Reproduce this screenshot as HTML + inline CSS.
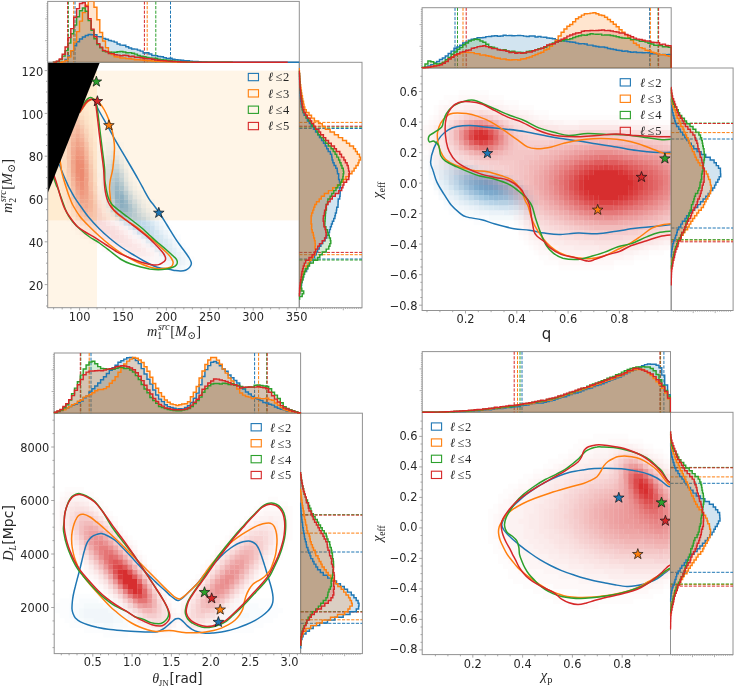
<!DOCTYPE html><html><head><meta charset="utf-8"><title>Posterior comparison</title><style>html,body{margin:0;padding:0;background:#fff}svg{display:block}</style></head><body><svg width="735" height="687" viewBox="0 0 735 687"><rect width="735" height="687" fill="#fff"/><clipPath id="c1m"><rect x="47.7" y="62.3" width="251.6" height="245.4"/></clipPath><clipPath id="c1t"><rect x="47.1" y="1.4" width="252.8" height="61.6"/></clipPath><clipPath id="c1r"><rect x="298.6" y="61.7" width="63.4" height="246.6"/></clipPath><g clip-path="url(#c1m)"><path fill="#fefcfc" d="M75.3 102.4h4.65v4.65h-4.65zM79.7 102.4h4.65v4.65h-4.65zM84.1 102.4h4.65v4.65h-4.65zM70.9 106.8h4.65v4.65h-4.65zM84.1 106.8h4.65v4.65h-4.65zM66.5 115.6h4.65v4.65h-4.65zM88.5 115.6h4.65v4.65h-4.65zM88.5 120h4.65v4.65h-4.65zM62.1 124.4h4.65v4.65h-4.65zM62.1 128.8h4.65v4.65h-4.65zM92.9 128.8h4.65v4.65h-4.65zM92.9 133.2h4.65v4.65h-4.65zM92.9 137.6h4.65v4.65h-4.65zM57.7 142h4.65v4.65h-4.65zM57.7 146.4h4.65v4.65h-4.65zM57.7 150.8h4.65v4.65h-4.65zM57.7 155.2h4.65v4.65h-4.65zM57.7 159.6h4.65v4.65h-4.65zM57.7 164h4.65v4.65h-4.65zM57.7 168.4h4.65v4.65h-4.65zM57.7 172.8h4.65v4.65h-4.65zM57.7 177.2h4.65v4.65h-4.65zM57.7 181.6h4.65v4.65h-4.65zM57.7 186h4.65v4.65h-4.65zM62.1 199.2h4.65v4.65h-4.65zM62.1 203.6h4.65v4.65h-4.65zM62.1 208h4.65v4.65h-4.65zM66.5 216.8h4.65v4.65h-4.65zM70.9 225.6h4.65v4.65h-4.65zM75.3 230h4.65v4.65h-4.65zM79.7 234.4h4.65v4.65h-4.65zM88.5 238.8h4.65v4.65h-4.65zM97.3 243.2h4.65v4.65h-4.65zM101.7 247.6h4.65v4.65h-4.65zM110.5 252h4.65v4.65h-4.65zM119.3 256.4h4.65v4.65h-4.65zM123.7 256.4h4.65v4.65h-4.65zM132.5 260.8h4.65v4.65h-4.65zM145.7 265.2h4.65v4.65h-4.65zM150.1 265.2h4.65v4.65h-4.65zM154.5 265.2h4.65v4.65h-4.65z"/><path fill="#fdf5f5" d="M75.3 106.8h4.65v4.65h-4.65zM79.7 106.8h4.65v4.65h-4.65zM70.9 111.2h4.65v4.65h-4.65zM84.1 115.6h4.65v4.65h-4.65zM66.5 120h4.65v4.65h-4.65zM88.5 128.8h4.65v4.65h-4.65zM62.1 137.6h4.65v4.65h-4.65zM92.9 150.8h4.65v4.65h-4.65zM92.9 155.2h4.65v4.65h-4.65zM62.1 177.2h4.65v4.65h-4.65zM62.1 181.6h4.65v4.65h-4.65zM97.3 186h4.65v4.65h-4.65zM66.5 203.6h4.65v4.65h-4.65zM70.9 216.8h4.65v4.65h-4.65zM75.3 225.6h4.65v4.65h-4.65zM79.7 230h4.65v4.65h-4.65zM101.7 243.2h4.65v4.65h-4.65zM110.5 247.6h4.65v4.65h-4.65zM119.3 252h4.65v4.65h-4.65zM132.5 256.4h4.65v4.65h-4.65zM150.1 256.4h4.65v4.65h-4.65z"/><path fill="#fbe7e7" d="M75.3 111.2h4.65v4.65h-4.65zM70.9 115.6h4.65v4.65h-4.65zM88.5 146.4h4.65v4.65h-4.65zM92.9 181.6h4.65v4.65h-4.65zM97.3 199.2h4.65v4.65h-4.65zM101.7 212.4h4.65v4.65h-4.65zM75.3 216.8h4.65v4.65h-4.65zM84.1 225.6h4.65v4.65h-4.65zM114.9 225.6h4.65v4.65h-4.65zM92.9 230h4.65v4.65h-4.65zM119.3 230h4.65v4.65h-4.65zM123.7 234.4h4.65v4.65h-4.65zM106.1 238.8h4.65v4.65h-4.65zM128.1 238.8h4.65v4.65h-4.65zM114.9 243.2h4.65v4.65h-4.65zM132.5 243.2h4.65v4.65h-4.65zM128.1 247.6h4.65v4.65h-4.65zM132.5 247.6h4.65v4.65h-4.65zM136.9 247.6h4.65v4.65h-4.65z"/><path fill="#fcf2f2" d="M79.7 111.2h4.65v4.65h-4.65zM84.1 120h4.65v4.65h-4.65zM88.5 133.2h4.65v4.65h-4.65zM92.9 159.6h4.65v4.65h-4.65zM92.9 164h4.65v4.65h-4.65zM62.1 168.4h4.65v4.65h-4.65zM62.1 172.8h4.65v4.65h-4.65zM97.3 190.4h4.65v4.65h-4.65zM66.5 199.2h4.65v4.65h-4.65zM88.5 234.4h4.65v4.65h-4.65zM97.3 238.8h4.65v4.65h-4.65zM136.9 238.8h4.65v4.65h-4.65zM106.1 243.2h4.65v4.65h-4.65zM141.3 243.2h4.65v4.65h-4.65zM114.9 247.6h4.65v4.65h-4.65zM145.7 247.6h4.65v4.65h-4.65zM123.7 252h4.65v4.65h-4.65zM150.1 252h4.65v4.65h-4.65zM136.9 256.4h4.65v4.65h-4.65zM141.3 256.4h4.65v4.65h-4.65zM145.7 256.4h4.65v4.65h-4.65z"/><path fill="#fef8f8" d="M84.1 111.2h4.65v4.65h-4.65zM88.5 124.4h4.65v4.65h-4.65zM62.1 133.2h4.65v4.65h-4.65zM92.9 142h4.65v4.65h-4.65zM92.9 146.4h4.65v4.65h-4.65zM97.3 177.2h4.65v4.65h-4.65zM97.3 181.6h4.65v4.65h-4.65zM62.1 186h4.65v4.65h-4.65zM62.1 190.4h4.65v4.65h-4.65zM62.1 194.8h4.65v4.65h-4.65zM66.5 208h4.65v4.65h-4.65zM66.5 212.4h4.65v4.65h-4.65zM70.9 221.2h4.65v4.65h-4.65zM84.1 234.4h4.65v4.65h-4.65zM92.9 238.8h4.65v4.65h-4.65zM106.1 247.6h4.65v4.65h-4.65zM114.9 252h4.65v4.65h-4.65zM128.1 256.4h4.65v4.65h-4.65zM136.9 260.8h4.65v4.65h-4.65zM141.3 260.8h4.65v4.65h-4.65zM145.7 260.8h4.65v4.65h-4.65zM150.1 260.8h4.65v4.65h-4.65z"/><path fill="#f9dddd" d="M75.3 115.6h4.65v4.65h-4.65zM84.1 133.2h4.65v4.65h-4.65zM88.5 155.2h4.65v4.65h-4.65zM66.5 177.2h4.65v4.65h-4.65zM70.9 199.2h4.65v4.65h-4.65zM97.3 208h4.65v4.65h-4.65zM75.3 212.4h4.65v4.65h-4.65zM84.1 221.2h4.65v4.65h-4.65zM101.7 221.2h4.65v4.65h-4.65zM97.3 225.6h4.65v4.65h-4.65zM101.7 225.6h4.65v4.65h-4.65zM106.1 225.6h4.65v4.65h-4.65zM101.7 230h4.65v4.65h-4.65zM106.1 230h4.65v4.65h-4.65zM110.5 230h4.65v4.65h-4.65zM110.5 234.4h4.65v4.65h-4.65zM114.9 234.4h4.65v4.65h-4.65z"/><path fill="#fbebeb" d="M79.7 115.6h4.65v4.65h-4.65zM84.1 124.4h4.65v4.65h-4.65zM88.5 142h4.65v4.65h-4.65zM92.9 172.8h4.65v4.65h-4.65zM92.9 177.2h4.65v4.65h-4.65zM66.5 190.4h4.65v4.65h-4.65zM70.9 208h4.65v4.65h-4.65zM101.7 208h4.65v4.65h-4.65zM106.1 216.8h4.65v4.65h-4.65zM110.5 221.2h4.65v4.65h-4.65zM88.5 230h4.65v4.65h-4.65zM97.3 234.4h4.65v4.65h-4.65zM110.5 243.2h4.65v4.65h-4.65zM136.9 243.2h4.65v4.65h-4.65zM123.7 247.6h4.65v4.65h-4.65zM141.3 247.6h4.65v4.65h-4.65zM132.5 252h4.65v4.65h-4.65zM136.9 252h4.65v4.65h-4.65zM141.3 252h4.65v4.65h-4.65z"/><path fill="#f7d6d7" d="M70.9 120h4.65v4.65h-4.65zM79.7 124.4h4.65v4.65h-4.65zM66.5 137.6h4.65v4.65h-4.65zM84.1 137.6h4.65v4.65h-4.65zM66.5 142h4.65v4.65h-4.65zM66.5 168.4h4.65v4.65h-4.65zM92.9 199.2h4.65v4.65h-4.65z"/><path fill="#f7d3d3" d="M75.3 120h4.65v4.65h-4.65zM66.5 146.4h4.65v4.65h-4.65zM66.5 150.8h4.65v4.65h-4.65zM66.5 159.6h4.65v4.65h-4.65zM66.5 164h4.65v4.65h-4.65zM88.5 164h4.65v4.65h-4.65zM70.9 194.8h4.65v4.65h-4.65zM75.3 208h4.65v4.65h-4.65zM92.9 216.8h4.65v4.65h-4.65z"/><path fill="#f9e1e1" d="M79.7 120h4.65v4.65h-4.65zM88.5 150.8h4.65v4.65h-4.65zM66.5 181.6h4.65v4.65h-4.65zM92.9 190.4h4.65v4.65h-4.65zM101.7 216.8h4.65v4.65h-4.65zM92.9 225.6h4.65v4.65h-4.65zM110.5 225.6h4.65v4.65h-4.65zM114.9 230h4.65v4.65h-4.65zM106.1 234.4h4.65v4.65h-4.65zM119.3 234.4h4.65v4.65h-4.65zM114.9 238.8h4.65v4.65h-4.65zM119.3 238.8h4.65v4.65h-4.65z"/><path fill="#fceeee" d="M66.5 124.4h4.65v4.65h-4.65zM88.5 137.6h4.65v4.65h-4.65zM62.1 142h4.65v4.65h-4.65zM62.1 146.4h4.65v4.65h-4.65zM62.1 150.8h4.65v4.65h-4.65zM62.1 155.2h4.65v4.65h-4.65zM62.1 159.6h4.65v4.65h-4.65zM62.1 164h4.65v4.65h-4.65zM92.9 168.4h4.65v4.65h-4.65zM66.5 194.8h4.65v4.65h-4.65zM97.3 194.8h4.65v4.65h-4.65zM70.9 212.4h4.65v4.65h-4.65zM75.3 221.2h4.65v4.65h-4.65zM79.7 225.6h4.65v4.65h-4.65zM119.3 225.6h4.65v4.65h-4.65zM84.1 230h4.65v4.65h-4.65zM123.7 230h4.65v4.65h-4.65zM92.9 234.4h4.65v4.65h-4.65zM128.1 234.4h4.65v4.65h-4.65zM101.7 238.8h4.65v4.65h-4.65zM132.5 238.8h4.65v4.65h-4.65zM119.3 247.6h4.65v4.65h-4.65zM128.1 252h4.65v4.65h-4.65zM145.7 252h4.65v4.65h-4.65z"/><path fill="#f5cccd" d="M70.9 124.4h4.65v4.65h-4.65zM79.7 128.8h4.65v4.65h-4.65zM84.1 142h4.65v4.65h-4.65zM88.5 172.8h4.65v4.65h-4.65zM88.5 177.2h4.65v4.65h-4.65zM70.9 190.4h4.65v4.65h-4.65zM79.7 212.4h4.65v4.65h-4.65z"/><path fill="#f4c6c6" d="M75.3 124.4h4.65v4.65h-4.65zM70.9 128.8h4.65v4.65h-4.65zM84.1 146.4h4.65v4.65h-4.65zM70.9 186h4.65v4.65h-4.65zM88.5 186h4.65v4.65h-4.65zM88.5 212.4h4.65v4.65h-4.65z"/><path fill="#fae4e4" d="M66.5 128.8h4.65v4.65h-4.65zM84.1 128.8h4.65v4.65h-4.65zM66.5 186h4.65v4.65h-4.65zM92.9 186h4.65v4.65h-4.65zM70.9 203.6h4.65v4.65h-4.65zM97.3 203.6h4.65v4.65h-4.65zM79.7 221.2h4.65v4.65h-4.65zM106.1 221.2h4.65v4.65h-4.65zM88.5 225.6h4.65v4.65h-4.65zM97.3 230h4.65v4.65h-4.65zM101.7 234.4h4.65v4.65h-4.65zM110.5 238.8h4.65v4.65h-4.65zM123.7 238.8h4.65v4.65h-4.65zM119.3 243.2h4.65v4.65h-4.65zM123.7 243.2h4.65v4.65h-4.65zM128.1 243.2h4.65v4.65h-4.65z"/><path fill="#f2bcbc" d="M75.3 128.8h4.65v4.65h-4.65zM70.9 137.6h4.65v4.65h-4.65zM88.5 199.2h4.65v4.65h-4.65zM88.5 203.6h4.65v4.65h-4.65z"/><path fill="#fcfdfe" d="M106.1 128.8h4.65v4.65h-4.65zM101.7 133.2h4.65v4.65h-4.65zM106.1 133.2h4.65v4.65h-4.65zM110.5 133.2h4.65v4.65h-4.65zM101.7 137.6h4.65v4.65h-4.65zM114.9 137.6h4.65v4.65h-4.65zM97.3 142h4.65v4.65h-4.65zM119.3 142h4.65v4.65h-4.65zM97.3 146.4h4.65v4.65h-4.65zM119.3 146.4h4.65v4.65h-4.65zM123.7 150.8h4.65v4.65h-4.65zM123.7 155.2h4.65v4.65h-4.65zM128.1 164h4.65v4.65h-4.65zM128.1 168.4h4.65v4.65h-4.65zM132.5 177.2h4.65v4.65h-4.65zM136.9 186h4.65v4.65h-4.65zM141.3 190.4h4.65v4.65h-4.65zM145.7 194.8h4.65v4.65h-4.65zM150.1 199.2h4.65v4.65h-4.65zM150.1 203.6h4.65v4.65h-4.65zM154.5 208h4.65v4.65h-4.65zM158.9 212.4h4.65v4.65h-4.65zM163.3 216.8h4.65v4.65h-4.65zM167.7 225.6h4.65v4.65h-4.65zM172.1 230h4.65v4.65h-4.65zM176.5 234.4h4.65v4.65h-4.65zM180.9 243.2h4.65v4.65h-4.65zM185.3 247.6h4.65v4.65h-4.65zM189.7 256.4h4.65v4.65h-4.65zM189.7 260.8h4.65v4.65h-4.65zM158.9 265.2h4.65v4.65h-4.65zM163.3 265.2h4.65v4.65h-4.65zM189.7 265.2h4.65v4.65h-4.65zM172.1 269.6h4.65v4.65h-4.65zM176.5 269.6h4.65v4.65h-4.65zM180.9 269.6h4.65v4.65h-4.65zM185.3 269.6h4.65v4.65h-4.65z"/><path fill="#f8dada" d="M66.5 133.2h4.65v4.65h-4.65zM88.5 159.6h4.65v4.65h-4.65zM66.5 172.8h4.65v4.65h-4.65zM92.9 194.8h4.65v4.65h-4.65zM97.3 212.4h4.65v4.65h-4.65zM79.7 216.8h4.65v4.65h-4.65zM97.3 216.8h4.65v4.65h-4.65zM88.5 221.2h4.65v4.65h-4.65zM92.9 221.2h4.65v4.65h-4.65zM97.3 221.2h4.65v4.65h-4.65z"/><path fill="#f3bfbf" d="M70.9 133.2h4.65v4.65h-4.65zM84.1 150.8h4.65v4.65h-4.65zM70.9 181.6h4.65v4.65h-4.65zM88.5 194.8h4.65v4.65h-4.65zM75.3 199.2h4.65v4.65h-4.65zM79.7 208h4.65v4.65h-4.65zM88.5 208h4.65v4.65h-4.65z"/><path fill="#f0b1b2" d="M75.3 133.2h4.65v4.65h-4.65zM70.9 146.4h4.65v4.65h-4.65zM84.1 159.6h4.65v4.65h-4.65zM70.9 172.8h4.65v4.65h-4.65z"/><path fill="#f3c2c3" d="M79.7 133.2h4.65v4.65h-4.65zM88.5 190.4h4.65v4.65h-4.65zM84.1 212.4h4.65v4.65h-4.65z"/><path fill="#efabab" d="M75.3 137.6h4.65v4.65h-4.65zM70.9 155.2h4.65v4.65h-4.65zM70.9 164h4.65v4.65h-4.65zM84.1 164h4.65v4.65h-4.65zM70.9 168.4h4.65v4.65h-4.65zM75.3 190.4h4.65v4.65h-4.65zM84.1 199.2h4.65v4.65h-4.65z"/><path fill="#f2b8b8" d="M79.7 137.6h4.65v4.65h-4.65zM84.1 155.2h4.65v4.65h-4.65zM70.9 177.2h4.65v4.65h-4.65zM84.1 208h4.65v4.65h-4.65z"/><path fill="#f8fbfd" d="M106.1 137.6h4.65v4.65h-4.65zM110.5 137.6h4.65v4.65h-4.65zM101.7 142h4.65v4.65h-4.65zM114.9 142h4.65v4.65h-4.65zM101.7 146.4h4.65v4.65h-4.65zM123.7 159.6h4.65v4.65h-4.65zM128.1 172.8h4.65v4.65h-4.65zM132.5 181.6h4.65v4.65h-4.65zM141.3 194.8h4.65v4.65h-4.65zM145.7 199.2h4.65v4.65h-4.65zM150.1 208h4.65v4.65h-4.65zM154.5 212.4h4.65v4.65h-4.65zM158.9 216.8h4.65v4.65h-4.65zM163.3 221.2h4.65v4.65h-4.65zM172.1 234.4h4.65v4.65h-4.65zM176.5 238.8h4.65v4.65h-4.65zM180.9 247.6h4.65v4.65h-4.65zM185.3 252h4.65v4.65h-4.65zM167.7 265.2h4.65v4.65h-4.65zM185.3 265.2h4.65v4.65h-4.65z"/><path fill="#f1b5b5" d="M70.9 142h4.65v4.65h-4.65zM75.3 194.8h4.65v4.65h-4.65zM79.7 203.6h4.65v4.65h-4.65z"/><path fill="#eea4a4" d="M75.3 142h4.65v4.65h-4.65zM79.7 146.4h4.65v4.65h-4.65zM84.1 172.8h4.65v4.65h-4.65zM84.1 186h4.65v4.65h-4.65zM84.1 190.4h4.65v4.65h-4.65z"/><path fill="#f0aeae" d="M79.7 142h4.65v4.65h-4.65zM70.9 150.8h4.65v4.65h-4.65zM84.1 203.6h4.65v4.65h-4.65z"/><path fill="#f4f9fb" d="M106.1 142h4.65v4.65h-4.65zM110.5 142h4.65v4.65h-4.65zM114.9 146.4h4.65v4.65h-4.65zM101.7 150.8h4.65v4.65h-4.65zM119.3 150.8h4.65v4.65h-4.65zM123.7 164h4.65v4.65h-4.65zM128.1 177.2h4.65v4.65h-4.65zM132.5 186h4.65v4.65h-4.65zM136.9 190.4h4.65v4.65h-4.65zM145.7 203.6h4.65v4.65h-4.65zM163.3 225.6h4.65v4.65h-4.65zM167.7 230h4.65v4.65h-4.65zM176.5 243.2h4.65v4.65h-4.65zM185.3 256.4h4.65v4.65h-4.65zM185.3 260.8h4.65v4.65h-4.65zM172.1 265.2h4.65v4.65h-4.65zM180.9 265.2h4.65v4.65h-4.65z"/><path fill="#ec9d9e" d="M75.3 146.4h4.65v4.65h-4.65zM79.7 150.8h4.65v4.65h-4.65z"/><path fill="#f1f6fa" d="M106.1 146.4h4.65v4.65h-4.65zM110.5 146.4h4.65v4.65h-4.65zM101.7 155.2h4.65v4.65h-4.65zM119.3 155.2h4.65v4.65h-4.65zM101.7 159.6h4.65v4.65h-4.65zM141.3 199.2h4.65v4.65h-4.65zM150.1 212.4h4.65v4.65h-4.65zM154.5 216.8h4.65v4.65h-4.65zM158.9 221.2h4.65v4.65h-4.65zM167.7 234.4h4.65v4.65h-4.65zM172.1 238.8h4.65v4.65h-4.65zM176.5 247.6h4.65v4.65h-4.65zM180.9 252h4.65v4.65h-4.65zM167.7 260.8h4.65v4.65h-4.65zM176.5 265.2h4.65v4.65h-4.65z"/><path fill="#eb9697" d="M75.3 150.8h4.65v4.65h-4.65zM79.7 190.4h4.65v4.65h-4.65z"/><path fill="#fbfafa" d="M97.3 150.8h4.65v4.65h-4.65zM97.3 155.2h4.65v4.65h-4.65zM97.3 159.6h4.65v4.65h-4.65zM97.3 164h4.65v4.65h-4.65zM97.3 168.4h4.65v4.65h-4.65z"/><path fill="#eef4f9" d="M106.1 150.8h4.65v4.65h-4.65zM114.9 150.8h4.65v4.65h-4.65zM101.7 164h4.65v4.65h-4.65zM101.7 168.4h4.65v4.65h-4.65zM123.7 168.4h4.65v4.65h-4.65zM101.7 172.8h4.65v4.65h-4.65zM101.7 177.2h4.65v4.65h-4.65zM128.1 181.6h4.65v4.65h-4.65zM136.9 194.8h4.65v4.65h-4.65zM145.7 208h4.65v4.65h-4.65zM163.3 230h4.65v4.65h-4.65zM172.1 243.2h4.65v4.65h-4.65zM180.9 256.4h4.65v4.65h-4.65zM180.9 260.8h4.65v4.65h-4.65z"/><path fill="#e6f0f7" d="M110.5 150.8h4.65v4.65h-4.65zM106.1 155.2h4.65v4.65h-4.65zM123.7 172.8h4.65v4.65h-4.65zM128.1 186h4.65v4.65h-4.65zM150.1 216.8h4.65v4.65h-4.65zM154.5 221.2h4.65v4.65h-4.65zM163.3 234.4h4.65v4.65h-4.65zM167.7 238.8h4.65v4.65h-4.65zM172.1 247.6h4.65v4.65h-4.65zM167.7 256.4h4.65v4.65h-4.65zM176.5 256.4h4.65v4.65h-4.65z"/><path fill="#f6d0d0" d="M66.5 155.2h4.65v4.65h-4.65zM88.5 168.4h4.65v4.65h-4.65zM92.9 203.6h4.65v4.65h-4.65zM92.9 208h4.65v4.65h-4.65zM92.9 212.4h4.65v4.65h-4.65zM84.1 216.8h4.65v4.65h-4.65zM88.5 216.8h4.65v4.65h-4.65z"/><path fill="#ea9090" d="M75.3 155.2h4.65v4.65h-4.65zM75.3 177.2h4.65v4.65h-4.65zM79.7 186h4.65v4.65h-4.65z"/><path fill="#ea9394" d="M79.7 155.2h4.65v4.65h-4.65z"/><path fill="#e0ecf4" d="M110.5 155.2h4.65v4.65h-4.65zM106.1 159.6h4.65v4.65h-4.65zM119.3 164h4.65v4.65h-4.65zM123.7 177.2h4.65v4.65h-4.65zM132.5 194.8h4.65v4.65h-4.65zM141.3 208h4.65v4.65h-4.65zM154.5 225.6h4.65v4.65h-4.65zM167.7 243.2h4.65v4.65h-4.65zM167.7 252h4.65v4.65h-4.65z"/><path fill="#e3eef6" d="M114.9 155.2h4.65v4.65h-4.65zM136.9 199.2h4.65v4.65h-4.65zM145.7 212.4h4.65v4.65h-4.65zM158.9 230h4.65v4.65h-4.65zM172.1 252h4.65v4.65h-4.65zM172.1 256.4h4.65v4.65h-4.65z"/><path fill="#eea7a8" d="M70.9 159.6h4.65v4.65h-4.65zM84.1 168.4h4.65v4.65h-4.65zM84.1 194.8h4.65v4.65h-4.65zM79.7 199.2h4.65v4.65h-4.65z"/><path fill="#e98989" d="M75.3 159.6h4.65v4.65h-4.65zM75.3 164h4.65v4.65h-4.65zM79.7 164h4.65v4.65h-4.65zM75.3 168.4h4.65v4.65h-4.65z"/><path fill="#e98c8d" d="M79.7 159.6h4.65v4.65h-4.65zM75.3 172.8h4.65v4.65h-4.65zM79.7 181.6h4.65v4.65h-4.65z"/><path fill="#d2e3f0" d="M110.5 159.6h4.65v4.65h-4.65zM106.1 172.8h4.65v4.65h-4.65zM106.1 177.2h4.65v4.65h-4.65zM106.1 181.6h4.65v4.65h-4.65zM106.1 186h4.65v4.65h-4.65zM154.5 234.4h4.65v4.65h-4.65zM154.5 238.8h4.65v4.65h-4.65z"/><path fill="#d8e8f2" d="M114.9 159.6h4.65v4.65h-4.65zM106.1 164h4.65v4.65h-4.65zM136.9 203.6h4.65v4.65h-4.65zM145.7 216.8h4.65v4.65h-4.65zM150.1 221.2h4.65v4.65h-4.65zM158.9 234.4h4.65v4.65h-4.65zM163.3 243.2h4.65v4.65h-4.65zM163.3 247.6h4.65v4.65h-4.65z"/><path fill="#eaf2f8" d="M119.3 159.6h4.65v4.65h-4.65zM132.5 190.4h4.65v4.65h-4.65zM141.3 203.6h4.65v4.65h-4.65zM158.9 225.6h4.65v4.65h-4.65zM176.5 252h4.65v4.65h-4.65zM172.1 260.8h4.65v4.65h-4.65zM176.5 260.8h4.65v4.65h-4.65z"/><path fill="#c7ddec" d="M110.5 164h4.65v4.65h-4.65zM119.3 172.8h4.65v4.65h-4.65zM123.7 186h4.65v4.65h-4.65zM141.3 216.8h4.65v4.65h-4.65z"/><path fill="#cadfed" d="M114.9 164h4.65v4.65h-4.65zM145.7 221.2h4.65v4.65h-4.65zM150.1 230h4.65v4.65h-4.65zM150.1 234.4h4.65v4.65h-4.65z"/><path fill="#e88686" d="M79.7 168.4h4.65v4.65h-4.65zM79.7 172.8h4.65v4.65h-4.65zM79.7 177.2h4.65v4.65h-4.65z"/><path fill="#d5e6f1" d="M106.1 168.4h4.65v4.65h-4.65zM119.3 168.4h4.65v4.65h-4.65zM123.7 181.6h4.65v4.65h-4.65zM106.1 190.4h4.65v4.65h-4.65zM128.1 190.4h4.65v4.65h-4.65zM141.3 212.4h4.65v4.65h-4.65zM154.5 230h4.65v4.65h-4.65zM158.9 238.8h4.65v4.65h-4.65zM158.9 243.2h4.65v4.65h-4.65z"/><path fill="#bcd7e9" d="M110.5 168.4h4.65v4.65h-4.65zM114.9 168.4h4.65v4.65h-4.65zM119.3 177.2h4.65v4.65h-4.65zM136.9 216.8h4.65v4.65h-4.65zM132.5 221.2h4.65v4.65h-4.65zM136.9 221.2h4.65v4.65h-4.65zM141.3 225.6h4.65v4.65h-4.65z"/><path fill="#faf6f7" d="M97.3 172.8h4.65v4.65h-4.65zM154.5 252h4.65v4.65h-4.65zM154.5 256.4h4.65v4.65h-4.65zM154.5 260.8h4.65v4.65h-4.65z"/><path fill="#b6d2e6" d="M110.5 172.8h4.65v4.65h-4.65zM132.5 208h4.65v4.65h-4.65zM132.5 216.8h4.65v4.65h-4.65z"/><path fill="#aecee4" d="M114.9 172.8h4.65v4.65h-4.65zM110.5 177.2h4.65v4.65h-4.65zM119.3 181.6h4.65v4.65h-4.65z"/><path fill="#eda0a1" d="M84.1 177.2h4.65v4.65h-4.65zM84.1 181.6h4.65v4.65h-4.65zM75.3 186h4.65v4.65h-4.65zM79.7 194.8h4.65v4.65h-4.65z"/><path fill="#a4c8e1" d="M114.9 177.2h4.65v4.65h-4.65zM128.1 203.6h4.65v4.65h-4.65zM128.1 212.4h4.65v4.65h-4.65z"/><path fill="#ec9a9a" d="M75.3 181.6h4.65v4.65h-4.65z"/><path fill="#f5c9c9" d="M88.5 181.6h4.65v4.65h-4.65zM75.3 203.6h4.65v4.65h-4.65z"/><path fill="#edf1f6" d="M101.7 181.6h4.65v4.65h-4.65z"/><path fill="#abcce3" d="M110.5 181.6h4.65v4.65h-4.65zM110.5 194.8h4.65v4.65h-4.65z"/><path fill="#9ac1dd" d="M114.9 181.6h4.65v4.65h-4.65z"/><path fill="#f1f3f7" d="M101.7 186h4.65v4.65h-4.65zM101.7 190.4h4.65v4.65h-4.65z"/><path fill="#a8cae2" d="M110.5 186h4.65v4.65h-4.65zM110.5 190.4h4.65v4.65h-4.65z"/><path fill="#8fbbda" d="M114.9 186h4.65v4.65h-4.65zM119.3 190.4h4.65v4.65h-4.65zM123.7 199.2h4.65v4.65h-4.65z"/><path fill="#a0c6df" d="M119.3 186h4.65v4.65h-4.65zM123.7 194.8h4.65v4.65h-4.65zM128.1 208h4.65v4.65h-4.65z"/><path fill="#88b7d7" d="M114.9 190.4h4.65v4.65h-4.65zM114.9 199.2h4.65v4.65h-4.65zM123.7 203.6h4.65v4.65h-4.65z"/><path fill="#b2d0e5" d="M123.7 190.4h4.65v4.65h-4.65zM110.5 199.2h4.65v4.65h-4.65zM128.1 199.2h4.65v4.65h-4.65zM132.5 212.4h4.65v4.65h-4.65zM128.1 216.8h4.65v4.65h-4.65z"/><path fill="#f4f2f5" d="M101.7 194.8h4.65v4.65h-4.65zM136.9 234.4h4.65v4.65h-4.65z"/><path fill="#d8e5ef" d="M106.1 194.8h4.65v4.65h-4.65zM154.5 243.2h4.65v4.65h-4.65z"/><path fill="#84b5d6" d="M114.9 194.8h4.65v4.65h-4.65z"/><path fill="#81b2d5" d="M119.3 194.8h4.65v4.65h-4.65z"/><path fill="#c4dbeb" d="M128.1 194.8h4.65v4.65h-4.65zM136.9 212.4h4.65v4.65h-4.65zM145.7 225.6h4.65v4.65h-4.65zM141.3 230h4.65v4.65h-4.65zM145.7 230h4.65v4.65h-4.65z"/><path fill="#f6f1f3" d="M101.7 199.2h4.65v4.65h-4.65zM123.7 225.6h4.65v4.65h-4.65zM145.7 243.2h4.65v4.65h-4.65z"/><path fill="#dce7f0" d="M106.1 199.2h4.65v4.65h-4.65zM141.3 234.4h4.65v4.65h-4.65zM158.9 247.6h4.65v4.65h-4.65z"/><path fill="#7aaed2" d="M119.3 199.2h4.65v4.65h-4.65z"/><path fill="#cee1ef" d="M132.5 199.2h4.65v4.65h-4.65zM136.9 208h4.65v4.65h-4.65zM150.1 225.6h4.65v4.65h-4.65z"/><path fill="#f9eced" d="M101.7 203.6h4.65v4.65h-4.65zM106.1 212.4h4.65v4.65h-4.65z"/><path fill="#e6eaf0" d="M106.1 203.6h4.65v4.65h-4.65zM128.1 225.6h4.65v4.65h-4.65zM150.1 243.2h4.65v4.65h-4.65z"/><path fill="#bdd4e6" d="M110.5 203.6h4.65v4.65h-4.65z"/><path fill="#92bddb" d="M114.9 203.6h4.65v4.65h-4.65z"/><path fill="#7eb0d4" d="M119.3 203.6h4.65v4.65h-4.65z"/><path fill="#c0d9ea" d="M132.5 203.6h4.65v4.65h-4.65zM141.3 221.2h4.65v4.65h-4.65zM136.9 225.6h4.65v4.65h-4.65z"/><path fill="#f3eff2" d="M106.1 208h4.65v4.65h-4.65z"/><path fill="#cedbe8" d="M110.5 208h4.65v4.65h-4.65z"/><path fill="#a8c7df" d="M114.9 208h4.65v4.65h-4.65z"/><path fill="#8cb9d8" d="M119.3 208h4.65v4.65h-4.65zM123.7 208h4.65v4.65h-4.65z"/><path fill="#ecebef" d="M110.5 212.4h4.65v4.65h-4.65zM114.9 216.8h4.65v4.65h-4.65z"/><path fill="#c4d8e8" d="M114.9 212.4h4.65v4.65h-4.65zM128.1 221.2h4.65v4.65h-4.65z"/><path fill="#a5c5de" d="M119.3 212.4h4.65v4.65h-4.65z"/><path fill="#9dc4de" d="M123.7 212.4h4.65v4.65h-4.65z"/><path fill="#f9f0f0" d="M110.5 216.8h4.65v4.65h-4.65zM114.9 221.2h4.65v4.65h-4.65z"/><path fill="#c7dae9" d="M119.3 216.8h4.65v4.65h-4.65z"/><path fill="#b6d0e3" d="M123.7 216.8h4.65v4.65h-4.65z"/><path fill="#f0edf0" d="M119.3 221.2h4.65v4.65h-4.65z"/><path fill="#d8e2ec" d="M123.7 221.2h4.65v4.65h-4.65z"/><path fill="#cbdcea" d="M132.5 225.6h4.65v4.65h-4.65zM145.7 234.4h4.65v4.65h-4.65z"/><path fill="#faf3f4" d="M128.1 230h4.65v4.65h-4.65zM132.5 234.4h4.65v4.65h-4.65zM150.1 247.6h4.65v4.65h-4.65z"/><path fill="#edeef3" d="M132.5 230h4.65v4.65h-4.65z"/><path fill="#d2e0ed" d="M136.9 230h4.65v4.65h-4.65zM150.1 238.8h4.65v4.65h-4.65z"/><path fill="#f7f4f6" d="M141.3 238.8h4.65v4.65h-4.65z"/><path fill="#e3ebf2" d="M145.7 238.8h4.65v4.65h-4.65z"/><path fill="#dceaf3" d="M163.3 238.8h4.65v4.65h-4.65zM167.7 247.6h4.65v4.65h-4.65z"/><path fill="#e9ecf1" d="M154.5 247.6h4.65v4.65h-4.65z"/><path fill="#eaeff5" d="M158.9 252h4.65v4.65h-4.65zM163.3 256.4h4.65v4.65h-4.65z"/><path fill="#dfe9f1" d="M163.3 252h4.65v4.65h-4.65z"/><path fill="#f7f7f9" d="M158.9 256.4h4.65v4.65h-4.65zM158.9 260.8h4.65v4.65h-4.65z"/><path fill="#f4f5f8" d="M163.3 260.8h4.65v4.65h-4.65z"/><rect x="47.7" y="70.6" width="251.6" height="149.8" fill="#ff9e1f" fill-opacity="0.105"/><rect x="47.7" y="70.6" width="49.3" height="237.1" fill="#ff9e1f" fill-opacity="0.105"/><path d="M59.5 165C60.1 166.5 61.8 171.2 63 174C64.2 176.8 65.5 179.8 66.5 182C67.5 184.2 67.5 184.7 69 187.5C70.5 190.3 73.2 195.4 75.3 198.7C77.4 202 79.3 204.4 81.5 207.5C83.7 210.6 85.6 213.5 88.5 217C91.4 220.5 95.4 224.9 99 228.5C102.6 232.1 106.6 235.7 110.3 238.8C114 241.9 117.4 244.5 121 247C124.6 249.5 128.3 251.8 132 254C135.7 256.2 139.4 258.5 143 260.5C146.6 262.5 150.7 264.7 153.8 266C156.9 267.3 159 267.7 161.5 268.2C164 268.7 166.7 268.8 169 269.2C171.3 269.6 173.5 270.3 175.5 270.6C177.5 270.9 179.3 271.1 181 271C182.7 270.9 184.2 270.7 185.5 270.2C186.8 269.7 187.8 269 188.7 268.2C189.6 267.4 190.4 266.4 190.8 265.5C191.2 264.6 191.5 263.9 191.3 262.7C191.1 261.5 190.3 259.9 189.5 258.5C188.7 257.1 187.9 256 186.5 254C185.1 252 182.8 249 181 246.5C179.2 244 177.9 242.4 175.6 238.8C173.3 235.2 169.8 229.5 167 225C164.2 220.5 161 215.2 158.8 212C156.6 208.8 155.6 207.6 154 205.5C152.4 203.4 151.2 202.2 149.5 199.6C147.8 197 145.8 193.3 144 190C142.2 186.7 141.4 185 138.6 180C135.8 175 130.9 166.6 127 160C123.1 153.4 118.6 146 115.3 140.2C112 134.4 109.8 130 107 125C104.2 120 100.4 113.5 98.6 110C96.8 106.5 96.7 105.6 96 104C95.3 102.4 95.1 101.3 94.5 100.5C93.9 99.7 93.3 99.1 92.5 99C91.7 98.9 90.6 99.3 89.5 100C88.4 100.7 87.6 101 86 103C84.4 105 81 110.5 80 112" fill="none" stroke="#1f77b4" stroke-width="1.5" stroke-linejoin="round" stroke-linecap="round"/><path d="M59.5 157C59.8 158.5 60.6 163.5 61 166C61.4 168.5 60.9 168.7 61.7 172C62.5 175.3 64.3 181.6 65.7 186C67.1 190.4 68.7 195.2 70 198.5C71.3 201.8 71.6 203 73.3 206C75 209 77.5 213.2 80 216.5C82.5 219.8 85.3 222.5 88.5 225.7C91.7 228.9 95.4 232.4 99 235.7C102.6 239 106.6 242.4 110.3 245.3C114 248.2 117.4 250.6 121 253C124.6 255.4 128.7 257.7 132 259.5C135.3 261.3 138.1 262.6 141 263.8C143.9 265.1 147 266.2 149.5 267C152 267.8 153.8 268.1 156 268.4C158.2 268.7 160.6 268.7 162.5 268.6C164.4 268.5 166 268.3 167.5 268C169 267.7 170.4 267.2 171.3 266.6C172.2 266 172.5 265.1 172.8 264.3C173.1 263.5 173.3 262.7 173 261.6C172.7 260.6 172 259.3 171.2 258C170.4 256.7 169.7 255.8 168 254C166.3 252.2 163.4 249.7 161 247.5C158.6 245.3 156.5 243.3 153.8 241C151.1 238.7 147.9 236.2 145 233.8C142.1 231.4 139.2 228.8 136.4 226.8C133.7 224.8 131 223.4 128.5 221.8C126 220.2 123.3 218.5 121.2 217C119.1 215.5 117.5 214.2 116 212.8C114.5 211.4 113.4 210.3 112.5 208.3C111.6 206.3 111 203.6 110.6 201C110.2 198.4 110.1 195.3 109.9 193C109.7 190.7 109.5 189.2 109.6 187C109.7 184.8 109.8 183.1 110.3 180C110.8 176.9 112.1 173.9 112.8 168.7C113.5 163.5 114.4 153.7 114.5 148.6C114.6 143.5 113.9 141.1 113.5 138C113.1 134.9 112.8 133.2 112 130C111.2 126.8 109.8 122.3 108.5 119C107.2 115.7 105.9 112.7 104.4 110C102.9 107.3 101 104.8 99.5 103C98 101.2 96.7 100.1 95.5 99.5C94.3 98.9 93.5 99 92.5 99.2C91.5 99.4 90.6 99.8 89.5 100.5C88.4 101.2 87.6 101.6 86 103.5C84.4 105.4 81 110.6 80 112" fill="none" stroke="#ff7f0e" stroke-width="1.5" stroke-linejoin="round" stroke-linecap="round"/><path d="M52.5 174.5C53.1 176.2 55.3 182.6 56.2 185C57.1 187.4 57 186.2 58 188.7C59 191.2 60.5 196 62 200C63.5 204 65 209.1 66.8 212.7C68.5 216.3 70.3 218.8 72.5 221.5C74.7 224.2 77 226.5 79.8 229C82.5 231.5 85.7 234.2 89 236.5C92.3 238.8 95.9 240.6 99.4 243C102.9 245.4 106.4 248.2 110 251C113.6 253.8 117.7 257.3 121.2 259.5C124.7 261.7 127.7 262.8 131 264C134.3 265.2 137.7 266.2 140.8 267C143.9 267.8 146.6 268.4 149.5 268.9C152.4 269.3 155.4 269.7 158.2 269.7C161 269.7 164 269.4 166.5 269C169 268.6 171.7 267.7 173.4 267C175.1 266.3 175.8 265.6 176.5 264.7C177.2 263.8 177.4 262.6 177.3 261.6C177.2 260.6 176.7 259.7 176 258.8C175.3 257.9 175.1 257.8 173.4 256.2C171.7 254.6 168.5 251.7 166 249.5C163.5 247.3 160.8 245.2 158.2 243C155.6 240.8 153 238.3 150.5 236C148 233.7 145.5 231.2 143 229C140.5 226.8 138.1 225 135.5 223C132.9 221 130.3 219 127.7 217C125.1 215 122.5 213.2 120 211.2C117.5 209.2 114.3 206.9 112.5 205C110.7 203.1 109.9 201.5 109 199.5C108.1 197.5 107.5 195.2 107 193C106.5 190.8 106 188.2 105.7 186C105.4 183.8 105.1 182.9 104.9 180C104.7 177.1 105 173.4 104.6 168.7C104.2 164 103.3 157.6 102.6 152C101.9 146.4 101.2 140.7 100.5 135C99.8 129.3 99.1 122.8 98.5 118C97.9 113.2 97.4 108.9 96.8 106C96.2 103.1 95.8 101.9 95 100.5C94.2 99.1 92.9 98.3 92 97.8C91.1 97.3 90.7 97.2 89.8 97.6C88.9 98 88.1 97.9 86.5 100C84.9 102.1 81.1 108.3 80 110" fill="none" stroke="#2ca02c" stroke-width="1.5" stroke-linejoin="round" stroke-linecap="round"/><path d="M53.5 174C54.1 175.7 55.8 180.3 57 184.4C58.2 188.5 59.7 194.5 61 198.5C62.3 202.5 63 205.1 64.6 208.3C66.2 211.6 68.3 214.9 70.5 218C72.7 221.1 75.1 224.4 77.7 226.8C80.3 229.2 83.1 230.7 86 232.5C88.9 234.3 91.8 235.7 95 237.7C98.2 239.7 101.9 242.2 105.5 244.5C109.1 246.8 113.3 249.8 116.8 251.8C120.3 253.8 123.2 255.1 126.5 256.5C129.8 257.9 133.3 259.4 136.4 260.5C139.5 261.6 142.1 262.5 145 263.2C147.9 263.9 151.5 264.7 153.8 264.9C156.1 265.1 157.4 265 158.8 264.6C160.2 264.2 161.4 263.4 162.5 262.7C163.6 262 164.7 261.2 165.2 260.3C165.7 259.4 165.7 258.4 165.4 257.3C165.1 256.2 164.3 254.8 163.5 253.5C162.7 252.2 162 251.4 160.4 249.7C158.8 247.9 156.2 245.2 154 243C151.8 240.8 149.7 238.7 147.3 236.6C144.9 234.5 142.1 232.3 139.5 230.3C136.9 228.3 134.6 226.6 132 224.6C129.4 222.6 126.5 220.5 124 218.5C121.5 216.5 118.9 214.5 116.8 212.7C114.7 210.9 113 209.3 111.5 207.5C110 205.7 109 203.9 108.1 201.8C107.2 199.7 106.5 197.2 106 195C105.5 192.8 105.2 191.2 104.9 188.7C104.6 186.2 104.4 183.3 104.2 180C104 176.7 104 173.4 103.6 168.7C103.1 164 102.2 157.6 101.5 152C100.8 146.4 100.1 140.7 99.4 135C98.7 129.3 98.1 122.8 97.5 118C96.9 113.2 96.5 108.8 96 106C95.5 103.2 95.1 102.1 94.5 101C93.9 99.9 93.3 99.5 92.5 99.3C91.7 99.1 90.6 99.3 89.5 99.8C88.4 100.3 87.6 100.5 86 102.5C84.4 104.5 81 110 80 111.5" fill="none" stroke="#d62728" stroke-width="1.5" stroke-linejoin="round" stroke-linecap="round"/><polygon points="47.7,62.3 99.9,62.3 47.7,193.2" fill="#000"/></g><polygon points="158.8,207.3 160.1,211.1 164.1,211.2 160.9,213.6 162.1,217.4 158.8,215.1 155.5,217.4 156.7,213.6 153.5,211.2 157.5,211.1" fill="#1f77b4" stroke="#111" stroke-width="0.7" stroke-linejoin="miter"/><polygon points="108.9,119.8 110.2,123.6 114.2,123.7 111,126.1 112.2,129.9 108.9,127.6 105.6,129.9 106.8,126.1 103.6,123.7 107.6,123.6" fill="#ff7f0e" stroke="#111" stroke-width="0.7" stroke-linejoin="miter"/><polygon points="96.4,76.1 97.7,79.9 101.7,80 98.5,82.4 99.7,86.2 96.4,83.9 93.1,86.2 94.3,82.4 91.1,80 95.1,79.9" fill="#2ca02c" stroke="#111" stroke-width="0.7" stroke-linejoin="miter"/><polygon points="97.4,95.7 98.7,99.5 102.7,99.6 99.5,102 100.7,105.8 97.4,103.5 94.1,105.8 95.3,102 92.1,99.6 96.1,99.5" fill="#d62728" stroke="#111" stroke-width="0.7" stroke-linejoin="miter"/><rect x="47.7" y="1.4" width="251.6" height="60.9" fill="none" stroke="#929292" stroke-width="1"/><rect x="299.3" y="62.3" width="62.7" height="245.4" fill="none" stroke="#929292" stroke-width="1"/><rect x="47.7" y="62.3" width="251.6" height="245.4" fill="none" stroke="#929292" stroke-width="1"/><g clip-path="url(#c1t)"><path d="M75 1.4V62.3" stroke="#1f77b4" stroke-width="1.0" stroke-dasharray="3.2 1.4" fill="none"/><path d="M73.7 1.4V62.3" stroke="#ff7f0e" stroke-width="1.0" stroke-dasharray="3.2 1.4" fill="none"/><path d="M68.4 1.4V62.3" stroke="#2ca02c" stroke-width="1.0" stroke-dasharray="3.2 1.4" fill="none"/><path d="M67.6 1.4V62.3" stroke="#d62728" stroke-width="1.0" stroke-dasharray="3.2 1.4" fill="none"/><path d="M170.5 1.4V62.3" stroke="#1f77b4" stroke-width="1.0" stroke-dasharray="3.2 1.4" fill="none"/><path d="M147.2 1.4V62.3" stroke="#ff7f0e" stroke-width="1.0" stroke-dasharray="3.2 1.4" fill="none"/><path d="M155.8 1.4V62.3" stroke="#2ca02c" stroke-width="1.0" stroke-dasharray="3.2 1.4" fill="none"/><path d="M144.4 1.4V62.3" stroke="#d62728" stroke-width="1.0" stroke-dasharray="3.2 1.4" fill="none"/><path d="M59.3 62.3V62.2H62.2V61.6H65.1V59.4H67.9V55.9H70.8V51.1H73.7V45.8H76.6V41.8H79.5V39H82.4V37H85.3V35.5H88.2V34.4H91.1V34.7H94V34.8H96.9V36.6H99.8V36.7H102.6V38.5H105.5V39.3H108.4V40.5H111.3V41.1H114.2V42.1H117.1V43.9H120V45.1H122.9V45.3H125.8V46.8H128.7V48H131.6V49H134.5V49.1H137.4V50.1H140.2V51.1H143.1V52.9H146V52.8H148.9V54H151.8V55.4H154.7V55.6H157.6V56.5H160.5V56.7H163.4V57.7H166.3V58.4H169.2V58.2H172.1V59.2H174.9V59.8H177.8V60H180.7V60.2H183.6V60.7H186.5V60.7H189.4V61.1H192.3V61.4H195.2V61.5H198.1V61.7H201V61.9H203.9V62H206.8V62.1H209.6V62.1H212.5V62.1H215.4V62.2H218.3V62.2H221.2V62.2H224.1V62.2H227V62.3H229.9V62.3H232.8V62.3H235.7V62.3H238.6V62.3H241.5V62.3H244.4V62.3H247.2V62.3H250.1V62.3H253V62.3H255.9V62.3H258.8V62.3H261.7V62.3H264.6V62.3H267.5V62.3H270.4V62.3H273.3V62.3H276.2V62.3H279.1V62.3H281.9V62.3H284.8V62.3H287.7V62.3H290.6V62.3H293.5V62.3H296.4V62.3H299.3V62.3" fill="#1f77b4" fill-opacity="0.2"/><path d="M59.3 62.3V62.3H62.2V61.8H65.1V60.5H67.9V57.1H70.8V50.8H73.7V42.1H76.6V31.6H79.5V21.1H82.4V12.6H85.3V5.3H88.2V1.2H91.1V1.2H94V7.2H96.9V19.7H99.8V32.5H102.6V40.9H105.5V47.7H108.4V52.1H111.3V54.6H114.2V56.8H117.1V56.9H120V57.9H122.9V58H125.8V58.6H128.7V58.7H131.6V59.1H134.5V59.7H137.4V59.8H140.2V60H143.1V60.3H146V60.6H148.9V60.8H151.8V60.9H154.7V61.2H157.6V61.3H160.5V61.5H163.4V61.6H166.3V61.7H169.2V61.8H172.1V61.8H174.9V62H177.8V62.1H180.7V62.1H183.6V62.2H186.5V62.2H189.4V62.3H192.3V62.3" fill="#ff7f0e" fill-opacity="0.2"/><path d="M53.5 62.3V62.1H56.4V61.5H59.3V59.6H62.2V56.1H65.1V50.6H67.9V43.1H70.8V33.7H73.7V25.1H76.6V16.7H79.5V10.8H82.4V8H85.3V11.3H88.2V20.6H91.1V30.3H94V38.8H96.9V44.4H99.8V47.7H102.6V51.1H105.5V51.8H108.4V52.4H111.3V52.1H114.2V52.3H117.1V51.8H120V51.4H122.9V52H125.8V52.7H128.7V52.6H131.6V53.2H134.5V54.1H137.4V55.5H140.2V56.3H143.1V56.6H146V57.5H148.9V58H151.8V58.1H154.7V58.4H157.6V59.3H160.5V59.6H163.4V59.9H166.3V60.2H169.2V60.6H172.1V61H174.9V61.2H177.8V61.4H180.7V61.6H183.6V61.8H186.5V61.9H189.4V62H192.3V62.1H195.2V62.2H198.1V62.3H201V62.3H203.9V62.3H206.8V62.3H209.6V62.3H212.5V62.3H215.4V62.3H218.3V62.3H221.2V62.3H224.1V62.3H227V62.3H229.9V62.3H232.8V62.3" fill="#2ca02c" fill-opacity="0.2"/><path d="M53.5 62.3V62.1H56.4V61.1H59.3V59H62.2V54.3H65.1V46.9H67.9V37.6H70.8V28.6H73.7V17.3H76.6V8.6H79.5V3.5H82.4V2.7H85.3V6.5H88.2V18.7H91.1V29.1H94V36.8H96.9V43.6H99.8V47.1H102.6V50.4H105.5V51.5H108.4V53.5H111.3V53.6H114.2V54.8H117.1V55.1H120V55.7H122.9V55.2H125.8V55.5H128.7V56.4H131.6V56.3H134.5V57.2H137.4V57.3H140.2V57.8H143.1V58.5H146V58.6H148.9V58.8H151.8V59.3H154.7V59.9H157.6V60.2H160.5V60.6H163.4V60.8H166.3V61.1H169.2V61.2H172.1V61.5H174.9V61.6H177.8V61.7H180.7V61.9H183.6V62H186.5V62.1H189.4V62.1H192.3V62.2H195.2V62.2H198.1V62.3H201V62.3H203.9V62.3H206.8V62.3H209.6V62.3H212.5V62.3H215.4V62.3H218.3V62.3H221.2V62.3H224.1V62.3H227V62.3H229.9V62.3H232.8V62.3H235.7V62.3H238.6V62.3H241.5V62.3H244.4V62.3H247.2V62.3H250.1V62.3H253V62.3H255.9V62.3H258.8V62.3H261.7V62.3H264.6V62.3H267.5V62.3H270.4V62.3H273.3V62.3H276.2V62.3H279.1V62.3H281.9V62.3H284.8V62.3H287.7V62.3" fill="#d62728" fill-opacity="0.2"/><path d="M59.3 62.3V62.2H62.2V61.6H65.1V59.4H67.9V55.9H70.8V51.1H73.7V45.8H76.6V41.8H79.5V39H82.4V37H85.3V35.5H88.2V34.4H91.1V34.7H94V34.8H96.9V36.6H99.8V36.7H102.6V38.5H105.5V39.3H108.4V40.5H111.3V41.1H114.2V42.1H117.1V43.9H120V45.1H122.9V45.3H125.8V46.8H128.7V48H131.6V49H134.5V49.1H137.4V50.1H140.2V51.1H143.1V52.9H146V52.8H148.9V54H151.8V55.4H154.7V55.6H157.6V56.5H160.5V56.7H163.4V57.7H166.3V58.4H169.2V58.2H172.1V59.2H174.9V59.8H177.8V60H180.7V60.2H183.6V60.7H186.5V60.7H189.4V61.1H192.3V61.4H195.2V61.5H198.1V61.7H201V61.9H203.9V62H206.8V62.1H209.6V62.1H212.5V62.1H215.4V62.2H218.3V62.2H221.2V62.2H224.1V62.2H227V62.3H229.9V62.3H232.8V62.3H235.7V62.3H238.6V62.3H241.5V62.3H244.4V62.3H247.2V62.3H250.1V62.3H253V62.3H255.9V62.3H258.8V62.3H261.7V62.3H264.6V62.3H267.5V62.3H270.4V62.3H273.3V62.3H276.2V62.3H279.1V62.3H281.9V62.3H284.8V62.3H287.7V62.3H290.6V62.3H293.5V62.3H296.4V62.3H299.3V62.3" fill="none" stroke="#1f77b4" stroke-width="1.45" stroke-linejoin="miter"/><path d="M59.3 62.3V62.3H62.2V61.8H65.1V60.5H67.9V57.1H70.8V50.8H73.7V42.1H76.6V31.6H79.5V21.1H82.4V12.6H85.3V5.3H88.2V1.2H91.1V1.2H94V7.2H96.9V19.7H99.8V32.5H102.6V40.9H105.5V47.7H108.4V52.1H111.3V54.6H114.2V56.8H117.1V56.9H120V57.9H122.9V58H125.8V58.6H128.7V58.7H131.6V59.1H134.5V59.7H137.4V59.8H140.2V60H143.1V60.3H146V60.6H148.9V60.8H151.8V60.9H154.7V61.2H157.6V61.3H160.5V61.5H163.4V61.6H166.3V61.7H169.2V61.8H172.1V61.8H174.9V62H177.8V62.1H180.7V62.1H183.6V62.2H186.5V62.2H189.4V62.3H192.3V62.3" fill="none" stroke="#ff7f0e" stroke-width="1.45" stroke-linejoin="miter"/><path d="M53.5 62.3V62.1H56.4V61.5H59.3V59.6H62.2V56.1H65.1V50.6H67.9V43.1H70.8V33.7H73.7V25.1H76.6V16.7H79.5V10.8H82.4V8H85.3V11.3H88.2V20.6H91.1V30.3H94V38.8H96.9V44.4H99.8V47.7H102.6V51.1H105.5V51.8H108.4V52.4H111.3V52.1H114.2V52.3H117.1V51.8H120V51.4H122.9V52H125.8V52.7H128.7V52.6H131.6V53.2H134.5V54.1H137.4V55.5H140.2V56.3H143.1V56.6H146V57.5H148.9V58H151.8V58.1H154.7V58.4H157.6V59.3H160.5V59.6H163.4V59.9H166.3V60.2H169.2V60.6H172.1V61H174.9V61.2H177.8V61.4H180.7V61.6H183.6V61.8H186.5V61.9H189.4V62H192.3V62.1H195.2V62.2H198.1V62.3H201V62.3H203.9V62.3H206.8V62.3H209.6V62.3H212.5V62.3H215.4V62.3H218.3V62.3H221.2V62.3H224.1V62.3H227V62.3H229.9V62.3H232.8V62.3" fill="none" stroke="#2ca02c" stroke-width="1.45" stroke-linejoin="miter"/><path d="M53.5 62.3V62.1H56.4V61.1H59.3V59H62.2V54.3H65.1V46.9H67.9V37.6H70.8V28.6H73.7V17.3H76.6V8.6H79.5V3.5H82.4V2.7H85.3V6.5H88.2V18.7H91.1V29.1H94V36.8H96.9V43.6H99.8V47.1H102.6V50.4H105.5V51.5H108.4V53.5H111.3V53.6H114.2V54.8H117.1V55.1H120V55.7H122.9V55.2H125.8V55.5H128.7V56.4H131.6V56.3H134.5V57.2H137.4V57.3H140.2V57.8H143.1V58.5H146V58.6H148.9V58.8H151.8V59.3H154.7V59.9H157.6V60.2H160.5V60.6H163.4V60.8H166.3V61.1H169.2V61.2H172.1V61.5H174.9V61.6H177.8V61.7H180.7V61.9H183.6V62H186.5V62.1H189.4V62.1H192.3V62.2H195.2V62.2H198.1V62.3H201V62.3H203.9V62.3H206.8V62.3H209.6V62.3H212.5V62.3H215.4V62.3H218.3V62.3H221.2V62.3H224.1V62.3H227V62.3H229.9V62.3H232.8V62.3H235.7V62.3H238.6V62.3H241.5V62.3H244.4V62.3H247.2V62.3H250.1V62.3H253V62.3H255.9V62.3H258.8V62.3H261.7V62.3H264.6V62.3H267.5V62.3H270.4V62.3H273.3V62.3H276.2V62.3H279.1V62.3H281.9V62.3H284.8V62.3H287.7V62.3" fill="none" stroke="#d62728" stroke-width="1.45" stroke-linejoin="miter"/></g><g clip-path="url(#c1r)"><path d="M299.3 128.5H362" stroke="#1f77b4" stroke-width="1.0" stroke-dasharray="3.2 1.4" fill="none"/><path d="M299.3 122.4H362" stroke="#ff7f0e" stroke-width="1.0" stroke-dasharray="3.2 1.4" fill="none"/><path d="M299.3 127.1H362" stroke="#2ca02c" stroke-width="1.0" stroke-dasharray="3.2 1.4" fill="none"/><path d="M299.3 126.2H362" stroke="#d62728" stroke-width="1.0" stroke-dasharray="3.2 1.4" fill="none"/><path d="M299.3 259H362" stroke="#1f77b4" stroke-width="1.0" stroke-dasharray="3.2 1.4" fill="none"/><path d="M299.3 254.7H362" stroke="#ff7f0e" stroke-width="1.0" stroke-dasharray="3.2 1.4" fill="none"/><path d="M299.3 260H362" stroke="#2ca02c" stroke-width="1.0" stroke-dasharray="3.2 1.4" fill="none"/><path d="M299.3 252.4H362" stroke="#d62728" stroke-width="1.0" stroke-dasharray="3.2 1.4" fill="none"/><path d="M299.3 73.5H299.3V76.2H299.4V79H299.5V81.8H299.6V84.6H299.8V87.4H299.9V90.2H300.1V93H300.3V95.8H300.5V98.6H300.8V101.3H301.1V104.1H301.4V106.9H302.4V109.7H303.1V112.5H304.1V115.3H306.3V118.1H307.4V120.9H309.4V123.6H311.2V126.4H313.5V129.2H315.6V132H317.7V134.8H319.5V137.6H321.6V140.4H323.5V143.2H325.3V146H326.7V148.7H328.2V151.5H330.4V154.3H331.7V157.1H332.1V159.9H332.9V162.7H334.1V165.5H335.8V168.3H337.2V171.1H337.5V173.8H338.7V176.6H338.6V179.4H339.5V182.2H339.9V185H340.4V187.8H339.8V190.6H340.2V193.4H340.1V196.2H339.7V198.9H338.2V201.7H338.1V204.5H338V207.3H336.7V210.1H336.4V212.9H335.4V215.7H334.9V218.5H333.7V221.3H332.4V224H331.4V226.8H330.4V229.6H329.5V232.4H328.8V235.2H326.8V238H325.1V240.8H322.8V243.6H320.9V246.3H319.2V249.1H317.6V251.9H316.2V254.7H314.6V257.5H312.1V260.3H310.7V263.1H308.8V265.9H307.8V268.7H306.6V271.4H304.5V274.2H303.6V277H302.9V279.8H302.1V282.6H301.6V285.4H300.9V288.2H300.4V291H299.9V293.8H299.4V296.5H299.3" fill="#1f77b4" fill-opacity="0.2"/><path d="M299.3 67.9H299.3V70.7H299.4V73.5H299.6V76.2H299.8V79H300V81.8H300.3V84.6H300.7V87.4H301V90.2H301.4V93H301.8V95.8H302.4V98.6H302.8V101.3H303.5V104.1H304V106.9H304.8V109.7H306.3V112.5H309V115.3H311.5V118.1H314.4V120.9H318.6V123.6H322.3V126.4H325.4V129.2H330.1V132H334.4V134.8H338.4V137.6H342.6V140.4H346.5V143.2H349.6V146H353.5V148.7H355.5V151.5H357.3V154.3H359.5V157.1H360.5V159.9H359V162.7H358.1V165.5H356V168.3H354.1V171.1H352V173.8H348.8V176.6H345.9V179.4H343.2V182.2H340.5V185H337.2V187.8H332.7V190.6H328.5V193.4H324.4V196.2H321.3V198.9H319.2V201.7H316.5V204.5H314.8V207.3H313.8V210.1H312.8V212.9H311.7V215.7H311.2V218.5H311.2V221.3H311.1V224H311.7V226.8H311.6V229.6H312.2V232.4H313.3V235.2H313.7V238H314.5V240.8H315.1V243.6H315.3V246.3H315V249.1H315.6V251.9H315.1V254.7H313.3V257.5H311.4V260.3H309.7V263.1H308V265.9H306.1V268.7H305.5V271.4H303.8V274.2H303V277H302.6V279.8H301.5V282.6H300.7V285.4H300.3V288.2H299.9V291H299.6V293.8H299.3V296.5H299.3" fill="#ff7f0e" fill-opacity="0.2"/><path d="M299.3 70.7H299.3V73.5H299.5V76.2H299.6V79H299.7V81.8H299.9V84.6H300.1V87.4H300.3V90.2H300.5V93H300.8V95.8H301.2V98.6H301.6V101.3H301.9V104.1H302.1V106.9H302.4V109.7H303.3V112.5H305.2V115.3H306.1V118.1H308.5V120.9H311.1V123.6H312.2V126.4H314.8V129.2H317V132H318.1V134.8H320.5V137.6H323.5V140.4H325.5V143.2H328.4V146H331.1V148.7H333.2V151.5H335.1V154.3H336.8V157.1H338.6V159.9H339.8V162.7H341V165.5H342V168.3H343.3V171.1H343.7V173.8H343.2V176.6H342.9V179.4H341.8V182.2H340.6V185H337.9V187.8H336V190.6H333.8V193.4H331.8V196.2H330.1V198.9H327.9V201.7H327.5V204.5H326.2V207.3H326.4V210.1H325.7V212.9H325.4V215.7H325.3V218.5H325.1V221.3H324.9V224H324.8V226.8H325.9V229.6H327.4V232.4H328.1V235.2H329.3V238H330.4V240.8H330.8V243.6H329.9V246.3H328.8V249.1H326.2V251.9H322.2V254.7H319.8V257.5H317.5V260.3H313.3V263.1H309.5V265.9H307.6V268.7H305.4V271.4H304.4V274.2H303.6V277H302.8V279.8H301.9V282.6H301.1V285.4H301V288.2H301.8V291H303.7V293.8H302.2V296.5H299.6V299.3H299.3" fill="#2ca02c" fill-opacity="0.2"/><path d="M299.3 70.7H299.3V73.5H299.5V76.2H299.6V79H299.7V81.8H299.9V84.6H300V87.4H300.3V90.2H300.5V93H300.8V95.8H301.1V98.6H301.5V101.3H301.9V104.1H302.4V106.9H303V109.7H303.9V112.5H305.5V115.3H307.3V118.1H310.1V120.9H311.7V123.6H313.7V126.4H315.6V129.2H318.9V132H320.6V134.8H323.4V137.6H325.7V140.4H328.5V143.2H331.3V146H334.4V148.7H336.4V151.5H339.8V154.3H341.5V157.1H343.9V159.9H345.4V162.7H347.1V165.5H348.2V168.3H348.6V171.1H349.4V173.8H349.1V176.6H348.8V179.4H346.6V182.2H343.9V185H342.9V187.8H341.7V190.6H338.8V193.4H335.3V196.2H332.3V198.9H330.1V201.7H328V204.5H326.3V207.3H325.8V210.1H324.6V212.9H324.3V215.7H323.4V218.5H323.2V221.3H323.8V224H323.9V226.8H325.1V229.6H325.8V232.4H326.2V235.2H325.9V238H324.6V240.8H322.2V243.6H319.5V246.3H317.7V249.1H315.7V251.9H314.4V254.7H312.1V257.5H309V260.3H305.7V263.1H304.3V265.9H303.3V268.7H302.6V271.4H301.9V274.2H301.5V277H301.1V279.8H300.6V282.6H300.2V285.4H299.8V288.2H299.5V291H299.4V293.8H299.3V296.5H299.3" fill="#d62728" fill-opacity="0.2"/><path d="M299.3 73.5H299.3V76.2H299.4V79H299.5V81.8H299.6V84.6H299.8V87.4H299.9V90.2H300.1V93H300.3V95.8H300.5V98.6H300.8V101.3H301.1V104.1H301.4V106.9H302.4V109.7H303.1V112.5H304.1V115.3H306.3V118.1H307.4V120.9H309.4V123.6H311.2V126.4H313.5V129.2H315.6V132H317.7V134.8H319.5V137.6H321.6V140.4H323.5V143.2H325.3V146H326.7V148.7H328.2V151.5H330.4V154.3H331.7V157.1H332.1V159.9H332.9V162.7H334.1V165.5H335.8V168.3H337.2V171.1H337.5V173.8H338.7V176.6H338.6V179.4H339.5V182.2H339.9V185H340.4V187.8H339.8V190.6H340.2V193.4H340.1V196.2H339.7V198.9H338.2V201.7H338.1V204.5H338V207.3H336.7V210.1H336.4V212.9H335.4V215.7H334.9V218.5H333.7V221.3H332.4V224H331.4V226.8H330.4V229.6H329.5V232.4H328.8V235.2H326.8V238H325.1V240.8H322.8V243.6H320.9V246.3H319.2V249.1H317.6V251.9H316.2V254.7H314.6V257.5H312.1V260.3H310.7V263.1H308.8V265.9H307.8V268.7H306.6V271.4H304.5V274.2H303.6V277H302.9V279.8H302.1V282.6H301.6V285.4H300.9V288.2H300.4V291H299.9V293.8H299.4V296.5H299.3" fill="none" stroke="#1f77b4" stroke-width="1.45" stroke-linejoin="miter"/><path d="M299.3 67.9H299.3V70.7H299.4V73.5H299.6V76.2H299.8V79H300V81.8H300.3V84.6H300.7V87.4H301V90.2H301.4V93H301.8V95.8H302.4V98.6H302.8V101.3H303.5V104.1H304V106.9H304.8V109.7H306.3V112.5H309V115.3H311.5V118.1H314.4V120.9H318.6V123.6H322.3V126.4H325.4V129.2H330.1V132H334.4V134.8H338.4V137.6H342.6V140.4H346.5V143.2H349.6V146H353.5V148.7H355.5V151.5H357.3V154.3H359.5V157.1H360.5V159.9H359V162.7H358.1V165.5H356V168.3H354.1V171.1H352V173.8H348.8V176.6H345.9V179.4H343.2V182.2H340.5V185H337.2V187.8H332.7V190.6H328.5V193.4H324.4V196.2H321.3V198.9H319.2V201.7H316.5V204.5H314.8V207.3H313.8V210.1H312.8V212.9H311.7V215.7H311.2V218.5H311.2V221.3H311.1V224H311.7V226.8H311.6V229.6H312.2V232.4H313.3V235.2H313.7V238H314.5V240.8H315.1V243.6H315.3V246.3H315V249.1H315.6V251.9H315.1V254.7H313.3V257.5H311.4V260.3H309.7V263.1H308V265.9H306.1V268.7H305.5V271.4H303.8V274.2H303V277H302.6V279.8H301.5V282.6H300.7V285.4H300.3V288.2H299.9V291H299.6V293.8H299.3V296.5H299.3" fill="none" stroke="#ff7f0e" stroke-width="1.45" stroke-linejoin="miter"/><path d="M299.3 70.7H299.3V73.5H299.5V76.2H299.6V79H299.7V81.8H299.9V84.6H300.1V87.4H300.3V90.2H300.5V93H300.8V95.8H301.2V98.6H301.6V101.3H301.9V104.1H302.1V106.9H302.4V109.7H303.3V112.5H305.2V115.3H306.1V118.1H308.5V120.9H311.1V123.6H312.2V126.4H314.8V129.2H317V132H318.1V134.8H320.5V137.6H323.5V140.4H325.5V143.2H328.4V146H331.1V148.7H333.2V151.5H335.1V154.3H336.8V157.1H338.6V159.9H339.8V162.7H341V165.5H342V168.3H343.3V171.1H343.7V173.8H343.2V176.6H342.9V179.4H341.8V182.2H340.6V185H337.9V187.8H336V190.6H333.8V193.4H331.8V196.2H330.1V198.9H327.9V201.7H327.5V204.5H326.2V207.3H326.4V210.1H325.7V212.9H325.4V215.7H325.3V218.5H325.1V221.3H324.9V224H324.8V226.8H325.9V229.6H327.4V232.4H328.1V235.2H329.3V238H330.4V240.8H330.8V243.6H329.9V246.3H328.8V249.1H326.2V251.9H322.2V254.7H319.8V257.5H317.5V260.3H313.3V263.1H309.5V265.9H307.6V268.7H305.4V271.4H304.4V274.2H303.6V277H302.8V279.8H301.9V282.6H301.1V285.4H301V288.2H301.8V291H303.7V293.8H302.2V296.5H299.6V299.3H299.3" fill="none" stroke="#2ca02c" stroke-width="1.45" stroke-linejoin="miter"/><path d="M299.3 70.7H299.3V73.5H299.5V76.2H299.6V79H299.7V81.8H299.9V84.6H300V87.4H300.3V90.2H300.5V93H300.8V95.8H301.1V98.6H301.5V101.3H301.9V104.1H302.4V106.9H303V109.7H303.9V112.5H305.5V115.3H307.3V118.1H310.1V120.9H311.7V123.6H313.7V126.4H315.6V129.2H318.9V132H320.6V134.8H323.4V137.6H325.7V140.4H328.5V143.2H331.3V146H334.4V148.7H336.4V151.5H339.8V154.3H341.5V157.1H343.9V159.9H345.4V162.7H347.1V165.5H348.2V168.3H348.6V171.1H349.4V173.8H349.1V176.6H348.8V179.4H346.6V182.2H343.9V185H342.9V187.8H341.7V190.6H338.8V193.4H335.3V196.2H332.3V198.9H330.1V201.7H328V204.5H326.3V207.3H325.8V210.1H324.6V212.9H324.3V215.7H323.4V218.5H323.2V221.3H323.8V224H323.9V226.8H325.1V229.6H325.8V232.4H326.2V235.2H325.9V238H324.6V240.8H322.2V243.6H319.5V246.3H317.7V249.1H315.7V251.9H314.4V254.7H312.1V257.5H309V260.3H305.7V263.1H304.3V265.9H303.3V268.7H302.6V271.4H301.9V274.2H301.5V277H301.1V279.8H300.6V282.6H300.2V285.4H299.8V288.2H299.5V291H299.4V293.8H299.3V296.5H299.3" fill="none" stroke="#d62728" stroke-width="1.45" stroke-linejoin="miter"/></g><path d="M79.6 307.7v3M123 307.7v3M166.4 307.7v3M209.8 307.7v3M253.2 307.7v3M296.6 307.7v3M53.6 307.7v1.7M62.2 307.7v1.7M70.9 307.7v1.7M88.3 307.7v1.7M97 307.7v1.7M105.6 307.7v1.7M114.3 307.7v1.7M131.7 307.7v1.7M140.4 307.7v1.7M149 307.7v1.7M157.7 307.7v1.7M175.1 307.7v1.7M183.8 307.7v1.7M192.4 307.7v1.7M201.1 307.7v1.7M218.5 307.7v1.7M227.2 307.7v1.7M235.8 307.7v1.7M244.5 307.7v1.7M261.9 307.7v1.7M270.6 307.7v1.7M279.2 307.7v1.7M287.9 307.7v1.7" stroke="#929292" stroke-width="0.8" fill="none"/><path d="M47.7 284.6h-3M47.7 241.8h-3M47.7 199h-3M47.7 156.2h-3M47.7 113.4h-3M47.7 70.6h-3M47.7 306h-1.7M47.7 295.3h-1.7M47.7 273.9h-1.7M47.7 263.2h-1.7M47.7 252.5h-1.7M47.7 231.1h-1.7M47.7 220.4h-1.7M47.7 209.7h-1.7M47.7 188.3h-1.7M47.7 177.6h-1.7M47.7 166.9h-1.7M47.7 145.5h-1.7M47.7 134.8h-1.7M47.7 124.1h-1.7M47.7 102.7h-1.7M47.7 92h-1.7M47.7 81.3h-1.7" stroke="#929292" stroke-width="0.8" fill="none"/><path d="M47.7 60.1h-1.3M47.7 58h-1.3M47.7 55.8h-1.3M47.7 53.6h-1.3M47.7 51.4h-1.3M47.7 49.3h-1.3M47.7 47.1h-1.3M47.7 44.9h-1.3M47.7 42.8h-1.3M47.7 40.6h-2.6M47.7 38.4h-1.3M47.7 36.3h-1.3M47.7 34.1h-1.3M47.7 31.9h-1.3M47.7 29.8h-1.3M47.7 27.6h-1.3M47.7 25.4h-1.3M47.7 23.2h-1.3M47.7 21.1h-1.3M47.7 18.9h-2.6M47.7 16.7h-1.3M47.7 14.6h-1.3M47.7 12.4h-1.3M47.7 10.2h-1.3M47.7 8h-1.3M47.7 5.9h-1.3M47.7 3.7h-1.3M301.5 307.7v1.3M303.7 307.7v1.3M305.9 307.7v1.3M308.1 307.7v1.3M310.3 307.7v1.3M312.5 307.7v1.3M314.7 307.7v1.3M316.9 307.7v1.3M319.1 307.7v1.3M321.3 307.7v2.6M323.5 307.7v1.3M325.7 307.7v1.3M327.9 307.7v1.3M330.1 307.7v1.3M332.3 307.7v1.3M334.5 307.7v1.3M336.7 307.7v1.3M338.9 307.7v1.3M341.1 307.7v1.3M343.3 307.7v2.6M345.5 307.7v1.3M347.7 307.7v1.3M349.9 307.7v1.3M352.1 307.7v1.3M354.3 307.7v1.3M356.5 307.7v1.3M358.7 307.7v1.3M360.9 307.7v1.3" stroke="#929292" stroke-width="0.7" fill="none"/><g font-family="'DejaVu Sans','Liberation Sans',sans-serif" font-size="11.4" fill="#262626" text-anchor="middle"><text x="79.6" y="320.5">100</text><text x="123" y="320.5">150</text><text x="166.4" y="320.5">200</text><text x="209.8" y="320.5">250</text><text x="253.2" y="320.5">300</text><text x="296.6" y="320.5">350</text></g><g font-family="'DejaVu Sans','Liberation Sans',sans-serif" font-size="11.4" fill="#262626" text-anchor="end"><text x="43.3" y="289.8">20</text><text x="43.3" y="247">40</text><text x="43.3" y="204.2">60</text><text x="43.3" y="161.4">80</text><text x="43.3" y="118.6">100</text><text x="43.3" y="75.8">120</text></g><rect x="248.3" y="73.4" width="10.2" height="7.3" fill="none" stroke="#1f77b4" stroke-width="1.1"/><text x="268" y="81.4" font-family="'Liberation Serif','DejaVu Serif',serif" font-size="12.5" fill="#262626"><tspan font-style="italic">ℓ</tspan><tspan dx="2.5">≤</tspan><tspan dx="0.5">2</tspan></text><rect x="248.3" y="89.7" width="10.2" height="7.3" fill="none" stroke="#ff7f0e" stroke-width="1.1"/><text x="268" y="97.7" font-family="'Liberation Serif','DejaVu Serif',serif" font-size="12.5" fill="#262626"><tspan font-style="italic">ℓ</tspan><tspan dx="2.5">≤</tspan><tspan dx="0.5">3</tspan></text><rect x="248.3" y="106.1" width="10.2" height="7.3" fill="none" stroke="#2ca02c" stroke-width="1.1"/><text x="268" y="114.1" font-family="'Liberation Serif','DejaVu Serif',serif" font-size="12.5" fill="#262626"><tspan font-style="italic">ℓ</tspan><tspan dx="2.5">≤</tspan><tspan dx="0.5">4</tspan></text><rect x="248.3" y="122.4" width="10.2" height="7.3" fill="none" stroke="#d62728" stroke-width="1.1"/><text x="268" y="130.4" font-family="'Liberation Serif','DejaVu Serif',serif" font-size="12.5" fill="#262626"><tspan font-style="italic">ℓ</tspan><tspan dx="2.5">≤</tspan><tspan dx="0.5">5</tspan></text><text x="147" y="336" font-family="'Liberation Serif','DejaVu Serif',serif" font-size="14.3" fill="#262626"><tspan font-style="italic">m</tspan><tspan font-size="9.8" dy="3.4">1</tspan><tspan font-size="9.8" dy="-9.6" dx="-4.2" font-style="italic">src</tspan><tspan dy="6.2" dx="0.6">[</tspan><tspan font-style="italic">M</tspan><tspan font-size="10.5" dy="2.8" dx="0.3">⊙</tspan><tspan dy="-2.8" dx="0.3">]</tspan></text><text transform="translate(12.2,213) rotate(-90)" font-family="'Liberation Serif','DejaVu Serif',serif" font-size="14.3" fill="#262626"><tspan font-style="italic">m</tspan><tspan font-size="9.8" dy="3.4">2</tspan><tspan font-size="9.8" dy="-9.6" dx="-4.2" font-style="italic">src</tspan><tspan dy="6.2" dx="0.6">[</tspan><tspan font-style="italic">M</tspan><tspan font-size="10.5" dy="2.8" dx="0.3">⊙</tspan><tspan dy="-2.8" dx="0.3">]</tspan></text><clipPath id="c2m"><rect x="422.1" y="68" width="249.1" height="242.5"/></clipPath><clipPath id="c2t"><rect x="421.5" y="7.7" width="250.3" height="61"/></clipPath><clipPath id="c2r"><rect x="670.5" y="67.4" width="62.6" height="243.7"/></clipPath><g clip-path="url(#c2m)"><path fill="#fefcfc" d="M458.6 90h5.25v5.25h-5.25zM463.6 90h5.25v5.25h-5.25zM468.6 90h5.25v5.25h-5.25zM473.6 90h5.25v5.25h-5.25zM478.6 90h5.25v5.25h-5.25zM483.6 90h5.25v5.25h-5.25zM443.6 95h5.25v5.25h-5.25zM448.6 95h5.25v5.25h-5.25zM453.6 95h5.25v5.25h-5.25zM488.6 95h5.25v5.25h-5.25zM493.6 95h5.25v5.25h-5.25zM498.6 95h5.25v5.25h-5.25zM438.6 100h5.25v5.25h-5.25zM443.6 100h5.25v5.25h-5.25zM503.6 100h5.25v5.25h-5.25zM508.6 100h5.25v5.25h-5.25zM513.6 100h5.25v5.25h-5.25zM433.6 105h5.25v5.25h-5.25zM518.6 105h5.25v5.25h-5.25zM523.6 105h5.25v5.25h-5.25zM528.6 105h5.25v5.25h-5.25zM433.6 110h5.25v5.25h-5.25zM533.6 110h5.25v5.25h-5.25zM538.6 110h5.25v5.25h-5.25zM543.6 110h5.25v5.25h-5.25zM428.6 115h5.25v5.25h-5.25zM548.6 115h5.25v5.25h-5.25zM553.6 115h5.25v5.25h-5.25zM558.6 115h5.25v5.25h-5.25zM563.6 115h5.25v5.25h-5.25zM568.6 115h5.25v5.25h-5.25zM573.6 115h5.25v5.25h-5.25zM578.6 115h5.25v5.25h-5.25zM583.6 115h5.25v5.25h-5.25zM588.6 115h5.25v5.25h-5.25zM593.6 115h5.25v5.25h-5.25zM598.6 115h5.25v5.25h-5.25zM603.6 115h5.25v5.25h-5.25zM608.6 115h5.25v5.25h-5.25zM613.6 115h5.25v5.25h-5.25zM618.6 115h5.25v5.25h-5.25zM623.6 115h5.25v5.25h-5.25zM628.6 115h5.25v5.25h-5.25zM423.6 120h5.25v5.25h-5.25zM648.6 120h5.25v5.25h-5.25zM653.6 120h5.25v5.25h-5.25zM658.6 120h5.25v5.25h-5.25zM663.6 120h5.25v5.25h-5.25zM668.6 120h2.85v5.25h-2.85zM422.1 125h1.75v5.25h-1.75zM422.1 130h1.75v5.25h-1.75zM422.1 145h1.75v5.25h-1.75zM422.1 150h1.75v5.25h-1.75zM423.6 150h5.25v5.25h-5.25zM513.6 225h5.25v5.25h-5.25zM518.6 235h5.25v5.25h-5.25zM523.6 240h5.25v5.25h-5.25zM528.6 245h5.25v5.25h-5.25zM668.6 245h2.85v5.25h-2.85zM533.6 250h5.25v5.25h-5.25zM648.6 250h5.25v5.25h-5.25zM653.6 250h5.25v5.25h-5.25zM658.6 250h5.25v5.25h-5.25zM538.6 255h5.25v5.25h-5.25zM543.6 255h5.25v5.25h-5.25zM633.6 255h5.25v5.25h-5.25zM638.6 255h5.25v5.25h-5.25zM643.6 255h5.25v5.25h-5.25zM543.6 260h5.25v5.25h-5.25zM548.6 260h5.25v5.25h-5.25zM553.6 260h5.25v5.25h-5.25zM613.6 260h5.25v5.25h-5.25zM618.6 260h5.25v5.25h-5.25zM623.6 260h5.25v5.25h-5.25zM628.6 260h5.25v5.25h-5.25zM558.6 265h5.25v5.25h-5.25zM563.6 265h5.25v5.25h-5.25zM568.6 265h5.25v5.25h-5.25zM573.6 265h5.25v5.25h-5.25zM578.6 265h5.25v5.25h-5.25zM583.6 265h5.25v5.25h-5.25zM588.6 265h5.25v5.25h-5.25zM593.6 265h5.25v5.25h-5.25zM598.6 265h5.25v5.25h-5.25zM603.6 265h5.25v5.25h-5.25zM608.6 265h5.25v5.25h-5.25z"/><path fill="#fef8f8" d="M458.6 95h5.25v5.25h-5.25zM463.6 95h5.25v5.25h-5.25zM468.6 95h5.25v5.25h-5.25zM473.6 95h5.25v5.25h-5.25zM478.6 95h5.25v5.25h-5.25zM483.6 95h5.25v5.25h-5.25zM448.6 100h5.25v5.25h-5.25zM453.6 100h5.25v5.25h-5.25zM493.6 100h5.25v5.25h-5.25zM498.6 100h5.25v5.25h-5.25zM438.6 105h5.25v5.25h-5.25zM508.6 105h5.25v5.25h-5.25zM513.6 105h5.25v5.25h-5.25zM528.6 110h5.25v5.25h-5.25zM433.6 115h5.25v5.25h-5.25zM538.6 115h5.25v5.25h-5.25zM543.6 115h5.25v5.25h-5.25zM428.6 120h5.25v5.25h-5.25zM563.6 120h5.25v5.25h-5.25zM568.6 120h5.25v5.25h-5.25zM573.6 120h5.25v5.25h-5.25zM618.6 120h5.25v5.25h-5.25zM623.6 120h5.25v5.25h-5.25zM628.6 120h5.25v5.25h-5.25zM633.6 120h5.25v5.25h-5.25zM638.6 120h5.25v5.25h-5.25zM643.6 120h5.25v5.25h-5.25zM423.6 125h5.25v5.25h-5.25zM422.1 135h1.75v5.25h-1.75zM422.1 140h1.75v5.25h-1.75zM423.6 145h5.25v5.25h-5.25zM518.6 225h5.25v5.25h-5.25zM518.6 230h5.25v5.25h-5.25zM523.6 235h5.25v5.25h-5.25zM528.6 240h5.25v5.25h-5.25zM533.6 245h5.25v5.25h-5.25zM658.6 245h5.25v5.25h-5.25zM663.6 245h5.25v5.25h-5.25zM538.6 250h5.25v5.25h-5.25zM543.6 250h5.25v5.25h-5.25zM638.6 250h5.25v5.25h-5.25zM643.6 250h5.25v5.25h-5.25zM548.6 255h5.25v5.25h-5.25zM553.6 255h5.25v5.25h-5.25zM558.6 255h5.25v5.25h-5.25zM623.6 255h5.25v5.25h-5.25zM628.6 255h5.25v5.25h-5.25zM558.6 260h5.25v5.25h-5.25zM563.6 260h5.25v5.25h-5.25zM568.6 260h5.25v5.25h-5.25zM573.6 260h5.25v5.25h-5.25zM578.6 260h5.25v5.25h-5.25zM583.6 260h5.25v5.25h-5.25zM588.6 260h5.25v5.25h-5.25zM593.6 260h5.25v5.25h-5.25zM598.6 260h5.25v5.25h-5.25zM603.6 260h5.25v5.25h-5.25zM608.6 260h5.25v5.25h-5.25z"/><path fill="#fdf5f5" d="M458.6 100h5.25v5.25h-5.25zM463.6 100h5.25v5.25h-5.25zM468.6 100h5.25v5.25h-5.25zM473.6 100h5.25v5.25h-5.25zM478.6 100h5.25v5.25h-5.25zM483.6 100h5.25v5.25h-5.25zM488.6 100h5.25v5.25h-5.25zM443.6 105h5.25v5.25h-5.25zM448.6 105h5.25v5.25h-5.25zM503.6 105h5.25v5.25h-5.25zM438.6 110h5.25v5.25h-5.25zM518.6 110h5.25v5.25h-5.25zM523.6 110h5.25v5.25h-5.25zM533.6 115h5.25v5.25h-5.25zM433.6 120h5.25v5.25h-5.25zM553.6 120h5.25v5.25h-5.25zM558.6 120h5.25v5.25h-5.25zM578.6 120h5.25v5.25h-5.25zM583.6 120h5.25v5.25h-5.25zM588.6 120h5.25v5.25h-5.25zM593.6 120h5.25v5.25h-5.25zM598.6 120h5.25v5.25h-5.25zM603.6 120h5.25v5.25h-5.25zM608.6 120h5.25v5.25h-5.25zM613.6 120h5.25v5.25h-5.25zM428.6 125h5.25v5.25h-5.25zM668.6 125h2.85v5.25h-2.85zM423.6 130h5.25v5.25h-5.25zM423.6 135h5.25v5.25h-5.25zM423.6 140h5.25v5.25h-5.25zM428.6 145h5.25v5.25h-5.25zM523.6 230h5.25v5.25h-5.25zM533.6 240h5.25v5.25h-5.25zM538.6 245h5.25v5.25h-5.25zM648.6 245h5.25v5.25h-5.25zM653.6 245h5.25v5.25h-5.25zM548.6 250h5.25v5.25h-5.25zM553.6 250h5.25v5.25h-5.25zM558.6 250h5.25v5.25h-5.25zM633.6 250h5.25v5.25h-5.25zM563.6 255h5.25v5.25h-5.25zM568.6 255h5.25v5.25h-5.25zM573.6 255h5.25v5.25h-5.25zM578.6 255h5.25v5.25h-5.25zM583.6 255h5.25v5.25h-5.25zM588.6 255h5.25v5.25h-5.25zM593.6 255h5.25v5.25h-5.25zM603.6 255h5.25v5.25h-5.25zM608.6 255h5.25v5.25h-5.25zM613.6 255h5.25v5.25h-5.25zM618.6 255h5.25v5.25h-5.25z"/><path fill="#fcf2f2" d="M453.6 105h5.25v5.25h-5.25zM458.6 105h5.25v5.25h-5.25zM498.6 105h5.25v5.25h-5.25zM443.6 110h5.25v5.25h-5.25zM513.6 110h5.25v5.25h-5.25zM438.6 115h5.25v5.25h-5.25zM528.6 115h5.25v5.25h-5.25zM543.6 120h5.25v5.25h-5.25zM548.6 120h5.25v5.25h-5.25zM648.6 125h5.25v5.25h-5.25zM653.6 125h5.25v5.25h-5.25zM658.6 125h5.25v5.25h-5.25zM663.6 125h5.25v5.25h-5.25zM428.6 130h5.25v5.25h-5.25zM428.6 135h5.25v5.25h-5.25zM428.6 140h5.25v5.25h-5.25zM528.6 235h5.25v5.25h-5.25zM538.6 240h5.25v5.25h-5.25zM663.6 240h5.25v5.25h-5.25zM668.6 240h2.85v5.25h-2.85zM543.6 245h5.25v5.25h-5.25zM548.6 245h5.25v5.25h-5.25zM553.6 245h5.25v5.25h-5.25zM643.6 245h5.25v5.25h-5.25zM563.6 250h5.25v5.25h-5.25zM568.6 250h5.25v5.25h-5.25zM573.6 250h5.25v5.25h-5.25zM578.6 250h5.25v5.25h-5.25zM583.6 250h5.25v5.25h-5.25zM623.6 250h5.25v5.25h-5.25zM628.6 250h5.25v5.25h-5.25zM598.6 255h5.25v5.25h-5.25z"/><path fill="#fceeee" d="M463.6 105h5.25v5.25h-5.25zM468.6 105h5.25v5.25h-5.25zM473.6 105h5.25v5.25h-5.25zM478.6 105h5.25v5.25h-5.25zM483.6 105h5.25v5.25h-5.25zM488.6 105h5.25v5.25h-5.25zM493.6 105h5.25v5.25h-5.25zM448.6 110h5.25v5.25h-5.25zM508.6 110h5.25v5.25h-5.25zM523.6 115h5.25v5.25h-5.25zM438.6 120h5.25v5.25h-5.25zM538.6 120h5.25v5.25h-5.25zM433.6 125h5.25v5.25h-5.25zM628.6 125h5.25v5.25h-5.25zM633.6 125h5.25v5.25h-5.25zM638.6 125h5.25v5.25h-5.25zM643.6 125h5.25v5.25h-5.25zM523.6 225h5.25v5.25h-5.25zM528.6 230h5.25v5.25h-5.25zM533.6 235h5.25v5.25h-5.25zM543.6 240h5.25v5.25h-5.25zM548.6 240h5.25v5.25h-5.25zM658.6 240h5.25v5.25h-5.25zM558.6 245h5.25v5.25h-5.25zM563.6 245h5.25v5.25h-5.25zM568.6 245h5.25v5.25h-5.25zM638.6 245h5.25v5.25h-5.25zM588.6 250h5.25v5.25h-5.25zM593.6 250h5.25v5.25h-5.25zM598.6 250h5.25v5.25h-5.25zM603.6 250h5.25v5.25h-5.25zM608.6 250h5.25v5.25h-5.25zM613.6 250h5.25v5.25h-5.25zM618.6 250h5.25v5.25h-5.25z"/><path fill="#fbebeb" d="M453.6 110h5.25v5.25h-5.25zM503.6 110h5.25v5.25h-5.25zM443.6 115h5.25v5.25h-5.25zM518.6 115h5.25v5.25h-5.25zM533.6 120h5.25v5.25h-5.25zM558.6 125h5.25v5.25h-5.25zM563.6 125h5.25v5.25h-5.25zM568.6 125h5.25v5.25h-5.25zM573.6 125h5.25v5.25h-5.25zM618.6 125h5.25v5.25h-5.25zM623.6 125h5.25v5.25h-5.25zM433.6 130h5.25v5.25h-5.25zM433.6 135h5.25v5.25h-5.25zM433.6 140h5.25v5.25h-5.25zM538.6 235h5.25v5.25h-5.25zM543.6 235h5.25v5.25h-5.25zM553.6 240h5.25v5.25h-5.25zM558.6 240h5.25v5.25h-5.25zM653.6 240h5.25v5.25h-5.25zM573.6 245h5.25v5.25h-5.25zM578.6 245h5.25v5.25h-5.25zM583.6 245h5.25v5.25h-5.25zM588.6 245h5.25v5.25h-5.25zM593.6 245h5.25v5.25h-5.25zM623.6 245h5.25v5.25h-5.25zM628.6 245h5.25v5.25h-5.25zM633.6 245h5.25v5.25h-5.25z"/><path fill="#fbe7e7" d="M458.6 110h5.25v5.25h-5.25zM493.6 110h5.25v5.25h-5.25zM498.6 110h5.25v5.25h-5.25zM448.6 115h5.25v5.25h-5.25zM508.6 115h5.25v5.25h-5.25zM513.6 115h5.25v5.25h-5.25zM443.6 120h5.25v5.25h-5.25zM523.6 120h5.25v5.25h-5.25zM528.6 120h5.25v5.25h-5.25zM438.6 125h5.25v5.25h-5.25zM548.6 125h5.25v5.25h-5.25zM553.6 125h5.25v5.25h-5.25zM578.6 125h5.25v5.25h-5.25zM583.6 125h5.25v5.25h-5.25zM588.6 125h5.25v5.25h-5.25zM593.6 125h5.25v5.25h-5.25zM598.6 125h5.25v5.25h-5.25zM603.6 125h5.25v5.25h-5.25zM608.6 125h5.25v5.25h-5.25zM613.6 125h5.25v5.25h-5.25zM668.6 130h2.85v5.25h-2.85zM438.6 140h5.25v5.25h-5.25zM528.6 225h5.25v5.25h-5.25zM533.6 230h5.25v5.25h-5.25zM538.6 230h5.25v5.25h-5.25zM548.6 235h5.25v5.25h-5.25zM553.6 235h5.25v5.25h-5.25zM663.6 235h5.25v5.25h-5.25zM668.6 235h2.85v5.25h-2.85zM563.6 240h5.25v5.25h-5.25zM568.6 240h5.25v5.25h-5.25zM573.6 240h5.25v5.25h-5.25zM643.6 240h5.25v5.25h-5.25zM648.6 240h5.25v5.25h-5.25zM598.6 245h5.25v5.25h-5.25zM603.6 245h5.25v5.25h-5.25zM608.6 245h5.25v5.25h-5.25zM613.6 245h5.25v5.25h-5.25zM618.6 245h5.25v5.25h-5.25z"/><path fill="#fae4e4" d="M463.6 110h5.25v5.25h-5.25zM488.6 110h5.25v5.25h-5.25zM518.6 120h5.25v5.25h-5.25zM528.6 125h5.25v5.25h-5.25zM533.6 125h5.25v5.25h-5.25zM538.6 125h5.25v5.25h-5.25zM543.6 125h5.25v5.25h-5.25zM438.6 130h5.25v5.25h-5.25zM658.6 130h5.25v5.25h-5.25zM663.6 130h5.25v5.25h-5.25zM438.6 135h5.25v5.25h-5.25zM533.6 225h5.25v5.25h-5.25zM543.6 230h5.25v5.25h-5.25zM558.6 235h5.25v5.25h-5.25zM658.6 235h5.25v5.25h-5.25zM578.6 240h5.25v5.25h-5.25zM583.6 240h5.25v5.25h-5.25zM588.6 240h5.25v5.25h-5.25zM628.6 240h5.25v5.25h-5.25zM633.6 240h5.25v5.25h-5.25zM638.6 240h5.25v5.25h-5.25z"/><path fill="#f9e1e1" d="M468.6 110h5.25v5.25h-5.25zM473.6 110h5.25v5.25h-5.25zM483.6 110h5.25v5.25h-5.25zM453.6 115h5.25v5.25h-5.25zM503.6 115h5.25v5.25h-5.25zM513.6 120h5.25v5.25h-5.25zM443.6 125h5.25v5.25h-5.25zM523.6 125h5.25v5.25h-5.25zM643.6 130h5.25v5.25h-5.25zM648.6 130h5.25v5.25h-5.25zM653.6 130h5.25v5.25h-5.25zM443.6 145h5.25v5.25h-5.25zM448.6 150h5.25v5.25h-5.25zM538.6 225h5.25v5.25h-5.25zM548.6 230h5.25v5.25h-5.25zM553.6 230h5.25v5.25h-5.25zM668.6 230h2.85v5.25h-2.85zM563.6 235h5.25v5.25h-5.25zM568.6 235h5.25v5.25h-5.25zM648.6 235h5.25v5.25h-5.25zM653.6 235h5.25v5.25h-5.25zM593.6 240h5.25v5.25h-5.25zM598.6 240h5.25v5.25h-5.25zM603.6 240h5.25v5.25h-5.25zM608.6 240h5.25v5.25h-5.25zM613.6 240h5.25v5.25h-5.25zM618.6 240h5.25v5.25h-5.25zM623.6 240h5.25v5.25h-5.25z"/><path fill="#f9dddd" d="M478.6 110h5.25v5.25h-5.25zM498.6 115h5.25v5.25h-5.25zM448.6 120h5.25v5.25h-5.25zM508.6 120h5.25v5.25h-5.25zM518.6 125h5.25v5.25h-5.25zM528.6 130h5.25v5.25h-5.25zM533.6 130h5.25v5.25h-5.25zM538.6 130h5.25v5.25h-5.25zM543.6 130h5.25v5.25h-5.25zM548.6 130h5.25v5.25h-5.25zM553.6 130h5.25v5.25h-5.25zM558.6 130h5.25v5.25h-5.25zM563.6 130h5.25v5.25h-5.25zM628.6 130h5.25v5.25h-5.25zM633.6 130h5.25v5.25h-5.25zM638.6 130h5.25v5.25h-5.25zM443.6 140h5.25v5.25h-5.25zM543.6 225h5.25v5.25h-5.25zM558.6 230h5.25v5.25h-5.25zM658.6 230h5.25v5.25h-5.25zM663.6 230h5.25v5.25h-5.25zM573.6 235h5.25v5.25h-5.25zM578.6 235h5.25v5.25h-5.25zM638.6 235h5.25v5.25h-5.25zM643.6 235h5.25v5.25h-5.25z"/><path fill="#f8dada" d="M458.6 115h5.25v5.25h-5.25zM513.6 125h5.25v5.25h-5.25zM443.6 130h5.25v5.25h-5.25zM523.6 130h5.25v5.25h-5.25zM568.6 130h5.25v5.25h-5.25zM573.6 130h5.25v5.25h-5.25zM618.6 130h5.25v5.25h-5.25zM623.6 130h5.25v5.25h-5.25zM443.6 135h5.25v5.25h-5.25zM663.6 135h5.25v5.25h-5.25zM668.6 135h2.85v5.25h-2.85zM448.6 145h5.25v5.25h-5.25zM538.6 220h5.25v5.25h-5.25zM548.6 225h5.25v5.25h-5.25zM668.6 225h2.85v5.25h-2.85zM563.6 230h5.25v5.25h-5.25zM653.6 230h5.25v5.25h-5.25zM583.6 235h5.25v5.25h-5.25zM588.6 235h5.25v5.25h-5.25zM593.6 235h5.25v5.25h-5.25zM623.6 235h5.25v5.25h-5.25zM628.6 235h5.25v5.25h-5.25zM633.6 235h5.25v5.25h-5.25z"/><path fill="#f6d0d0" d="M463.6 115h5.25v5.25h-5.25zM453.6 120h5.25v5.25h-5.25zM508.6 125h5.25v5.25h-5.25zM513.6 130h5.25v5.25h-5.25zM518.6 135h5.25v5.25h-5.25zM563.6 135h5.25v5.25h-5.25zM568.6 135h5.25v5.25h-5.25zM628.6 135h5.25v5.25h-5.25zM633.6 135h5.25v5.25h-5.25zM638.6 135h5.25v5.25h-5.25zM448.6 140h5.25v5.25h-5.25zM523.6 140h5.25v5.25h-5.25zM528.6 140h5.25v5.25h-5.25zM533.6 140h5.25v5.25h-5.25zM538.6 140h5.25v5.25h-5.25zM543.6 140h5.25v5.25h-5.25zM478.6 160h5.25v5.25h-5.25zM483.6 160h5.25v5.25h-5.25zM493.6 165h5.25v5.25h-5.25zM498.6 165h5.25v5.25h-5.25zM548.6 220h5.25v5.25h-5.25zM668.6 220h2.85v5.25h-2.85zM563.6 225h5.25v5.25h-5.25zM653.6 225h5.25v5.25h-5.25zM583.6 230h5.25v5.25h-5.25zM628.6 230h5.25v5.25h-5.25zM633.6 230h5.25v5.25h-5.25z"/><path fill="#f5c9c9" d="M468.6 115h5.25v5.25h-5.25zM483.6 115h5.25v5.25h-5.25zM498.6 120h5.25v5.25h-5.25zM513.6 135h5.25v5.25h-5.25zM588.6 135h5.25v5.25h-5.25zM593.6 135h5.25v5.25h-5.25zM598.6 135h5.25v5.25h-5.25zM603.6 135h5.25v5.25h-5.25zM608.6 135h5.25v5.25h-5.25zM553.6 140h5.25v5.25h-5.25zM558.6 140h5.25v5.25h-5.25zM653.6 140h5.25v5.25h-5.25zM658.6 140h5.25v5.25h-5.25zM518.6 145h5.25v5.25h-5.25zM523.6 145h5.25v5.25h-5.25zM533.6 145h5.25v5.25h-5.25zM538.6 145h5.25v5.25h-5.25zM498.6 160h5.25v5.25h-5.25zM503.6 160h5.25v5.25h-5.25zM508.6 160h5.25v5.25h-5.25zM508.6 165h5.25v5.25h-5.25zM508.6 170h5.25v5.25h-5.25zM538.6 210h5.25v5.25h-5.25zM548.6 215h5.25v5.25h-5.25zM558.6 220h5.25v5.25h-5.25zM658.6 220h5.25v5.25h-5.25zM573.6 225h5.25v5.25h-5.25zM643.6 225h5.25v5.25h-5.25zM603.6 230h5.25v5.25h-5.25zM608.6 230h5.25v5.25h-5.25z"/><path fill="#f4c6c6" d="M473.6 115h5.25v5.25h-5.25zM478.6 115h5.25v5.25h-5.25zM513.6 140h5.25v5.25h-5.25zM563.6 140h5.25v5.25h-5.25zM643.6 140h5.25v5.25h-5.25zM648.6 140h5.25v5.25h-5.25zM513.6 145h5.25v5.25h-5.25zM543.6 145h5.25v5.25h-5.25zM668.6 145h2.85v5.25h-2.85zM513.6 150h5.25v5.25h-5.25zM518.6 150h5.25v5.25h-5.25zM523.6 150h5.25v5.25h-5.25zM528.6 150h5.25v5.25h-5.25zM473.6 155h5.25v5.25h-5.25zM503.6 155h5.25v5.25h-5.25zM508.6 155h5.25v5.25h-5.25zM513.6 155h5.25v5.25h-5.25zM518.6 155h5.25v5.25h-5.25zM513.6 160h5.25v5.25h-5.25zM513.6 165h5.25v5.25h-5.25zM513.6 170h5.25v5.25h-5.25zM668.6 215h2.85v5.25h-2.85zM578.6 225h5.25v5.25h-5.25zM638.6 225h5.25v5.25h-5.25z"/><path fill="#f5cccd" d="M488.6 115h5.25v5.25h-5.25zM448.6 130h5.25v5.25h-5.25zM448.6 135h5.25v5.25h-5.25zM573.6 135h5.25v5.25h-5.25zM578.6 135h5.25v5.25h-5.25zM583.6 135h5.25v5.25h-5.25zM613.6 135h5.25v5.25h-5.25zM618.6 135h5.25v5.25h-5.25zM623.6 135h5.25v5.25h-5.25zM518.6 140h5.25v5.25h-5.25zM548.6 140h5.25v5.25h-5.25zM663.6 140h5.25v5.25h-5.25zM453.6 145h5.25v5.25h-5.25zM528.6 145h5.25v5.25h-5.25zM458.6 150h5.25v5.25h-5.25zM468.6 155h5.25v5.25h-5.25zM488.6 160h5.25v5.25h-5.25zM493.6 160h5.25v5.25h-5.25zM503.6 165h5.25v5.25h-5.25zM543.6 215h5.25v5.25h-5.25zM553.6 220h5.25v5.25h-5.25zM663.6 220h5.25v5.25h-5.25zM568.6 225h5.25v5.25h-5.25zM648.6 225h5.25v5.25h-5.25zM588.6 230h5.25v5.25h-5.25zM593.6 230h5.25v5.25h-5.25zM598.6 230h5.25v5.25h-5.25zM613.6 230h5.25v5.25h-5.25zM618.6 230h5.25v5.25h-5.25zM623.6 230h5.25v5.25h-5.25z"/><path fill="#f7d6d7" d="M493.6 115h5.25v5.25h-5.25zM518.6 130h5.25v5.25h-5.25zM578.6 130h5.25v5.25h-5.25zM583.6 130h5.25v5.25h-5.25zM588.6 130h5.25v5.25h-5.25zM593.6 130h5.25v5.25h-5.25zM598.6 130h5.25v5.25h-5.25zM603.6 130h5.25v5.25h-5.25zM608.6 130h5.25v5.25h-5.25zM613.6 130h5.25v5.25h-5.25zM528.6 135h5.25v5.25h-5.25zM533.6 135h5.25v5.25h-5.25zM538.6 135h5.25v5.25h-5.25zM543.6 135h5.25v5.25h-5.25zM548.6 135h5.25v5.25h-5.25zM658.6 135h5.25v5.25h-5.25zM453.6 150h5.25v5.25h-5.25zM543.6 220h5.25v5.25h-5.25zM553.6 225h5.25v5.25h-5.25zM663.6 225h5.25v5.25h-5.25zM568.6 230h5.25v5.25h-5.25zM643.6 230h5.25v5.25h-5.25zM648.6 230h5.25v5.25h-5.25zM598.6 235h5.25v5.25h-5.25zM603.6 235h5.25v5.25h-5.25zM608.6 235h5.25v5.25h-5.25zM613.6 235h5.25v5.25h-5.25zM618.6 235h5.25v5.25h-5.25z"/><path fill="#f3c2c3" d="M458.6 120h5.25v5.25h-5.25zM503.6 125h5.25v5.25h-5.25zM508.6 130h5.25v5.25h-5.25zM568.6 140h5.25v5.25h-5.25zM573.6 140h5.25v5.25h-5.25zM633.6 140h5.25v5.25h-5.25zM638.6 140h5.25v5.25h-5.25zM548.6 145h5.25v5.25h-5.25zM663.6 145h5.25v5.25h-5.25zM463.6 150h5.25v5.25h-5.25zM508.6 150h5.25v5.25h-5.25zM533.6 150h5.25v5.25h-5.25zM538.6 150h5.25v5.25h-5.25zM478.6 155h5.25v5.25h-5.25zM498.6 155h5.25v5.25h-5.25zM523.6 155h5.25v5.25h-5.25zM528.6 155h5.25v5.25h-5.25zM518.6 160h5.25v5.25h-5.25zM523.6 160h5.25v5.25h-5.25zM518.6 165h5.25v5.25h-5.25zM518.6 170h5.25v5.25h-5.25zM518.6 175h5.25v5.25h-5.25zM538.6 205h5.25v5.25h-5.25zM543.6 210h5.25v5.25h-5.25zM553.6 215h5.25v5.25h-5.25zM663.6 215h5.25v5.25h-5.25zM563.6 220h5.25v5.25h-5.25zM653.6 220h5.25v5.25h-5.25zM583.6 225h5.25v5.25h-5.25zM628.6 225h5.25v5.25h-5.25zM633.6 225h5.25v5.25h-5.25z"/><path fill="#f0b1b2" d="M463.6 120h5.25v5.25h-5.25zM503.6 130h5.25v5.25h-5.25zM503.6 145h5.25v5.25h-5.25zM573.6 145h5.25v5.25h-5.25zM633.6 145h5.25v5.25h-5.25zM558.6 150h5.25v5.25h-5.25zM548.6 155h5.25v5.25h-5.25zM533.6 170h5.25v5.25h-5.25zM533.6 185h5.25v5.25h-5.25zM538.6 195h5.25v5.25h-5.25zM543.6 200h5.25v5.25h-5.25zM548.6 205h5.25v5.25h-5.25zM668.6 205h2.85v5.25h-2.85zM648.6 215h5.25v5.25h-5.25zM583.6 220h5.25v5.25h-5.25zM628.6 220h5.25v5.25h-5.25z"/><path fill="#eea4a4" d="M468.6 120h5.25v5.25h-5.25zM458.6 140h5.25v5.25h-5.25zM463.6 145h5.25v5.25h-5.25zM478.6 150h5.25v5.25h-5.25zM488.6 150h5.25v5.25h-5.25zM643.6 150h5.25v5.25h-5.25zM558.6 155h5.25v5.25h-5.25zM668.6 160h2.85v5.25h-2.85zM578.6 215h5.25v5.25h-5.25z"/><path fill="#ec9a9a" d="M473.6 120h5.25v5.25h-5.25zM623.6 150h5.25v5.25h-5.25zM653.6 155h5.25v5.25h-5.25zM663.6 160h5.25v5.25h-5.25zM668.6 165h2.85v5.25h-2.85zM643.6 210h5.25v5.25h-5.25zM623.6 215h5.25v5.25h-5.25z"/><path fill="#eb9697" d="M478.6 120h5.25v5.25h-5.25zM493.6 125h5.25v5.25h-5.25zM458.6 130h5.25v5.25h-5.25zM498.6 130h5.25v5.25h-5.25zM458.6 135h5.25v5.25h-5.25zM583.6 150h5.25v5.25h-5.25zM618.6 150h5.25v5.25h-5.25zM568.6 155h5.25v5.25h-5.25zM648.6 155h5.25v5.25h-5.25zM558.6 160h5.25v5.25h-5.25zM548.6 170h5.25v5.25h-5.25zM548.6 190h5.25v5.25h-5.25zM563.6 205h5.25v5.25h-5.25zM653.6 205h5.25v5.25h-5.25zM573.6 210h5.25v5.25h-5.25zM588.6 215h5.25v5.25h-5.25zM618.6 215h5.25v5.25h-5.25z"/><path fill="#ec9d9e" d="M483.6 120h5.25v5.25h-5.25zM578.6 150h5.25v5.25h-5.25zM628.6 150h5.25v5.25h-5.25zM633.6 150h5.25v5.25h-5.25zM563.6 155h5.25v5.25h-5.25zM553.6 160h5.25v5.25h-5.25zM548.6 165h5.25v5.25h-5.25zM543.6 175h5.25v5.25h-5.25zM543.6 180h5.25v5.25h-5.25zM543.6 185h5.25v5.25h-5.25zM548.6 195h5.25v5.25h-5.25zM668.6 195h2.85v5.25h-2.85zM553.6 200h5.25v5.25h-5.25zM663.6 200h5.25v5.25h-5.25zM568.6 210h5.25v5.25h-5.25zM583.6 215h5.25v5.25h-5.25zM628.6 215h5.25v5.25h-5.25z"/><path fill="#efabab" d="M488.6 120h5.25v5.25h-5.25zM583.6 145h5.25v5.25h-5.25zM618.6 145h5.25v5.25h-5.25zM473.6 150h5.25v5.25h-5.25zM563.6 150h5.25v5.25h-5.25zM653.6 150h5.25v5.25h-5.25zM553.6 155h5.25v5.25h-5.25zM538.6 170h5.25v5.25h-5.25zM538.6 190h5.25v5.25h-5.25zM553.6 205h5.25v5.25h-5.25zM643.6 215h5.25v5.25h-5.25zM593.6 220h5.25v5.25h-5.25zM618.6 220h5.25v5.25h-5.25z"/><path fill="#f2b8b8" d="M493.6 120h5.25v5.25h-5.25zM598.6 140h5.25v5.25h-5.25zM603.6 140h5.25v5.25h-5.25zM458.6 145h5.25v5.25h-5.25zM563.6 145h5.25v5.25h-5.25zM648.6 145h5.25v5.25h-5.25zM548.6 150h5.25v5.25h-5.25zM538.6 155h5.25v5.25h-5.25zM533.6 160h5.25v5.25h-5.25zM528.6 165h5.25v5.25h-5.25zM528.6 170h5.25v5.25h-5.25zM528.6 175h5.25v5.25h-5.25zM528.6 180h5.25v5.25h-5.25zM538.6 200h5.25v5.25h-5.25zM543.6 205h5.25v5.25h-5.25zM573.6 220h5.25v5.25h-5.25zM638.6 220h5.25v5.25h-5.25z"/><path fill="#f7d3d3" d="M503.6 120h5.25v5.25h-5.25zM448.6 125h5.25v5.25h-5.25zM523.6 135h5.25v5.25h-5.25zM553.6 135h5.25v5.25h-5.25zM558.6 135h5.25v5.25h-5.25zM643.6 135h5.25v5.25h-5.25zM648.6 135h5.25v5.25h-5.25zM653.6 135h5.25v5.25h-5.25zM668.6 140h2.85v5.25h-2.85zM463.6 155h5.25v5.25h-5.25zM538.6 215h5.25v5.25h-5.25zM558.6 225h5.25v5.25h-5.25zM658.6 225h5.25v5.25h-5.25zM573.6 230h5.25v5.25h-5.25zM578.6 230h5.25v5.25h-5.25zM638.6 230h5.25v5.25h-5.25z"/><path fill="#f3bfbf" d="M453.6 125h5.25v5.25h-5.25zM453.6 140h5.25v5.25h-5.25zM578.6 140h5.25v5.25h-5.25zM623.6 140h5.25v5.25h-5.25zM628.6 140h5.25v5.25h-5.25zM508.6 145h5.25v5.25h-5.25zM553.6 145h5.25v5.25h-5.25zM658.6 145h5.25v5.25h-5.25zM543.6 150h5.25v5.25h-5.25zM483.6 155h5.25v5.25h-5.25zM488.6 155h5.25v5.25h-5.25zM493.6 155h5.25v5.25h-5.25zM533.6 155h5.25v5.25h-5.25zM523.6 165h5.25v5.25h-5.25zM523.6 170h5.25v5.25h-5.25zM523.6 180h5.25v5.25h-5.25zM568.6 220h5.25v5.25h-5.25zM648.6 220h5.25v5.25h-5.25zM588.6 225h5.25v5.25h-5.25zM623.6 225h5.25v5.25h-5.25z"/><path fill="#eea7a8" d="M458.6 125h5.25v5.25h-5.25zM503.6 135h5.25v5.25h-5.25zM503.6 140h5.25v5.25h-5.25zM588.6 145h5.25v5.25h-5.25zM593.6 145h5.25v5.25h-5.25zM598.6 145h5.25v5.25h-5.25zM603.6 145h5.25v5.25h-5.25zM608.6 145h5.25v5.25h-5.25zM613.6 145h5.25v5.25h-5.25zM568.6 150h5.25v5.25h-5.25zM648.6 150h5.25v5.25h-5.25zM663.6 155h5.25v5.25h-5.25zM548.6 160h5.25v5.25h-5.25zM543.6 165h5.25v5.25h-5.25zM538.6 175h5.25v5.25h-5.25zM538.6 180h5.25v5.25h-5.25zM538.6 185h5.25v5.25h-5.25zM543.6 195h5.25v5.25h-5.25zM548.6 200h5.25v5.25h-5.25zM668.6 200h2.85v5.25h-2.85zM663.6 205h5.25v5.25h-5.25zM563.6 210h5.25v5.25h-5.25zM653.6 210h5.25v5.25h-5.25zM573.6 215h5.25v5.25h-5.25zM638.6 215h5.25v5.25h-5.25zM598.6 220h5.25v5.25h-5.25zM603.6 220h5.25v5.25h-5.25zM608.6 220h5.25v5.25h-5.25zM613.6 220h5.25v5.25h-5.25z"/><path fill="#ea9090" d="M463.6 125h5.25v5.25h-5.25zM498.6 140h5.25v5.25h-5.25zM468.6 145h5.25v5.25h-5.25zM493.6 145h5.25v5.25h-5.25zM593.6 150h5.25v5.25h-5.25zM598.6 150h5.25v5.25h-5.25zM603.6 150h5.25v5.25h-5.25zM608.6 150h5.25v5.25h-5.25zM573.6 155h5.25v5.25h-5.25zM638.6 155h5.25v5.25h-5.25zM663.6 165h5.25v5.25h-5.25zM548.6 180h5.25v5.25h-5.25zM663.6 195h5.25v5.25h-5.25zM648.6 205h5.25v5.25h-5.25zM603.6 215h5.25v5.25h-5.25zM608.6 215h5.25v5.25h-5.25z"/><path fill="#e57575" d="M468.6 125h5.25v5.25h-5.25zM463.6 130h5.25v5.25h-5.25zM493.6 130h5.25v5.25h-5.25zM493.6 140h5.25v5.25h-5.25zM478.6 145h5.25v5.25h-5.25zM483.6 145h5.25v5.25h-5.25zM598.6 155h5.25v5.25h-5.25zM603.6 155h5.25v5.25h-5.25zM633.6 160h5.25v5.25h-5.25zM568.6 165h5.25v5.25h-5.25zM648.6 165h5.25v5.25h-5.25zM658.6 175h5.25v5.25h-5.25zM558.6 180h5.25v5.25h-5.25zM658.6 185h5.25v5.25h-5.25zM643.6 200h5.25v5.25h-5.25z"/><path fill="#e26464" d="M473.6 125h5.25v5.25h-5.25zM588.6 160h5.25v5.25h-5.25zM618.6 160h5.25v5.25h-5.25zM648.6 190h5.25v5.25h-5.25zM578.6 200h5.25v5.25h-5.25zM633.6 200h5.25v5.25h-5.25zM618.6 205h5.25v5.25h-5.25z"/><path fill="#e16061" d="M478.6 125h5.25v5.25h-5.25zM633.6 165h5.25v5.25h-5.25zM643.6 170h5.25v5.25h-5.25zM648.6 175h5.25v5.25h-5.25zM568.6 190h5.25v5.25h-5.25zM593.6 205h5.25v5.25h-5.25zM613.6 205h5.25v5.25h-5.25z"/><path fill="#e36a6b" d="M483.6 125h5.25v5.25h-5.25zM583.6 160h5.25v5.25h-5.25zM563.6 175h5.25v5.25h-5.25zM653.6 175h5.25v5.25h-5.25zM568.6 195h5.25v5.25h-5.25zM623.6 205h5.25v5.25h-5.25z"/><path fill="#e67b7c" d="M488.6 125h5.25v5.25h-5.25zM588.6 155h5.25v5.25h-5.25zM618.6 155h5.25v5.25h-5.25zM573.6 160h5.25v5.25h-5.25zM638.6 160h5.25v5.25h-5.25zM653.6 165h5.25v5.25h-5.25zM658.6 170h5.25v5.25h-5.25zM558.6 190h5.25v5.25h-5.25zM658.6 190h5.25v5.25h-5.25zM653.6 195h5.25v5.25h-5.25zM568.6 200h5.25v5.25h-5.25zM593.6 210h5.25v5.25h-5.25zM618.6 210h5.25v5.25h-5.25z"/><path fill="#f0aeae" d="M498.6 125h5.25v5.25h-5.25zM578.6 145h5.25v5.25h-5.25zM623.6 145h5.25v5.25h-5.25zM628.6 145h5.25v5.25h-5.25zM493.6 150h5.25v5.25h-5.25zM658.6 150h5.25v5.25h-5.25zM668.6 155h2.85v5.25h-2.85zM543.6 160h5.25v5.25h-5.25zM538.6 165h5.25v5.25h-5.25zM533.6 175h5.25v5.25h-5.25zM533.6 180h5.25v5.25h-5.25zM558.6 210h5.25v5.25h-5.25zM658.6 210h5.25v5.25h-5.25zM568.6 215h5.25v5.25h-5.25zM588.6 220h5.25v5.25h-5.25zM623.6 220h5.25v5.25h-5.25z"/><path fill="#f1b5b5" d="M453.6 130h5.25v5.25h-5.25zM453.6 135h5.25v5.25h-5.25zM568.6 145h5.25v5.25h-5.25zM638.6 145h5.25v5.25h-5.25zM643.6 145h5.25v5.25h-5.25zM468.6 150h5.25v5.25h-5.25zM498.6 150h5.25v5.25h-5.25zM553.6 150h5.25v5.25h-5.25zM663.6 150h5.25v5.25h-5.25zM543.6 155h5.25v5.25h-5.25zM538.6 160h5.25v5.25h-5.25zM533.6 165h5.25v5.25h-5.25zM533.6 190h5.25v5.25h-5.25zM553.6 210h5.25v5.25h-5.25zM663.6 210h5.25v5.25h-5.25zM563.6 215h5.25v5.25h-5.25zM653.6 215h5.25v5.25h-5.25zM578.6 220h5.25v5.25h-5.25zM633.6 220h5.25v5.25h-5.25z"/><path fill="#de5354" d="M468.6 130h5.25v5.25h-5.25zM583.6 165h5.25v5.25h-5.25zM643.6 185h5.25v5.25h-5.25zM623.6 200h5.25v5.25h-5.25z"/><path fill="#da3b3c" d="M473.6 130h5.25v5.25h-5.25zM483.6 130h5.25v5.25h-5.25zM623.6 170h5.25v5.25h-5.25zM633.6 180h5.25v5.25h-5.25zM633.6 185h5.25v5.25h-5.25zM623.6 195h5.25v5.25h-5.25z"/><path fill="#d83132" d="M478.6 130h5.25v5.25h-5.25zM473.6 135h5.25v5.25h-5.25zM583.6 175h5.25v5.25h-5.25zM628.6 185h5.25v5.25h-5.25zM593.6 195h5.25v5.25h-5.25z"/><path fill="#df5657" d="M488.6 130h5.25v5.25h-5.25zM638.6 170h5.25v5.25h-5.25zM643.6 175h5.25v5.25h-5.25zM568.6 180h5.25v5.25h-5.25zM568.6 185h5.25v5.25h-5.25zM583.6 200h5.25v5.25h-5.25z"/><path fill="#e47172" d="M463.6 135h5.25v5.25h-5.25zM578.6 160h5.25v5.25h-5.25zM563.6 170h5.25v5.25h-5.25zM653.6 170h5.25v5.25h-5.25zM658.6 180h5.25v5.25h-5.25zM653.6 190h5.25v5.25h-5.25zM648.6 195h5.25v5.25h-5.25zM628.6 205h5.25v5.25h-5.25z"/><path fill="#dd4c4d" d="M468.6 135h5.25v5.25h-5.25zM588.6 165h5.25v5.25h-5.25zM578.6 170h5.25v5.25h-5.25zM573.6 175h5.25v5.25h-5.25zM638.6 175h5.25v5.25h-5.25zM618.6 200h5.25v5.25h-5.25z"/><path fill="#d72e2f" d="M478.6 135h5.25v5.25h-5.25zM483.6 135h5.25v5.25h-5.25zM593.6 170h5.25v5.25h-5.25zM598.6 170h5.25v5.25h-5.25zM603.6 170h5.25v5.25h-5.25zM608.6 170h5.25v5.25h-5.25zM613.6 170h5.25v5.25h-5.25zM588.6 175h5.25v5.25h-5.25zM593.6 175h5.25v5.25h-5.25zM598.6 175h5.25v5.25h-5.25zM603.6 175h5.25v5.25h-5.25zM608.6 175h5.25v5.25h-5.25zM613.6 175h5.25v5.25h-5.25zM618.6 175h5.25v5.25h-5.25zM623.6 175h5.25v5.25h-5.25zM583.6 180h5.25v5.25h-5.25zM588.6 180h5.25v5.25h-5.25zM593.6 180h5.25v5.25h-5.25zM598.6 180h5.25v5.25h-5.25zM603.6 180h5.25v5.25h-5.25zM608.6 180h5.25v5.25h-5.25zM613.6 180h5.25v5.25h-5.25zM618.6 180h5.25v5.25h-5.25zM623.6 180h5.25v5.25h-5.25zM628.6 180h5.25v5.25h-5.25zM583.6 185h5.25v5.25h-5.25zM588.6 185h5.25v5.25h-5.25zM593.6 185h5.25v5.25h-5.25zM598.6 185h5.25v5.25h-5.25zM603.6 185h5.25v5.25h-5.25zM608.6 185h5.25v5.25h-5.25zM613.6 185h5.25v5.25h-5.25zM618.6 185h5.25v5.25h-5.25zM623.6 185h5.25v5.25h-5.25zM588.6 190h5.25v5.25h-5.25zM593.6 190h5.25v5.25h-5.25zM598.6 190h5.25v5.25h-5.25zM603.6 190h5.25v5.25h-5.25zM608.6 190h5.25v5.25h-5.25zM613.6 190h5.25v5.25h-5.25zM618.6 190h5.25v5.25h-5.25zM623.6 190h5.25v5.25h-5.25zM598.6 195h5.25v5.25h-5.25zM603.6 195h5.25v5.25h-5.25zM608.6 195h5.25v5.25h-5.25zM613.6 195h5.25v5.25h-5.25z"/><path fill="#dc4546" d="M488.6 135h5.25v5.25h-5.25zM593.6 165h5.25v5.25h-5.25zM613.6 165h5.25v5.25h-5.25zM628.6 170h5.25v5.25h-5.25zM638.6 180h5.25v5.25h-5.25zM638.6 185h5.25v5.25h-5.25zM628.6 195h5.25v5.25h-5.25zM613.6 200h5.25v5.25h-5.25z"/><path fill="#e26768" d="M493.6 135h5.25v5.25h-5.25zM468.6 140h5.25v5.25h-5.25zM623.6 160h5.25v5.25h-5.25zM573.6 165h5.25v5.25h-5.25zM638.6 165h5.25v5.25h-5.25zM568.6 170h5.25v5.25h-5.25zM648.6 170h5.25v5.25h-5.25zM563.6 180h5.25v5.25h-5.25zM653.6 180h5.25v5.25h-5.25zM563.6 185h5.25v5.25h-5.25zM653.6 185h5.25v5.25h-5.25zM643.6 195h5.25v5.25h-5.25zM588.6 205h5.25v5.25h-5.25z"/><path fill="#e98989" d="M498.6 135h5.25v5.25h-5.25zM578.6 155h5.25v5.25h-5.25zM633.6 155h5.25v5.25h-5.25zM558.6 165h5.25v5.25h-5.25zM553.6 190h5.25v5.25h-5.25zM653.6 200h5.25v5.25h-5.25zM643.6 205h5.25v5.25h-5.25zM628.6 210h5.25v5.25h-5.25z"/><path fill="#f2bcbc" d="M508.6 135h5.25v5.25h-5.25zM508.6 140h5.25v5.25h-5.25zM583.6 140h5.25v5.25h-5.25zM588.6 140h5.25v5.25h-5.25zM593.6 140h5.25v5.25h-5.25zM608.6 140h5.25v5.25h-5.25zM613.6 140h5.25v5.25h-5.25zM618.6 140h5.25v5.25h-5.25zM558.6 145h5.25v5.25h-5.25zM653.6 145h5.25v5.25h-5.25zM503.6 150h5.25v5.25h-5.25zM668.6 150h2.85v5.25h-2.85zM528.6 160h5.25v5.25h-5.25zM523.6 175h5.25v5.25h-5.25zM548.6 210h5.25v5.25h-5.25zM668.6 210h2.85v5.25h-2.85zM558.6 215h5.25v5.25h-5.25zM658.6 215h5.25v5.25h-5.25zM643.6 220h5.25v5.25h-5.25zM593.6 225h5.25v5.25h-5.25zM598.6 225h5.25v5.25h-5.25zM603.6 225h5.25v5.25h-5.25zM608.6 225h5.25v5.25h-5.25zM613.6 225h5.25v5.25h-5.25zM618.6 225h5.25v5.25h-5.25z"/><path fill="#e88686" d="M463.6 140h5.25v5.25h-5.25zM628.6 155h5.25v5.25h-5.25zM568.6 160h5.25v5.25h-5.25zM648.6 160h5.25v5.25h-5.25zM658.6 165h5.25v5.25h-5.25zM663.6 170h5.25v5.25h-5.25zM553.6 175h5.25v5.25h-5.25zM553.6 185h5.25v5.25h-5.25zM663.6 190h5.25v5.25h-5.25zM558.6 195h5.25v5.25h-5.25zM658.6 195h5.25v5.25h-5.25zM563.6 200h5.25v5.25h-5.25zM583.6 210h5.25v5.25h-5.25z"/><path fill="#de5050" d="M473.6 140h5.25v5.25h-5.25zM623.6 165h5.25v5.25h-5.25zM633.6 170h5.25v5.25h-5.25zM643.6 180h5.25v5.25h-5.25zM573.6 190h5.25v5.25h-5.25zM638.6 190h5.25v5.25h-5.25zM578.6 195h5.25v5.25h-5.25zM633.6 195h5.25v5.25h-5.25zM588.6 200h5.25v5.25h-5.25z"/><path fill="#db4243" d="M478.6 140h5.25v5.25h-5.25zM598.6 165h5.25v5.25h-5.25zM608.6 165h5.25v5.25h-5.25zM583.6 170h5.25v5.25h-5.25zM633.6 175h5.25v5.25h-5.25zM578.6 190h5.25v5.25h-5.25zM633.6 190h5.25v5.25h-5.25zM583.6 195h5.25v5.25h-5.25zM598.6 200h5.25v5.25h-5.25zM603.6 200h5.25v5.25h-5.25zM608.6 200h5.25v5.25h-5.25z"/><path fill="#dc494a" d="M483.6 140h5.25v5.25h-5.25zM618.6 165h5.25v5.25h-5.25zM573.6 180h5.25v5.25h-5.25zM573.6 185h5.25v5.25h-5.25zM593.6 200h5.25v5.25h-5.25z"/><path fill="#e05a5a" d="M488.6 140h5.25v5.25h-5.25zM603.6 160h5.25v5.25h-5.25zM628.6 165h5.25v5.25h-5.25zM573.6 170h5.25v5.25h-5.25zM643.6 190h5.25v5.25h-5.25zM628.6 200h5.25v5.25h-5.25z"/><path fill="#f9eced" d="M433.6 145h5.25v5.25h-5.25z"/><path fill="#f7e5e6" d="M438.6 145h5.25v5.25h-5.25zM443.6 150h5.25v5.25h-5.25z"/><path fill="#e77f7f" d="M473.6 145h5.25v5.25h-5.25zM488.6 145h5.25v5.25h-5.25zM643.6 160h5.25v5.25h-5.25zM563.6 165h5.25v5.25h-5.25zM558.6 170h5.25v5.25h-5.25zM663.6 175h5.25v5.25h-5.25zM663.6 180h5.25v5.25h-5.25zM648.6 200h5.25v5.25h-5.25zM638.6 205h5.25v5.25h-5.25zM588.6 210h5.25v5.25h-5.25z"/><path fill="#eda0a1" d="M498.6 145h5.25v5.25h-5.25zM483.6 150h5.25v5.25h-5.25zM573.6 150h5.25v5.25h-5.25zM638.6 150h5.25v5.25h-5.25zM658.6 155h5.25v5.25h-5.25zM543.6 170h5.25v5.25h-5.25zM543.6 190h5.25v5.25h-5.25zM558.6 205h5.25v5.25h-5.25zM658.6 205h5.25v5.25h-5.25zM648.6 210h5.25v5.25h-5.25zM633.6 215h5.25v5.25h-5.25z"/><path fill="#faf6f7" d="M428.6 150h5.25v5.25h-5.25z"/><path fill="#f9f0f0" d="M433.6 150h5.25v5.25h-5.25z"/><path fill="#f5e7e9" d="M438.6 150h5.25v5.25h-5.25z"/><path fill="#ea9394" d="M588.6 150h5.25v5.25h-5.25zM613.6 150h5.25v5.25h-5.25zM643.6 155h5.25v5.25h-5.25zM658.6 160h5.25v5.25h-5.25zM553.6 165h5.25v5.25h-5.25zM668.6 170h2.85v5.25h-2.85zM548.6 175h5.25v5.25h-5.25zM548.6 185h5.25v5.25h-5.25zM668.6 190h2.85v5.25h-2.85zM553.6 195h5.25v5.25h-5.25zM558.6 200h5.25v5.25h-5.25zM658.6 200h5.25v5.25h-5.25zM638.6 210h5.25v5.25h-5.25zM593.6 215h5.25v5.25h-5.25zM598.6 215h5.25v5.25h-5.25zM613.6 215h5.25v5.25h-5.25z"/><path fill="#fbfafa" d="M423.6 155h5.25v5.25h-5.25zM513.6 220h5.25v5.25h-5.25z"/><path fill="#f7f4f6" d="M428.6 155h5.25v5.25h-5.25z"/><path fill="#f6eeef" d="M433.6 155h5.25v5.25h-5.25z"/><path fill="#f2e8eb" d="M438.6 155h5.25v5.25h-5.25z"/><path fill="#f2e5e8" d="M443.6 155h5.25v5.25h-5.25z"/><path fill="#f4e0e2" d="M448.6 155h5.25v5.25h-5.25z"/><path fill="#f6dfe0" d="M453.6 155h5.25v5.25h-5.25zM528.6 220h5.25v5.25h-5.25z"/><path fill="#f5d8d9" d="M458.6 155h5.25v5.25h-5.25zM468.6 160h5.25v5.25h-5.25z"/><path fill="#e78283" d="M583.6 155h5.25v5.25h-5.25zM623.6 155h5.25v5.25h-5.25zM553.6 180h5.25v5.25h-5.25zM663.6 185h5.25v5.25h-5.25zM573.6 205h5.25v5.25h-5.25zM623.6 210h5.25v5.25h-5.25z"/><path fill="#e57879" d="M593.6 155h5.25v5.25h-5.25zM608.6 155h5.25v5.25h-5.25zM613.6 155h5.25v5.25h-5.25zM558.6 175h5.25v5.25h-5.25zM558.6 185h5.25v5.25h-5.25zM563.6 195h5.25v5.25h-5.25zM578.6 205h5.25v5.25h-5.25zM633.6 205h5.25v5.25h-5.25zM598.6 210h5.25v5.25h-5.25zM603.6 210h5.25v5.25h-5.25zM608.6 210h5.25v5.25h-5.25zM613.6 210h5.25v5.25h-5.25z"/><path fill="#fcfdfe" d="M423.6 160h5.25v5.25h-5.25zM423.6 165h5.25v5.25h-5.25zM428.6 180h5.25v5.25h-5.25zM433.6 190h5.25v5.25h-5.25zM443.6 205h5.25v5.25h-5.25zM448.6 210h5.25v5.25h-5.25zM453.6 210h5.25v5.25h-5.25zM458.6 215h5.25v5.25h-5.25zM463.6 215h5.25v5.25h-5.25zM473.6 220h5.25v5.25h-5.25zM478.6 220h5.25v5.25h-5.25zM483.6 220h5.25v5.25h-5.25zM488.6 220h5.25v5.25h-5.25zM493.6 220h5.25v5.25h-5.25zM498.6 220h5.25v5.25h-5.25zM503.6 220h5.25v5.25h-5.25zM508.6 220h5.25v5.25h-5.25z"/><path fill="#f7f7f9" d="M428.6 160h5.25v5.25h-5.25z"/><path fill="#f3eff2" d="M433.6 160h5.25v5.25h-5.25z"/><path fill="#ece8ec" d="M438.6 160h5.25v5.25h-5.25z"/><path fill="#e8dfe4" d="M443.6 160h5.25v5.25h-5.25z"/><path fill="#e5dae0" d="M448.6 160h5.25v5.25h-5.25z"/><path fill="#e8d9de" d="M453.6 160h5.25v5.25h-5.25z"/><path fill="#ead7dc" d="M458.6 160h5.25v5.25h-5.25z"/><path fill="#f0d8da" d="M463.6 160h5.25v5.25h-5.25z"/><path fill="#f4d1d2" d="M473.6 160h5.25v5.25h-5.25zM488.6 165h5.25v5.25h-5.25z"/><path fill="#e98c8d" d="M563.6 160h5.25v5.25h-5.25zM653.6 160h5.25v5.25h-5.25zM553.6 170h5.25v5.25h-5.25zM668.6 175h2.85v5.25h-2.85zM668.6 180h2.85v5.25h-2.85zM668.6 185h2.85v5.25h-2.85zM568.6 205h5.25v5.25h-5.25zM578.6 210h5.25v5.25h-5.25zM633.6 210h5.25v5.25h-5.25z"/><path fill="#e05d5e" d="M593.6 160h5.25v5.25h-5.25zM598.6 160h5.25v5.25h-5.25zM608.6 160h5.25v5.25h-5.25zM613.6 160h5.25v5.25h-5.25zM578.6 165h5.25v5.25h-5.25zM568.6 175h5.25v5.25h-5.25zM648.6 180h5.25v5.25h-5.25zM648.6 185h5.25v5.25h-5.25zM573.6 195h5.25v5.25h-5.25zM638.6 195h5.25v5.25h-5.25zM598.6 205h5.25v5.25h-5.25zM603.6 205h5.25v5.25h-5.25zM608.6 205h5.25v5.25h-5.25z"/><path fill="#e36e6f" d="M628.6 160h5.25v5.25h-5.25zM643.6 165h5.25v5.25h-5.25zM563.6 190h5.25v5.25h-5.25zM573.6 200h5.25v5.25h-5.25zM638.6 200h5.25v5.25h-5.25zM583.6 205h5.25v5.25h-5.25z"/><path fill="#f4f5f8" d="M428.6 165h5.25v5.25h-5.25z"/><path fill="#edeef3" d="M433.6 165h5.25v5.25h-5.25z"/><path fill="#e9e9ee" d="M438.6 165h5.25v5.25h-5.25z"/><path fill="#e2e2e9" d="M443.6 165h5.25v5.25h-5.25z"/><path fill="#d8d9e2" d="M448.6 165h5.25v5.25h-5.25z"/><path fill="#d2cfda" d="M453.6 165h5.25v5.25h-5.25z"/><path fill="#cfcdd9" d="M458.6 165h5.25v5.25h-5.25z"/><path fill="#d5ced8" d="M463.6 165h5.25v5.25h-5.25z"/><path fill="#ded0d8" d="M468.6 165h5.25v5.25h-5.25z"/><path fill="#e7d2d7" d="M473.6 165h5.25v5.25h-5.25z"/><path fill="#efd5d7" d="M478.6 165h5.25v5.25h-5.25z"/><path fill="#f2d3d5" d="M483.6 165h5.25v5.25h-5.25z"/><path fill="#da3f40" d="M603.6 165h5.25v5.25h-5.25zM578.6 175h5.25v5.25h-5.25z"/><path fill="#f4f9fb" d="M428.6 170h5.25v5.25h-5.25zM433.6 185h5.25v5.25h-5.25zM453.6 205h5.25v5.25h-5.25zM463.6 210h5.25v5.25h-5.25zM468.6 210h5.25v5.25h-5.25zM488.6 215h5.25v5.25h-5.25zM493.6 215h5.25v5.25h-5.25zM498.6 215h5.25v5.25h-5.25zM503.6 215h5.25v5.25h-5.25zM508.6 215h5.25v5.25h-5.25z"/><path fill="#edf1f6" d="M433.6 170h5.25v5.25h-5.25z"/><path fill="#e3ebf2" d="M438.6 170h5.25v5.25h-5.25zM438.6 175h5.25v5.25h-5.25z"/><path fill="#d8e2ec" d="M443.6 170h5.25v5.25h-5.25z"/><path fill="#ced9e5" d="M448.6 170h5.25v5.25h-5.25z"/><path fill="#c5cddc" d="M453.6 170h5.25v5.25h-5.25z"/><path fill="#bcc4d6" d="M458.6 170h5.25v5.25h-5.25z"/><path fill="#b6bed1" d="M463.6 170h5.25v5.25h-5.25z"/><path fill="#b0b7cc" d="M468.6 170h5.25v5.25h-5.25z"/><path fill="#babacc" d="M473.6 170h5.25v5.25h-5.25z"/><path fill="#c6bfcd" d="M478.6 170h5.25v5.25h-5.25z"/><path fill="#d2c3cd" d="M483.6 170h5.25v5.25h-5.25z"/><path fill="#dec7ce" d="M488.6 170h5.25v5.25h-5.25zM523.6 205h5.25v5.25h-5.25z"/><path fill="#e6c9ce" d="M493.6 170h5.25v5.25h-5.25z"/><path fill="#eecbcd" d="M498.6 170h5.25v5.25h-5.25z"/><path fill="#f3cecf" d="M503.6 170h5.25v5.25h-5.25z"/><path fill="#d93839" d="M588.6 170h5.25v5.25h-5.25zM628.6 175h5.25v5.25h-5.25zM578.6 180h5.25v5.25h-5.25zM578.6 185h5.25v5.25h-5.25zM628.6 190h5.25v5.25h-5.25zM588.6 195h5.25v5.25h-5.25z"/><path fill="#d93435" d="M618.6 170h5.25v5.25h-5.25zM583.6 190h5.25v5.25h-5.25zM618.6 195h5.25v5.25h-5.25z"/><path fill="#f8fbfd" d="M428.6 175h5.25v5.25h-5.25zM438.6 195h5.25v5.25h-5.25zM443.6 200h5.25v5.25h-5.25zM448.6 205h5.25v5.25h-5.25zM458.6 210h5.25v5.25h-5.25zM468.6 215h5.25v5.25h-5.25zM473.6 215h5.25v5.25h-5.25zM478.6 215h5.25v5.25h-5.25zM483.6 215h5.25v5.25h-5.25z"/><path fill="#eef4f9" d="M433.6 175h5.25v5.25h-5.25zM453.6 200h5.25v5.25h-5.25zM463.6 205h5.25v5.25h-5.25zM478.6 210h5.25v5.25h-5.25zM483.6 210h5.25v5.25h-5.25z"/><path fill="#d8e5ef" d="M443.6 175h5.25v5.25h-5.25z"/><path fill="#cbd9e7" d="M448.6 175h5.25v5.25h-5.25z"/><path fill="#bacfe2" d="M453.6 175h5.25v5.25h-5.25z"/><path fill="#aec2d7" d="M458.6 175h5.25v5.25h-5.25z"/><path fill="#a1b7d0" d="M463.6 175h5.25v5.25h-5.25z"/><path fill="#99afca" d="M468.6 175h5.25v5.25h-5.25z"/><path fill="#98a8c3" d="M473.6 175h5.25v5.25h-5.25z"/><path fill="#99a6c1" d="M478.6 175h5.25v5.25h-5.25z"/><path fill="#9da6bf" d="M483.6 175h5.25v5.25h-5.25z"/><path fill="#a7a9bf" d="M488.6 175h5.25v5.25h-5.25z"/><path fill="#b9b1c2" d="M493.6 175h5.25v5.25h-5.25z"/><path fill="#cdbac5" d="M498.6 175h5.25v5.25h-5.25z"/><path fill="#ddc1c8" d="M503.6 175h5.25v5.25h-5.25z"/><path fill="#ebc6c9" d="M508.6 175h5.25v5.25h-5.25z"/><path fill="#f2c7c8" d="M513.6 175h5.25v5.25h-5.25z"/><path fill="#f1f6fa" d="M433.6 180h5.25v5.25h-5.25zM438.6 190h5.25v5.25h-5.25zM443.6 195h5.25v5.25h-5.25zM448.6 200h5.25v5.25h-5.25zM458.6 205h5.25v5.25h-5.25zM473.6 210h5.25v5.25h-5.25z"/><path fill="#e6f0f7" d="M438.6 180h5.25v5.25h-5.25zM458.6 200h5.25v5.25h-5.25zM473.6 205h5.25v5.25h-5.25zM503.6 210h5.25v5.25h-5.25z"/><path fill="#dceaf3" d="M443.6 180h5.25v5.25h-5.25zM483.6 205h5.25v5.25h-5.25z"/><path fill="#cbdcea" d="M448.6 180h5.25v5.25h-5.25z"/><path fill="#bdd4e6" d="M453.6 180h5.25v5.25h-5.25z"/><path fill="#a9c5dc" d="M458.6 180h5.25v5.25h-5.25z"/><path fill="#99b8d3" d="M463.6 180h5.25v5.25h-5.25z"/><path fill="#8daecc" d="M468.6 180h5.25v5.25h-5.25z"/><path fill="#84a6c6" d="M473.6 180h5.25v5.25h-5.25z"/><path fill="#7fa0c1" d="M478.6 180h5.25v5.25h-5.25z"/><path fill="#829bbc" d="M483.6 180h5.25v5.25h-5.25z"/><path fill="#8a9dbc" d="M488.6 180h5.25v5.25h-5.25z"/><path fill="#94a0bc" d="M493.6 180h5.25v5.25h-5.25z"/><path fill="#a5a4bb" d="M498.6 180h5.25v5.25h-5.25z"/><path fill="#b4aabd" d="M503.6 180h5.25v5.25h-5.25z"/><path fill="#cab5c1" d="M508.6 180h5.25v5.25h-5.25z"/><path fill="#e0bcc2" d="M513.6 180h5.25v5.25h-5.25z"/><path fill="#ecc1c3" d="M518.6 180h5.25v5.25h-5.25z"/><path fill="#eaf2f8" d="M438.6 185h5.25v5.25h-5.25zM443.6 190h5.25v5.25h-5.25zM448.6 195h5.25v5.25h-5.25zM468.6 205h5.25v5.25h-5.25zM488.6 210h5.25v5.25h-5.25zM493.6 210h5.25v5.25h-5.25zM498.6 210h5.25v5.25h-5.25z"/><path fill="#e3eef6" d="M443.6 185h5.25v5.25h-5.25zM453.6 195h5.25v5.25h-5.25z"/><path fill="#d5e6f1" d="M448.6 185h5.25v5.25h-5.25zM453.6 190h5.25v5.25h-5.25zM493.6 205h5.25v5.25h-5.25z"/><path fill="#c4dbeb" d="M453.6 185h5.25v5.25h-5.25z"/><path fill="#b3cee2" d="M458.6 185h5.25v5.25h-5.25z"/><path fill="#a1c3dc" d="M463.6 185h5.25v5.25h-5.25z"/><path fill="#91b6d4" d="M468.6 185h5.25v5.25h-5.25z"/><path fill="#80acce" d="M473.6 185h5.25v5.25h-5.25zM483.6 190h5.25v5.25h-5.25z"/><path fill="#78a4c8" d="M478.6 185h5.25v5.25h-5.25z"/><path fill="#76a0c5" d="M483.6 185h5.25v5.25h-5.25z"/><path fill="#789ec2" d="M488.6 185h5.25v5.25h-5.25z"/><path fill="#819ebf" d="M493.6 185h5.25v5.25h-5.25z"/><path fill="#90a1be" d="M498.6 185h5.25v5.25h-5.25z"/><path fill="#9ea3bc" d="M503.6 185h5.25v5.25h-5.25z"/><path fill="#b1a9bc" d="M508.6 185h5.25v5.25h-5.25z"/><path fill="#c2adbc" d="M513.6 185h5.25v5.25h-5.25z"/><path fill="#dab6bd" d="M518.6 185h5.25v5.25h-5.25z"/><path fill="#ebbabd" d="M523.6 185h5.25v5.25h-5.25zM533.6 200h5.25v5.25h-5.25z"/><path fill="#efb7b8" d="M528.6 185h5.25v5.25h-5.25z"/><path fill="#e0ecf4" d="M448.6 190h5.25v5.25h-5.25zM463.6 200h5.25v5.25h-5.25zM478.6 205h5.25v5.25h-5.25z"/><path fill="#c7ddec" d="M458.6 190h5.25v5.25h-5.25zM478.6 200h5.25v5.25h-5.25z"/><path fill="#b6d2e6" d="M463.6 190h5.25v5.25h-5.25zM493.6 200h5.25v5.25h-5.25z"/><path fill="#a5c5de" d="M468.6 190h5.25v5.25h-5.25z"/><path fill="#97bdd9" d="M473.6 190h5.25v5.25h-5.25zM488.6 195h5.25v5.25h-5.25z"/><path fill="#89b5d4" d="M478.6 190h5.25v5.25h-5.25z"/><path fill="#7daacd" d="M488.6 190h5.25v5.25h-5.25z"/><path fill="#7ea8ca" d="M493.6 190h5.25v5.25h-5.25z"/><path fill="#88a8c7" d="M498.6 190h5.25v5.25h-5.25z"/><path fill="#97abc6" d="M503.6 190h5.25v5.25h-5.25z"/><path fill="#a6abc2" d="M508.6 190h5.25v5.25h-5.25z"/><path fill="#b7aabb" d="M513.6 190h5.25v5.25h-5.25z"/><path fill="#c6acb9" d="M518.6 190h5.25v5.25h-5.25z"/><path fill="#dab3ba" d="M523.6 190h5.25v5.25h-5.25z"/><path fill="#ebb7b9" d="M528.6 190h5.25v5.25h-5.25z"/><path fill="#d8e8f2" d="M458.6 195h5.25v5.25h-5.25zM468.6 200h5.25v5.25h-5.25zM488.6 205h5.25v5.25h-5.25z"/><path fill="#cee1ef" d="M463.6 195h5.25v5.25h-5.25z"/><path fill="#c0d9ea" d="M468.6 195h5.25v5.25h-5.25zM483.6 200h5.25v5.25h-5.25z"/><path fill="#b2d0e5" d="M473.6 195h5.25v5.25h-5.25z"/><path fill="#a8cae2" d="M478.6 195h5.25v5.25h-5.25z"/><path fill="#9dc4de" d="M483.6 195h5.25v5.25h-5.25z"/><path fill="#94bbd8" d="M493.6 195h5.25v5.25h-5.25z"/><path fill="#98bad6" d="M498.6 195h5.25v5.25h-5.25z"/><path fill="#9cbad5" d="M503.6 195h5.25v5.25h-5.25z"/><path fill="#a9b9cf" d="M508.6 195h5.25v5.25h-5.25z"/><path fill="#b8b6c8" d="M513.6 195h5.25v5.25h-5.25z"/><path fill="#c5b2bf" d="M518.6 195h5.25v5.25h-5.25z"/><path fill="#d0b3bd" d="M523.6 195h5.25v5.25h-5.25z"/><path fill="#e2b8bd" d="M528.6 195h5.25v5.25h-5.25z"/><path fill="#edb9ba" d="M533.6 195h5.25v5.25h-5.25z"/><path fill="#d2e3f0" d="M473.6 200h5.25v5.25h-5.25zM498.6 205h5.25v5.25h-5.25zM503.6 205h5.25v5.25h-5.25z"/><path fill="#b9d4e8" d="M488.6 200h5.25v5.25h-5.25z"/><path fill="#b6d0e3" d="M498.6 200h5.25v5.25h-5.25zM503.6 200h5.25v5.25h-5.25z"/><path fill="#baccdf" d="M508.6 200h5.25v5.25h-5.25z"/><path fill="#c2c8d8" d="M513.6 200h5.25v5.25h-5.25z"/><path fill="#ccc2cf" d="M518.6 200h5.25v5.25h-5.25z"/><path fill="#d2bac4" d="M523.6 200h5.25v5.25h-5.25z"/><path fill="#ddb8be" d="M528.6 200h5.25v5.25h-5.25z"/><path fill="#d2e0ed" d="M508.6 205h5.25v5.25h-5.25z"/><path fill="#d5dde8" d="M513.6 205h5.25v5.25h-5.25z"/><path fill="#d8d3dc" d="M518.6 205h5.25v5.25h-5.25z"/><path fill="#e3c1c6" d="M528.6 205h5.25v5.25h-5.25z"/><path fill="#edc4c7" d="M533.6 205h5.25v5.25h-5.25z"/><path fill="#e6edf4" d="M508.6 210h5.25v5.25h-5.25z"/><path fill="#e6eaf0" d="M513.6 210h5.25v5.25h-5.25z"/><path fill="#e8e2e8" d="M518.6 210h5.25v5.25h-5.25z"/><path fill="#ead4d8" d="M523.6 210h5.25v5.25h-5.25z"/><path fill="#e9cbcf" d="M528.6 210h5.25v5.25h-5.25z"/><path fill="#f1ccce" d="M533.6 210h5.25v5.25h-5.25z"/><path fill="#f4f2f5" d="M513.6 215h5.25v5.25h-5.25z"/><path fill="#f3ecee" d="M518.6 215h5.25v5.25h-5.25z"/><path fill="#f1dee1" d="M523.6 215h5.25v5.25h-5.25z"/><path fill="#f2d6d8" d="M528.6 215h5.25v5.25h-5.25z"/><path fill="#f4d5d6" d="M533.6 215h5.25v5.25h-5.25z"/><path fill="#faf3f4" d="M518.6 220h5.25v5.25h-5.25z"/><path fill="#f8e9ea" d="M523.6 220h5.25v5.25h-5.25z"/><path fill="#f6dbdc" d="M533.6 220h5.25v5.25h-5.25z"/><path d="M673 152C670.5 152.1 662.5 152.7 658.1 152.6C653.7 152.5 651.2 152.2 646.7 151.7C642.2 151.2 636.5 150.6 631.4 149.8C626.3 149 621.9 147.9 616.2 146.9C610.5 145.9 603.5 145 597.1 144C590.8 143 584.5 141.8 578.1 140.8C571.8 139.9 564.6 139.2 559 138.3C553.4 137.4 550.1 136.6 544.5 135.5C538.9 134.4 531.9 132.8 525.5 131.7C519.1 130.6 512.8 129.9 506.4 129.2C500 128.5 493.4 127.9 487.4 127.3C481.4 126.7 475.3 125.5 470.2 125.4C465.1 125.3 460.5 125.8 456.9 126.5C453.2 127.2 451 128.2 448.3 129.8C445.6 131.5 443.1 133.4 440.7 136.4C438.3 139.4 435.7 143.6 434 147.9C432.3 152.2 430.8 158.3 430.6 162.1C430.5 165.9 432.1 167.4 433.1 170.7C434.2 174 435.1 178.3 436.9 182.1C438.6 185.9 441.2 189.8 443.6 193.6C446 197.4 448.5 201.8 451.2 205C453.9 208.2 457.3 211.1 459.8 213.1C462.3 215.1 462.8 215.8 466.4 216.9C470 218 476.9 218.6 481.7 219.8C486.5 221 489.6 222.5 495 224C500.4 225.5 508.3 227.7 514 228.7C519.7 229.7 524.2 229.5 529.3 230.2C534.4 230.9 539.5 232.4 544.5 233.1C549.5 233.8 553.4 234.6 559 234.6C564.6 234.6 571.8 233.2 578.1 233.1C584.5 232.9 590.8 234 597.1 233.7C603.5 233.4 609.9 232.1 616.2 231.2C622.6 230.3 628.9 229.1 635.2 228.3C641.6 227.5 648 227.1 654.3 226.4C660.6 225.7 669.9 224.7 673 224.3" fill="none" stroke="#1f77b4" stroke-width="1.5" stroke-linejoin="round" stroke-linecap="round"/><path d="M673 153.7C671.5 153.6 666.9 153.8 663.8 153.2C660.7 152.5 658.4 151.3 654.3 149.8C650.2 148.3 644.1 145.6 639 144C633.9 142.4 628.9 141.1 623.8 140.2C618.7 139.3 613.7 138.9 608.6 138.7C603.5 138.4 598.4 138.4 593.3 138.7C588.2 138.9 582.9 139.5 578.1 140.2C573.4 140.9 569.2 142 564.8 143.1C560.3 144.2 554.9 146 551.4 146.9C547.9 147.8 546.4 148 544 148.3C541.6 148.6 539.7 149 536.9 148.8C534.1 148.6 530.6 148.3 527.4 146.9C524.2 145.5 521.7 142.9 517.9 140.2C514.1 137.5 508.9 133.7 504.5 130.7C500.1 127.7 495.6 124.5 491.2 122.1C486.8 119.7 482 117.8 477.9 116.4C473.8 115 470.5 114.1 466.4 113.6C462.3 113.1 456.3 112.9 453.1 113.2C449.9 113.5 449.5 113.8 447.4 115.5C445.3 117.2 442.3 120.2 440.7 123.1C439.1 125.9 438 129.4 437.5 132.6C437 135.8 437.4 138.9 437.9 142.1C438.4 145.3 439.4 148.8 440.7 151.7C442 154.6 443.1 157.1 445.5 159.3C447.9 161.5 450.6 163.2 455 165C459.4 166.8 466.7 169.2 472.1 170.3C477.5 171.4 482.6 170.8 487.4 171.7C492.2 172.6 496.6 174.1 500.7 175.5C504.8 176.9 508.8 177.8 512.1 180.2C515.4 182.6 518.5 186.3 520.7 189.8C522.9 193.3 524.2 198.4 525.5 201.2C526.8 204 527.2 203.3 528.3 206.4C529.4 209.5 530.5 215.7 532.1 219.8C533.7 223.9 535.5 227.4 537.9 231.2C540.3 235 543.5 239.4 546.4 242.6C549.3 245.8 552.1 248.1 555.2 250.2C558.3 252.3 561 253.7 564.8 255C568.6 256.3 574 257.3 578.1 257.9C582.2 258.5 585.4 259.1 589.5 258.8C593.6 258.5 598.4 257.7 602.9 256.3C607.4 254.9 611.8 252.3 616.2 250.2C620.6 248.1 625.4 246 629.5 243.6C633.6 241.2 637.2 238.6 641 236C644.8 233.4 648.6 229.7 652.4 227.8C656.2 225.9 660.4 225.2 663.8 224.5C667.2 223.8 671.5 223.7 673 223.5" fill="none" stroke="#ff7f0e" stroke-width="1.5" stroke-linejoin="round" stroke-linecap="round"/><path d="M673 139.2C671.1 139.3 666.6 140 661.9 139.7C657.2 139.4 650.8 138.2 644.8 137.4C638.8 136.6 632.1 135.4 625.7 134.9C619.4 134.4 613.1 134.7 606.7 134.5C600.4 134.3 594 133.4 587.6 133.6C581.2 133.8 574 135.7 568.6 135.5C563.2 135.3 560.2 133.9 555.2 132.6C550.2 131.3 544.1 130 538.8 127.9C533.5 125.8 528.4 122.3 523.6 120.2C518.8 118.1 514.6 117.2 510.2 115.5C505.8 113.8 501.3 111.7 496.9 109.8C492.5 107.9 487.4 105.6 483.6 104C479.8 102.4 477.2 100.7 474 100.2C470.8 99.7 468 100.2 464.5 101.2C461 102.2 456.1 103.9 453.1 106C450.1 108.1 448 111.1 446.4 113.6C444.8 116.1 444.3 118.8 443.5 121C442.7 123.2 443.3 125 441.7 126.9C440.1 128.8 436 131.2 434 132.6C432 134 430.4 134.4 429.5 135.5C428.6 136.6 428.3 137.9 428.3 139C428.3 140.1 428.6 141.6 429.5 142C430.4 142.4 432.4 140.5 434 141.2C435.6 141.9 437.7 143.6 438.8 146C439.9 148.4 439.6 153 440.7 155.5C441.8 158 442.8 159.3 445.5 161.2C448.2 163.1 452.8 165 456.9 166.9C461 168.8 466.4 171.1 470.2 172.6C474 174.1 475.7 174.9 479.8 176C483.9 177.1 489.9 177.8 495 179.3C500.1 180.8 505.8 182.6 510.2 185C514.6 187.4 518.8 191.3 521.7 193.6C524.6 195.9 525.7 196.9 527.4 199C529.1 201.1 530.7 202.9 532.1 206.4C533.5 209.9 534.6 215.4 536 219.8C537.4 224.2 539 228.8 540.7 233.1C542.4 237.4 544.3 242.2 546.4 245.5C548.5 248.8 550.5 251 553.3 253.1C556 255.2 558.8 257.1 562.9 258.2C567 259.2 573.4 259.7 578.1 259.4C582.9 259.1 587 257.5 591.4 256.3C595.8 255.1 600.3 253.7 604.8 252.1C609.2 250.5 613.7 248.2 618.1 246.8C622.5 245.4 626.6 245.2 631.4 243.6C636.2 241.9 642.2 238.7 646.7 236.9C651.2 235.1 653.7 233.7 658.1 232.7C662.5 231.7 670.5 231.3 673 231" fill="none" stroke="#2ca02c" stroke-width="1.5" stroke-linejoin="round" stroke-linecap="round"/><path d="M673 136.8C669.9 136.7 660.6 136.6 654.3 136.4C648 136.2 641.6 135.9 635.2 135.5C628.9 135.1 622.6 134.1 616.2 134.1C609.9 134.1 603.5 135.1 597.1 135.5C590.8 135.9 584.5 136.7 578.1 136.8C571.8 136.9 564.2 136.6 559 136C553.8 135.4 550.7 134.5 547 133.5C543.3 132.5 541.1 131.7 536.9 129.8C532.7 127.9 526.5 124.2 521.7 122.1C516.9 120 512.8 119.3 508.3 117.4C503.9 115.5 499.4 112.9 495 110.7C490.6 108.5 485.8 105.5 481.7 104C477.6 102.5 474 102 470.2 101.8C466.4 101.5 462 101.5 458.8 102.5C455.6 103.5 453.3 105.4 451.2 107.9C449.1 110.4 447.4 113.9 446.4 117.4C445.4 120.9 445.1 124.7 445.1 128.8C445.1 132.9 445.7 138.3 446.4 142.1C447.1 145.9 447.7 148.5 449.3 151.7C450.9 154.9 453.1 158.5 456 161.2C458.9 163.9 462.4 165.8 466.4 167.9C470.4 170 475 172 479.8 173.6C484.6 175.2 490.2 176.3 495 177.4C499.8 178.5 504.2 178.4 508.3 180.2C512.4 181.9 517.1 185.4 519.8 187.9C522.5 190.4 522.9 192.2 524.5 195C526.1 197.8 528.1 200.7 529.3 204.5C530.5 208.3 530.8 213.5 531.6 217.9C532.4 222.3 533.1 228.2 534 231.2C534.9 234.2 535.1 234.2 536.9 236C538.6 237.8 542.4 239.8 544.5 241.7C546.6 243.6 546.8 245.3 549.5 247.4C552.2 249.5 556.9 252.7 561 254.4C565.1 256.1 569.9 256.4 574.3 257.5C578.7 258.6 584.1 260.8 587.6 261.1C591.1 261.4 592 260.4 595.2 259.4C598.4 258.4 602.6 256.4 606.7 255C610.8 253.6 615.9 252.8 620 251.2C624.1 249.6 626.9 247.2 631.4 245.5C635.9 243.8 641.9 242.2 646.7 240.7C651.5 239.2 655.6 237.5 660 236.5C664.4 235.5 670.8 235.1 673 234.8" fill="none" stroke="#d62728" stroke-width="1.5" stroke-linejoin="round" stroke-linecap="round"/></g><polygon points="487.4,147.7 488.7,151.5 492.7,151.6 489.5,154 490.7,157.8 487.4,155.5 484.1,157.8 485.3,154 482.1,151.6 486.1,151.5" fill="#1f77b4" stroke="#111" stroke-width="0.7" stroke-linejoin="miter"/><polygon points="597.7,204.3 599,208.1 603,208.2 599.8,210.6 601,214.4 597.7,212.1 594.4,214.4 595.6,210.6 592.4,208.2 596.4,208.1" fill="#ff7f0e" stroke="#111" stroke-width="0.7" stroke-linejoin="miter"/><polygon points="664.9,153 666.2,156.8 670.2,156.9 667,159.3 668.2,163.1 664.9,160.8 661.6,163.1 662.8,159.3 659.6,156.9 663.6,156.8" fill="#2ca02c" stroke="#111" stroke-width="0.7" stroke-linejoin="miter"/><polygon points="641.5,171.5 642.8,175.3 646.8,175.4 643.6,177.8 644.8,181.6 641.5,179.3 638.2,181.6 639.4,177.8 636.2,175.4 640.2,175.3" fill="#d62728" stroke="#111" stroke-width="0.7" stroke-linejoin="miter"/><rect x="422.1" y="7.7" width="249.1" height="60.3" fill="none" stroke="#929292" stroke-width="1"/><rect x="671.2" y="68" width="61.9" height="242.5" fill="none" stroke="#929292" stroke-width="1"/><rect x="422.1" y="68" width="249.1" height="242.5" fill="none" stroke="#929292" stroke-width="1"/><g clip-path="url(#c2t)"><path d="M455 7.7V68" stroke="#1f77b4" stroke-width="1.0" stroke-dasharray="3.2 1.4" fill="none"/><path d="M463 7.7V68" stroke="#ff7f0e" stroke-width="1.0" stroke-dasharray="3.2 1.4" fill="none"/><path d="M457.5 7.7V68" stroke="#2ca02c" stroke-width="1.0" stroke-dasharray="3.2 1.4" fill="none"/><path d="M466.2 7.7V68" stroke="#d62728" stroke-width="1.0" stroke-dasharray="3.2 1.4" fill="none"/><path d="M649.6 7.7V68" stroke="#1f77b4" stroke-width="1.0" stroke-dasharray="3.2 1.4" fill="none"/><path d="M650.4 7.7V68" stroke="#ff7f0e" stroke-width="1.0" stroke-dasharray="3.2 1.4" fill="none"/><path d="M658 7.7V68" stroke="#2ca02c" stroke-width="1.0" stroke-dasharray="3.2 1.4" fill="none"/><path d="M658.6 7.7V68" stroke="#d62728" stroke-width="1.0" stroke-dasharray="3.2 1.4" fill="none"/><path d="M422.1 68V67.6H425V66.9H427.9V66H430.8V64.6H433.7V62.9H436.6V61.5H439.5V59.5H442.4V58H445.3V56H448.2V53.5H451.1V51.1H454V48.3H456.9V47H459.8V45.2H462.7V43H465.5V42.1H468.4V40.3H471.3V39.3H474.2V38.6H477.1V37.7H480V37.7H482.9V37.4H485.8V36.6H488.7V36.4H491.6V36H494.5V35.8H497.4V36.3H500.3V36H503.2V35.3H506.1V35.6H509V35.4H511.9V35.8H514.8V35.6H517.7V35.5H520.6V35.6H523.5V36.1H526.4V36.4H529.3V35.9H532.2V36H535.1V36.9H538V36.5H540.9V37.1H543.8V37.3H546.7V38H549.5V38.2H552.4V38.8H555.3V39.7H558.2V40.2H561.1V40.6H564V41H566.9V41.6H569.8V42H572.7V42.3H575.6V43.1H578.5V43.8H581.4V43.6H584.3V44H587.2V45.1H590.1V45.1H593V45.9H595.9V46.4H598.8V47H601.7V47H604.6V47.5H607.5V48.5H610.4V49H613.3V49.5H616.2V50.2H619.1V50.5H622V51.3H624.9V51H627.8V51.8H630.6V52.3H633.5V51.9H636.4V52.5H639.3V52.5H642.2V52.8H645.1V52.6H648V52.8H650.9V53.8H653.8V53.8H656.7V54.2H659.6V54.6H662.5V54.5H665.4V54.6H668.3V54.5H671.2V68" fill="#1f77b4" fill-opacity="0.2"/><path d="M422.1 68V67.8H425V67.5H427.9V67.1H430.8V66.5H433.7V65.5H436.6V65.2H439.5V64.5H442.4V62.5H445.3V61.3H448.2V58.4H451.1V56.6H454V55H456.9V53.9H459.8V53.1H462.7V51.8H465.5V52.3H468.4V52.5H471.3V52.6H474.2V53.6H477.1V53.8H480V55.1H482.9V55H485.8V55.7H488.7V56.3H491.6V57H494.5V58H497.4V58.3H500.3V59.1H503.2V58.9H506.1V59.7H509V60H511.9V59.7H514.8V59.6H517.7V59.9H520.6V59H523.5V58.8H526.4V57.8H529.3V57H532.2V55.6H535.1V54.5H538V53.2H540.9V52.3H543.8V50H546.7V49H549.5V46.2H552.4V43.6H555.3V40.3H558.2V35.9H561.1V32.3H564V28.9H566.9V26.3H569.8V24.4H572.7V21.7H575.6V18.7H578.5V17H581.4V15.1H584.3V13.8H587.2V13.6H590.1V13.1H593V12.8H595.9V13.8H598.8V14.9H601.7V15.4H604.6V17.2H607.5V19.5H610.4V21.7H613.3V24.2H616.2V26.7H619.1V29.8H622V32.2H624.9V34.8H627.8V37.4H630.6V40.1H633.5V43.2H636.4V44.9H639.3V47.6H642.2V48.4H645.1V50.2H648V50.7H650.9V52.3H653.8V53H656.7V54H659.6V54.7H662.5V54.8H665.4V55.6H668.3V56.2H671.2V68" fill="#ff7f0e" fill-opacity="0.2"/><path d="M422.1 68V67.1H425V64H427.9V61H430.8V61.7H433.7V63.4H436.6V63.9H439.5V63.4H442.4V62.3H445.3V59.7H448.2V57.4H451.1V54.3H454V52H456.9V49.2H459.8V47.5H462.7V44.7H465.5V42.9H468.4V41H471.3V40.1H474.2V39.3H477.1V39.5H480V41H482.9V42.3H485.8V44.3H488.7V46.8H491.6V47.2H494.5V48.1H497.4V49.4H500.3V50.2H503.2V49.7H506.1V50.9H509V51.4H511.9V51.2H514.8V52.2H517.7V52.3H520.6V52.4H523.5V52.9H526.4V51.5H529.3V51H532.2V50.8H535.1V49.6H538V48.6H540.9V48.1H543.8V47.2H546.7V45.5H549.5V44.5H552.4V43H555.3V41.9H558.2V41.2H561.1V40.8H564V39.5H566.9V39.6H569.8V38.7H572.7V37.4H575.6V36.4H578.5V35.7H581.4V35H584.3V35.2H587.2V34.5H590.1V33.8H593V34.1H595.9V34.3H598.8V34.1H601.7V35.1H604.6V35H607.5V35H610.4V35.4H613.3V36H616.2V36.7H619.1V37.4H622V37.9H624.9V38.2H627.8V38.3H630.6V39.6H633.5V39.6H636.4V40H639.3V41.3H642.2V41.3H645.1V42.1H648V43.3H650.9V44H653.8V45.2H656.7V45.3H659.6V45.6H662.5V46.8H665.4V46.8H668.3V47.3H671.2V68" fill="#2ca02c" fill-opacity="0.2"/><path d="M422.1 68V67.8H425V67.5H427.9V67.2H430.8V66.5H433.7V65.9H436.6V65.6H439.5V64.7H442.4V63.3H445.3V61.5H448.2V59H451.1V57.2H454V54.9H456.9V53.7H459.8V52.1H462.7V51.8H465.5V50.4H468.4V50H471.3V48.3H474.2V47.6H477.1V46.6H480V46.2H482.9V45.7H485.8V46.6H488.7V47.5H491.6V48.4H494.5V48.6H497.4V49.7H500.3V50.3H503.2V50.5H506.1V51.2H509V52.4H511.9V52.2H514.8V53.3H517.7V52.8H520.6V53.2H523.5V52.8H526.4V51.9H529.3V52H532.2V50.8H535.1V49.8H538V49.1H540.9V48.3H543.8V46.6H546.7V45H549.5V44.2H552.4V43.8H555.3V42H558.2V40.8H561.1V39.3H564V38H566.9V36.1H569.8V35H572.7V33.9H575.6V32.9H578.5V32.7H581.4V31.2H584.3V30.7H587.2V30.7H590.1V30.5H593V30.6H595.9V30.4H598.8V30.3H601.7V30H604.6V30.6H607.5V30.5H610.4V30.9H613.3V31.6H616.2V32H619.1V32.9H622V33.1H624.9V34.4H627.8V35.4H630.6V36.8H633.5V38.1H636.4V39.1H639.3V39.4H642.2V40.2H645.1V40.9H648V41.1H650.9V42.2H653.8V42.4H656.7V42.8H659.6V44.4H662.5V44.1H665.4V45.4H668.3V45.8H671.2V68" fill="#d62728" fill-opacity="0.2"/><path d="M422.1 68V67.6H425V66.9H427.9V66H430.8V64.6H433.7V62.9H436.6V61.5H439.5V59.5H442.4V58H445.3V56H448.2V53.5H451.1V51.1H454V48.3H456.9V47H459.8V45.2H462.7V43H465.5V42.1H468.4V40.3H471.3V39.3H474.2V38.6H477.1V37.7H480V37.7H482.9V37.4H485.8V36.6H488.7V36.4H491.6V36H494.5V35.8H497.4V36.3H500.3V36H503.2V35.3H506.1V35.6H509V35.4H511.9V35.8H514.8V35.6H517.7V35.5H520.6V35.6H523.5V36.1H526.4V36.4H529.3V35.9H532.2V36H535.1V36.9H538V36.5H540.9V37.1H543.8V37.3H546.7V38H549.5V38.2H552.4V38.8H555.3V39.7H558.2V40.2H561.1V40.6H564V41H566.9V41.6H569.8V42H572.7V42.3H575.6V43.1H578.5V43.8H581.4V43.6H584.3V44H587.2V45.1H590.1V45.1H593V45.9H595.9V46.4H598.8V47H601.7V47H604.6V47.5H607.5V48.5H610.4V49H613.3V49.5H616.2V50.2H619.1V50.5H622V51.3H624.9V51H627.8V51.8H630.6V52.3H633.5V51.9H636.4V52.5H639.3V52.5H642.2V52.8H645.1V52.6H648V52.8H650.9V53.8H653.8V53.8H656.7V54.2H659.6V54.6H662.5V54.5H665.4V54.6H668.3V54.5H671.2V68" fill="none" stroke="#1f77b4" stroke-width="1.45" stroke-linejoin="miter"/><path d="M422.1 68V67.8H425V67.5H427.9V67.1H430.8V66.5H433.7V65.5H436.6V65.2H439.5V64.5H442.4V62.5H445.3V61.3H448.2V58.4H451.1V56.6H454V55H456.9V53.9H459.8V53.1H462.7V51.8H465.5V52.3H468.4V52.5H471.3V52.6H474.2V53.6H477.1V53.8H480V55.1H482.9V55H485.8V55.7H488.7V56.3H491.6V57H494.5V58H497.4V58.3H500.3V59.1H503.2V58.9H506.1V59.7H509V60H511.9V59.7H514.8V59.6H517.7V59.9H520.6V59H523.5V58.8H526.4V57.8H529.3V57H532.2V55.6H535.1V54.5H538V53.2H540.9V52.3H543.8V50H546.7V49H549.5V46.2H552.4V43.6H555.3V40.3H558.2V35.9H561.1V32.3H564V28.9H566.9V26.3H569.8V24.4H572.7V21.7H575.6V18.7H578.5V17H581.4V15.1H584.3V13.8H587.2V13.6H590.1V13.1H593V12.8H595.9V13.8H598.8V14.9H601.7V15.4H604.6V17.2H607.5V19.5H610.4V21.7H613.3V24.2H616.2V26.7H619.1V29.8H622V32.2H624.9V34.8H627.8V37.4H630.6V40.1H633.5V43.2H636.4V44.9H639.3V47.6H642.2V48.4H645.1V50.2H648V50.7H650.9V52.3H653.8V53H656.7V54H659.6V54.7H662.5V54.8H665.4V55.6H668.3V56.2H671.2V68" fill="none" stroke="#ff7f0e" stroke-width="1.45" stroke-linejoin="miter"/><path d="M422.1 68V67.1H425V64H427.9V61H430.8V61.7H433.7V63.4H436.6V63.9H439.5V63.4H442.4V62.3H445.3V59.7H448.2V57.4H451.1V54.3H454V52H456.9V49.2H459.8V47.5H462.7V44.7H465.5V42.9H468.4V41H471.3V40.1H474.2V39.3H477.1V39.5H480V41H482.9V42.3H485.8V44.3H488.7V46.8H491.6V47.2H494.5V48.1H497.4V49.4H500.3V50.2H503.2V49.7H506.1V50.9H509V51.4H511.9V51.2H514.8V52.2H517.7V52.3H520.6V52.4H523.5V52.9H526.4V51.5H529.3V51H532.2V50.8H535.1V49.6H538V48.6H540.9V48.1H543.8V47.2H546.7V45.5H549.5V44.5H552.4V43H555.3V41.9H558.2V41.2H561.1V40.8H564V39.5H566.9V39.6H569.8V38.7H572.7V37.4H575.6V36.4H578.5V35.7H581.4V35H584.3V35.2H587.2V34.5H590.1V33.8H593V34.1H595.9V34.3H598.8V34.1H601.7V35.1H604.6V35H607.5V35H610.4V35.4H613.3V36H616.2V36.7H619.1V37.4H622V37.9H624.9V38.2H627.8V38.3H630.6V39.6H633.5V39.6H636.4V40H639.3V41.3H642.2V41.3H645.1V42.1H648V43.3H650.9V44H653.8V45.2H656.7V45.3H659.6V45.6H662.5V46.8H665.4V46.8H668.3V47.3H671.2V68" fill="none" stroke="#2ca02c" stroke-width="1.45" stroke-linejoin="miter"/><path d="M422.1 68V67.8H425V67.5H427.9V67.2H430.8V66.5H433.7V65.9H436.6V65.6H439.5V64.7H442.4V63.3H445.3V61.5H448.2V59H451.1V57.2H454V54.9H456.9V53.7H459.8V52.1H462.7V51.8H465.5V50.4H468.4V50H471.3V48.3H474.2V47.6H477.1V46.6H480V46.2H482.9V45.7H485.8V46.6H488.7V47.5H491.6V48.4H494.5V48.6H497.4V49.7H500.3V50.3H503.2V50.5H506.1V51.2H509V52.4H511.9V52.2H514.8V53.3H517.7V52.8H520.6V53.2H523.5V52.8H526.4V51.9H529.3V52H532.2V50.8H535.1V49.8H538V49.1H540.9V48.3H543.8V46.6H546.7V45H549.5V44.2H552.4V43.8H555.3V42H558.2V40.8H561.1V39.3H564V38H566.9V36.1H569.8V35H572.7V33.9H575.6V32.9H578.5V32.7H581.4V31.2H584.3V30.7H587.2V30.7H590.1V30.5H593V30.6H595.9V30.4H598.8V30.3H601.7V30H604.6V30.6H607.5V30.5H610.4V30.9H613.3V31.6H616.2V32H619.1V32.9H622V33.1H624.9V34.4H627.8V35.4H630.6V36.8H633.5V38.1H636.4V39.1H639.3V39.4H642.2V40.2H645.1V40.9H648V41.1H650.9V42.2H653.8V42.4H656.7V42.8H659.6V44.4H662.5V44.1H665.4V45.4H668.3V45.8H671.2V68" fill="none" stroke="#d62728" stroke-width="1.45" stroke-linejoin="miter"/></g><g clip-path="url(#c2r)"><path d="M671.2 139H733.1" stroke="#1f77b4" stroke-width="1.0" stroke-dasharray="3.2 1.4" fill="none"/><path d="M671.2 132.6H733.1" stroke="#ff7f0e" stroke-width="1.0" stroke-dasharray="3.2 1.4" fill="none"/><path d="M671.2 123.1H733.1" stroke="#2ca02c" stroke-width="1.0" stroke-dasharray="3.2 1.4" fill="none"/><path d="M671.2 123.5H733.1" stroke="#d62728" stroke-width="1.0" stroke-dasharray="3.2 1.4" fill="none"/><path d="M671.2 228H733.1" stroke="#1f77b4" stroke-width="1.0" stroke-dasharray="3.2 1.4" fill="none"/><path d="M671.2 240.1H733.1" stroke="#ff7f0e" stroke-width="1.0" stroke-dasharray="3.2 1.4" fill="none"/><path d="M671.2 239.7H733.1" stroke="#2ca02c" stroke-width="1.0" stroke-dasharray="3.2 1.4" fill="none"/><path d="M671.2 241.8H733.1" stroke="#d62728" stroke-width="1.0" stroke-dasharray="3.2 1.4" fill="none"/><path d="M671.2 98.7H671.2V101.4H671.5V104.2H671.7V107H672V109.8H672.4V112.6H673.1V115.4H673.9V118.2H674.7V121H675.4V123.7H676.6V126.5H678.8V129.3H680.4V132.1H682.7V134.9H684.8V137.7H686.9V140.5H688.8V143.3H691.3V146H693.7V148.8H697.1V151.6H701.1V154.4H705.7V157.2H710.2V160H714.1V162.8H716.3V165.6H718.5V168.3H720.4V171.1H720.5V173.9H720.7V176.7H719.2V179.5H717.8V182.3H715.9V185.1H714.6V187.9H712.7V190.6H710.3V193.4H708.2V196.2H705.8V199H703.1V201.8H700.5V204.6H697.7V207.4H694.7V210.2H691.6V212.9H688.9V215.7H686.6V218.5H685V221.3H682.4V224.1H680.8V226.9H678.8V229.7H677.3V232.5H676.7V235.2H675.6V238H674.9V240.8H673.6V243.6H672.8V246.4H672.3V249.2H671.8V252H671.5V254.8H671.2V257.5H671.2" fill="#1f77b4" fill-opacity="0.2"/><path d="M671.2 90.3H671.2V93.1H671.4V95.9H671.7V98.7H671.9V101.4H672.2V104.2H673V107H674.1V109.8H675.4V112.6H676.1V115.4H677.1V118.2H679V121H680V123.7H680.9V126.5H683V129.3H684V132.1H685.4V134.9H686.6V137.7H688.1V140.5H689.1V143.3H690.1V146H691.5V148.8H692.4V151.6H694.2V154.4H695.1V157.2H696.4V160H698.1V162.8H699.9V165.6H702.5V168.3H704.4V171.1H706.3V173.9H707.9V176.7H708.6V179.5H710.1V182.3H710.4V185.1H711.2V187.9H711.1V190.6H710.6V193.4H709.2V196.2H707.8V199H706.1V201.8H704.6V204.6H703.4V207.4H701.3V210.2H698.6V212.9H696.8V215.7H694.6V218.5H692.7V221.3H690.8V224.1H689.1V226.9H687.6V229.7H684.9V232.5H683.2V235.2H681.2V238H680.1V240.8H678.4V243.6H677.4V246.4H675.9V249.2H674.8V252H674.1V254.8H673.5V257.5H672.8V260.3H672.1V263.1H671.7V265.9H671.4V268.7H671.2V271.5H671.2" fill="#ff7f0e" fill-opacity="0.2"/><path d="M671.2 87.5H671.2V90.3H671.4V93.1H671.7V95.9H672V98.7H672.5V101.4H673.4V104.2H674.7V107H676.6V109.8H678.3V112.6H679.6V115.4H681.7V118.2H684.4V121H686.5V123.7H690V126.5H693V129.3H695.8V132.1H698.9V134.9H700.5V137.7H701.6V140.5H702.3V143.3H702.7V146H703.3V148.8H704V151.6H704.2V154.4H704.7V157.2H704.4V160H703.9V162.8H703.5V165.6H703V168.3H703V171.1H702.2V173.9H701.6V176.7H701.7V179.5H701V182.3H700.1V185.1H699.9V187.9H698.8V190.6H697.8V193.4H695.5V196.2H694.5V199H693.8V201.8H692.9V204.6H691.5V207.4H691.3V210.2H690.1V212.9H689.2V215.7H688.3V218.5H687.5V221.3H686.1V224.1H685.8V226.9H684.8V229.7H683.7V232.5H681.7V235.2H680.6V238H679.1V240.8H677.8V243.6H676.7V246.4H675.5V249.2H675.1V252H674V254.8H673.5V257.5H672.9V260.3H672.3V263.1H671.7V265.9H671.3V268.7H671.2" fill="#2ca02c" fill-opacity="0.2"/><path d="M671.2 87.5H671.3V90.3H671.6V93.1H672V95.9H672.6V98.7H673.6V101.4H674.6V104.2H675.5V107H676.7V109.8H677.3V112.6H678.4V115.4H680.4V118.2H682.2V121H683.9V123.7H685.4V126.5H687.9V129.3H690.4V132.1H692.9V134.9H694.9V137.7H695.6V140.5H696.9V143.3H697.7V146H698V148.8H699V151.6H699.9V154.4H700.2V157.2H701.6V160H702V162.8H702.9V165.6H703.2V168.3H704.2V171.1H704.2V173.9H704.3V176.7H704.1V179.5H704.1V182.3H703.3V185.1H702.3V187.9H702V190.6H701.1V193.4H700.3V196.2H699.4V199H697.8V201.8H697.2V204.6H695.8V207.4H694.1V210.2H692.7V212.9H691.5V215.7H690.7V218.5H688.7V221.3H687.3V224.1H685.9V226.9H684.7V229.7H683.7V232.5H681.9V235.2H681.3V238H680.3V240.8H678.5V243.6H678V246.4H676.8V249.2H675.8V252H675V254.8H674.5V257.5H673.8V260.3H673.1V263.1H672.7V265.9H672.1V268.7H671.7V271.5H671.5V274.3H671.4V277.1H671.3V279.8H671.3V282.6H671.2V285.4H671.2" fill="#d62728" fill-opacity="0.2"/><path d="M671.2 98.7H671.2V101.4H671.5V104.2H671.7V107H672V109.8H672.4V112.6H673.1V115.4H673.9V118.2H674.7V121H675.4V123.7H676.6V126.5H678.8V129.3H680.4V132.1H682.7V134.9H684.8V137.7H686.9V140.5H688.8V143.3H691.3V146H693.7V148.8H697.1V151.6H701.1V154.4H705.7V157.2H710.2V160H714.1V162.8H716.3V165.6H718.5V168.3H720.4V171.1H720.5V173.9H720.7V176.7H719.2V179.5H717.8V182.3H715.9V185.1H714.6V187.9H712.7V190.6H710.3V193.4H708.2V196.2H705.8V199H703.1V201.8H700.5V204.6H697.7V207.4H694.7V210.2H691.6V212.9H688.9V215.7H686.6V218.5H685V221.3H682.4V224.1H680.8V226.9H678.8V229.7H677.3V232.5H676.7V235.2H675.6V238H674.9V240.8H673.6V243.6H672.8V246.4H672.3V249.2H671.8V252H671.5V254.8H671.2V257.5H671.2" fill="none" stroke="#1f77b4" stroke-width="1.45" stroke-linejoin="miter"/><path d="M671.2 90.3H671.2V93.1H671.4V95.9H671.7V98.7H671.9V101.4H672.2V104.2H673V107H674.1V109.8H675.4V112.6H676.1V115.4H677.1V118.2H679V121H680V123.7H680.9V126.5H683V129.3H684V132.1H685.4V134.9H686.6V137.7H688.1V140.5H689.1V143.3H690.1V146H691.5V148.8H692.4V151.6H694.2V154.4H695.1V157.2H696.4V160H698.1V162.8H699.9V165.6H702.5V168.3H704.4V171.1H706.3V173.9H707.9V176.7H708.6V179.5H710.1V182.3H710.4V185.1H711.2V187.9H711.1V190.6H710.6V193.4H709.2V196.2H707.8V199H706.1V201.8H704.6V204.6H703.4V207.4H701.3V210.2H698.6V212.9H696.8V215.7H694.6V218.5H692.7V221.3H690.8V224.1H689.1V226.9H687.6V229.7H684.9V232.5H683.2V235.2H681.2V238H680.1V240.8H678.4V243.6H677.4V246.4H675.9V249.2H674.8V252H674.1V254.8H673.5V257.5H672.8V260.3H672.1V263.1H671.7V265.9H671.4V268.7H671.2V271.5H671.2" fill="none" stroke="#ff7f0e" stroke-width="1.45" stroke-linejoin="miter"/><path d="M671.2 87.5H671.2V90.3H671.4V93.1H671.7V95.9H672V98.7H672.5V101.4H673.4V104.2H674.7V107H676.6V109.8H678.3V112.6H679.6V115.4H681.7V118.2H684.4V121H686.5V123.7H690V126.5H693V129.3H695.8V132.1H698.9V134.9H700.5V137.7H701.6V140.5H702.3V143.3H702.7V146H703.3V148.8H704V151.6H704.2V154.4H704.7V157.2H704.4V160H703.9V162.8H703.5V165.6H703V168.3H703V171.1H702.2V173.9H701.6V176.7H701.7V179.5H701V182.3H700.1V185.1H699.9V187.9H698.8V190.6H697.8V193.4H695.5V196.2H694.5V199H693.8V201.8H692.9V204.6H691.5V207.4H691.3V210.2H690.1V212.9H689.2V215.7H688.3V218.5H687.5V221.3H686.1V224.1H685.8V226.9H684.8V229.7H683.7V232.5H681.7V235.2H680.6V238H679.1V240.8H677.8V243.6H676.7V246.4H675.5V249.2H675.1V252H674V254.8H673.5V257.5H672.9V260.3H672.3V263.1H671.7V265.9H671.3V268.7H671.2" fill="none" stroke="#2ca02c" stroke-width="1.45" stroke-linejoin="miter"/><path d="M671.2 87.5H671.3V90.3H671.6V93.1H672V95.9H672.6V98.7H673.6V101.4H674.6V104.2H675.5V107H676.7V109.8H677.3V112.6H678.4V115.4H680.4V118.2H682.2V121H683.9V123.7H685.4V126.5H687.9V129.3H690.4V132.1H692.9V134.9H694.9V137.7H695.6V140.5H696.9V143.3H697.7V146H698V148.8H699V151.6H699.9V154.4H700.2V157.2H701.6V160H702V162.8H702.9V165.6H703.2V168.3H704.2V171.1H704.2V173.9H704.3V176.7H704.1V179.5H704.1V182.3H703.3V185.1H702.3V187.9H702V190.6H701.1V193.4H700.3V196.2H699.4V199H697.8V201.8H697.2V204.6H695.8V207.4H694.1V210.2H692.7V212.9H691.5V215.7H690.7V218.5H688.7V221.3H687.3V224.1H685.9V226.9H684.7V229.7H683.7V232.5H681.9V235.2H681.3V238H680.3V240.8H678.5V243.6H678V246.4H676.8V249.2H675.8V252H675V254.8H674.5V257.5H673.8V260.3H673.1V263.1H672.7V265.9H672.1V268.7H671.7V271.5H671.5V274.3H671.4V277.1H671.3V279.8H671.3V282.6H671.2V285.4H671.2" fill="none" stroke="#d62728" stroke-width="1.45" stroke-linejoin="miter"/></g><path d="M465.5 310.5v3M516.8 310.5v3M568.1 310.5v3M619.4 310.5v3M427 310.5v1.7M439.9 310.5v1.7M452.7 310.5v1.7M478.3 310.5v1.7M491.1 310.5v1.7M504 310.5v1.7M529.6 310.5v1.7M542.5 310.5v1.7M555.3 310.5v1.7M580.9 310.5v1.7M593.8 310.5v1.7M606.6 310.5v1.7M632.2 310.5v1.7M645 310.5v1.7M657.9 310.5v1.7" stroke="#929292" stroke-width="0.8" fill="none"/><path d="M422.1 305.2h-3M422.1 274.7h-3M422.1 244.1h-3M422.1 213.6h-3M422.1 183.1h-3M422.1 152.6h-3M422.1 122.1h-3M422.1 91.5h-3M422.1 297.5h-1.7M422.1 289.9h-1.7M422.1 282.3h-1.7M422.1 267h-1.7M422.1 259.4h-1.7M422.1 251.8h-1.7M422.1 236.5h-1.7M422.1 228.9h-1.7M422.1 221.2h-1.7M422.1 206h-1.7M422.1 198.4h-1.7M422.1 190.7h-1.7M422.1 175.5h-1.7M422.1 167.8h-1.7M422.1 160.2h-1.7M422.1 144.9h-1.7M422.1 137.3h-1.7M422.1 129.7h-1.7M422.1 114.4h-1.7M422.1 106.8h-1.7M422.1 99.2h-1.7M422.1 83.9h-1.7M422.1 76.3h-1.7" stroke="#929292" stroke-width="0.8" fill="none"/><path d="M422.1 65.8h-1.3M422.1 63.7h-1.3M422.1 61.5h-1.3M422.1 59.3h-1.3M422.1 57.1h-1.3M422.1 55h-1.3M422.1 52.8h-1.3M422.1 50.6h-1.3M422.1 48.5h-1.3M422.1 46.3h-2.6M422.1 44.1h-1.3M422.1 42h-1.3M422.1 39.8h-1.3M422.1 37.6h-1.3M422.1 35.5h-1.3M422.1 33.3h-1.3M422.1 31.1h-1.3M422.1 28.9h-1.3M422.1 26.8h-1.3M422.1 24.6h-2.6M422.1 22.4h-1.3M422.1 20.3h-1.3M422.1 18.1h-1.3M422.1 15.9h-1.3M422.1 13.8h-1.3M422.1 11.6h-1.3M422.1 9.4h-1.3M673.4 310.5v1.3M675.6 310.5v1.3M677.8 310.5v1.3M680 310.5v1.3M682.2 310.5v1.3M684.4 310.5v1.3M686.6 310.5v1.3M688.8 310.5v1.3M691 310.5v1.3M693.2 310.5v2.6M695.4 310.5v1.3M697.6 310.5v1.3M699.8 310.5v1.3M702 310.5v1.3M704.2 310.5v1.3M706.4 310.5v1.3M708.6 310.5v1.3M710.8 310.5v1.3M713 310.5v1.3M715.2 310.5v2.6M717.4 310.5v1.3M719.6 310.5v1.3M721.8 310.5v1.3M724 310.5v1.3M726.2 310.5v1.3M728.4 310.5v1.3M730.6 310.5v1.3" stroke="#929292" stroke-width="0.7" fill="none"/><g font-family="'DejaVu Sans','Liberation Sans',sans-serif" font-size="11.4" fill="#262626" text-anchor="middle"><text x="465.5" y="323.4">0.2</text><text x="516.8" y="323.4">0.4</text><text x="568.1" y="323.4">0.6</text><text x="619.4" y="323.4">0.8</text></g><g font-family="'DejaVu Sans','Liberation Sans',sans-serif" font-size="11.4" fill="#262626" text-anchor="end"><text x="417.5" y="309.7">−0.8</text><text x="417.5" y="279.2">−0.6</text><text x="417.5" y="248.7">−0.4</text><text x="417.5" y="218.2">−0.2</text><text x="417.5" y="187.7">0.0</text><text x="417.5" y="157.1">0.2</text><text x="417.5" y="126.6">0.4</text><text x="417.5" y="96.1">0.6</text></g><rect x="620.2" y="78.7" width="10.2" height="7.3" fill="none" stroke="#1f77b4" stroke-width="1.1"/><text x="640.1" y="86.7" font-family="'Liberation Serif','DejaVu Serif',serif" font-size="12.5" fill="#262626"><tspan font-style="italic">ℓ</tspan><tspan dx="2.5">≤</tspan><tspan dx="0.5">2</tspan></text><rect x="620.2" y="95.1" width="10.2" height="7.3" fill="none" stroke="#ff7f0e" stroke-width="1.1"/><text x="640.1" y="103.1" font-family="'Liberation Serif','DejaVu Serif',serif" font-size="12.5" fill="#262626"><tspan font-style="italic">ℓ</tspan><tspan dx="2.5">≤</tspan><tspan dx="0.5">3</tspan></text><rect x="620.2" y="111.4" width="10.2" height="7.3" fill="none" stroke="#2ca02c" stroke-width="1.1"/><text x="640.1" y="119.4" font-family="'Liberation Serif','DejaVu Serif',serif" font-size="12.5" fill="#262626"><tspan font-style="italic">ℓ</tspan><tspan dx="2.5">≤</tspan><tspan dx="0.5">4</tspan></text><rect x="620.2" y="127.3" width="10.2" height="7.3" fill="none" stroke="#d62728" stroke-width="1.1"/><text x="640.1" y="135.3" font-family="'Liberation Serif','DejaVu Serif',serif" font-size="12.5" fill="#262626"><tspan font-style="italic">ℓ</tspan><tspan dx="2.5">≤</tspan><tspan dx="0.5">5</tspan></text><text x="546.6" y="338.6" text-anchor="middle" font-family="'DejaVu Sans','Liberation Sans',sans-serif" font-size="15" fill="#262626">q</text><text transform="translate(382,198.3) rotate(-90)" font-family="'Liberation Serif','DejaVu Serif',serif" font-size="14" fill="#262626" font-style="italic">χ<tspan font-size="9.5" dy="3" font-style="normal">eff</tspan></text><clipPath id="c3m"><rect x="54.2" y="413.2" width="246.4" height="240.4"/></clipPath><clipPath id="c3t"><rect x="53.6" y="353" width="247.6" height="60.9"/></clipPath><clipPath id="c3r"><rect x="299.9" y="412.6" width="62.5" height="241.6"/></clipPath><g clip-path="url(#c3m)"><path fill="#fefcfc" d="M64.5 486.95h5.1v5.1h-5.1zM69.35 486.95h5.1v5.1h-5.1zM74.2 486.95h5.1v5.1h-5.1zM79.05 486.95h5.1v5.1h-5.1zM59.65 491.8h5.1v5.1h-5.1zM83.9 491.8h5.1v5.1h-5.1zM88.75 491.8h5.1v5.1h-5.1zM93.6 496.65h5.1v5.1h-5.1zM268.2 496.65h5.1v5.1h-5.1zM273.05 496.65h5.1v5.1h-5.1zM54.8 501.5h5.1v5.1h-5.1zM98.45 501.5h5.1v5.1h-5.1zM258.5 501.5h5.1v5.1h-5.1zM263.35 501.5h5.1v5.1h-5.1zM268.2 501.5h5.1v5.1h-5.1zM273.05 501.5h5.1v5.1h-5.1zM277.9 501.5h5.1v5.1h-5.1zM282.75 501.5h5.1v5.1h-5.1zM54.8 506.35h5.1v5.1h-5.1zM103.3 506.35h5.1v5.1h-5.1zM253.65 506.35h5.1v5.1h-5.1zM258.5 506.35h5.1v5.1h-5.1zM287.6 506.35h5.1v5.1h-5.1zM54.8 511.2h5.1v5.1h-5.1zM108.15 511.2h5.1v5.1h-5.1zM248.8 511.2h5.1v5.1h-5.1zM287.6 511.2h5.1v5.1h-5.1zM54.8 516.05h5.1v5.1h-5.1zM113 516.05h5.1v5.1h-5.1zM243.95 516.05h5.1v5.1h-5.1zM287.6 516.05h5.1v5.1h-5.1zM54.8 520.9h5.1v5.1h-5.1zM239.1 520.9h5.1v5.1h-5.1zM287.6 520.9h5.1v5.1h-5.1zM54.8 525.75h5.1v5.1h-5.1zM117.85 525.75h5.1v5.1h-5.1zM234.25 525.75h5.1v5.1h-5.1zM287.6 525.75h5.1v5.1h-5.1zM59.65 530.6h5.1v5.1h-5.1zM122.7 530.6h5.1v5.1h-5.1zM229.4 530.6h5.1v5.1h-5.1zM287.6 530.6h5.1v5.1h-5.1zM59.65 535.45h5.1v5.1h-5.1zM127.55 535.45h5.1v5.1h-5.1zM224.55 535.45h5.1v5.1h-5.1zM287.6 535.45h5.1v5.1h-5.1zM132.4 540.3h5.1v5.1h-5.1zM219.7 540.3h5.1v5.1h-5.1zM282.75 540.3h5.1v5.1h-5.1zM64.5 545.15h5.1v5.1h-5.1zM214.85 545.15h5.1v5.1h-5.1zM282.75 545.15h5.1v5.1h-5.1zM69.35 550h5.1v5.1h-5.1zM137.25 550h5.1v5.1h-5.1zM277.9 550h5.1v5.1h-5.1zM69.35 554.85h5.1v5.1h-5.1zM142.1 554.85h5.1v5.1h-5.1zM210 554.85h5.1v5.1h-5.1zM277.9 554.85h5.1v5.1h-5.1zM74.2 559.7h5.1v5.1h-5.1zM205.15 559.7h5.1v5.1h-5.1zM273.05 559.7h5.1v5.1h-5.1zM74.2 564.55h5.1v5.1h-5.1zM79.05 564.55h5.1v5.1h-5.1zM146.95 564.55h5.1v5.1h-5.1zM200.3 564.55h5.1v5.1h-5.1zM268.2 564.55h5.1v5.1h-5.1zM273.05 564.55h5.1v5.1h-5.1zM79.05 569.4h5.1v5.1h-5.1zM151.8 569.4h5.1v5.1h-5.1zM268.2 569.4h5.1v5.1h-5.1zM83.9 574.25h5.1v5.1h-5.1zM195.45 574.25h5.1v5.1h-5.1zM263.35 574.25h5.1v5.1h-5.1zM88.75 579.1h5.1v5.1h-5.1zM156.65 579.1h5.1v5.1h-5.1zM190.6 579.1h5.1v5.1h-5.1zM258.5 579.1h5.1v5.1h-5.1zM93.6 583.95h5.1v5.1h-5.1zM161.5 583.95h5.1v5.1h-5.1zM253.65 583.95h5.1v5.1h-5.1zM258.5 583.95h5.1v5.1h-5.1zM93.6 588.8h5.1v5.1h-5.1zM98.45 588.8h5.1v5.1h-5.1zM185.75 588.8h5.1v5.1h-5.1zM248.8 588.8h5.1v5.1h-5.1zM253.65 588.8h5.1v5.1h-5.1zM103.3 593.65h5.1v5.1h-5.1zM166.35 593.65h5.1v5.1h-5.1zM180.9 593.65h5.1v5.1h-5.1zM248.8 593.65h5.1v5.1h-5.1zM171.2 598.5h5.1v5.1h-5.1zM171.2 603.35h5.1v5.1h-5.1zM176.05 603.35h5.1v5.1h-5.1zM176.05 608.2h5.1v5.1h-5.1zM176.05 622.75h5.1v5.1h-5.1zM142.1 627.6h5.1v5.1h-5.1zM171.2 627.6h5.1v5.1h-5.1zM176.05 627.6h5.1v5.1h-5.1zM180.9 627.6h5.1v5.1h-5.1zM210 627.6h5.1v5.1h-5.1zM214.85 627.6h5.1v5.1h-5.1zM151.8 632.45h5.1v5.1h-5.1zM156.65 632.45h5.1v5.1h-5.1zM161.5 632.45h5.1v5.1h-5.1zM166.35 632.45h5.1v5.1h-5.1zM190.6 632.45h5.1v5.1h-5.1zM195.45 632.45h5.1v5.1h-5.1zM200.3 632.45h5.1v5.1h-5.1z"/><path fill="#fef8f8" d="M64.5 491.8h5.1v5.1h-5.1zM79.05 491.8h5.1v5.1h-5.1zM59.65 496.65h5.1v5.1h-5.1zM88.75 496.65h5.1v5.1h-5.1zM93.6 501.5h5.1v5.1h-5.1zM98.45 506.35h5.1v5.1h-5.1zM263.35 506.35h5.1v5.1h-5.1zM268.2 506.35h5.1v5.1h-5.1zM273.05 506.35h5.1v5.1h-5.1zM277.9 506.35h5.1v5.1h-5.1zM282.75 506.35h5.1v5.1h-5.1zM103.3 511.2h5.1v5.1h-5.1zM253.65 511.2h5.1v5.1h-5.1zM258.5 511.2h5.1v5.1h-5.1zM282.75 511.2h5.1v5.1h-5.1zM108.15 516.05h5.1v5.1h-5.1zM248.8 516.05h5.1v5.1h-5.1zM113 520.9h5.1v5.1h-5.1zM243.95 520.9h5.1v5.1h-5.1zM59.65 525.75h5.1v5.1h-5.1zM239.1 525.75h5.1v5.1h-5.1zM282.75 530.6h5.1v5.1h-5.1zM64.5 535.45h5.1v5.1h-5.1zM282.75 535.45h5.1v5.1h-5.1zM64.5 540.3h5.1v5.1h-5.1zM127.55 540.3h5.1v5.1h-5.1zM224.55 540.3h5.1v5.1h-5.1zM69.35 545.15h5.1v5.1h-5.1zM132.4 545.15h5.1v5.1h-5.1zM219.7 545.15h5.1v5.1h-5.1zM277.9 545.15h5.1v5.1h-5.1zM214.85 550h5.1v5.1h-5.1zM74.2 554.85h5.1v5.1h-5.1zM273.05 554.85h5.1v5.1h-5.1zM79.05 559.7h5.1v5.1h-5.1zM142.1 559.7h5.1v5.1h-5.1zM268.2 559.7h5.1v5.1h-5.1zM205.15 564.55h5.1v5.1h-5.1zM83.9 569.4h5.1v5.1h-5.1zM200.3 569.4h5.1v5.1h-5.1zM263.35 569.4h5.1v5.1h-5.1zM88.75 574.25h5.1v5.1h-5.1zM151.8 574.25h5.1v5.1h-5.1zM258.5 574.25h5.1v5.1h-5.1zM93.6 579.1h5.1v5.1h-5.1zM253.65 579.1h5.1v5.1h-5.1zM98.45 583.95h5.1v5.1h-5.1zM190.6 583.95h5.1v5.1h-5.1zM161.5 588.8h5.1v5.1h-5.1zM243.95 593.65h5.1v5.1h-5.1zM166.35 598.5h5.1v5.1h-5.1zM180.9 598.5h5.1v5.1h-5.1zM171.2 608.2h5.1v5.1h-5.1zM176.05 613.05h5.1v5.1h-5.1zM176.05 617.9h5.1v5.1h-5.1zM180.9 622.75h5.1v5.1h-5.1zM146.95 627.6h5.1v5.1h-5.1zM185.75 627.6h5.1v5.1h-5.1zM205.15 627.6h5.1v5.1h-5.1z"/><path fill="#fdf5f5" d="M69.35 491.8h5.1v5.1h-5.1zM74.2 491.8h5.1v5.1h-5.1zM64.5 496.65h5.1v5.1h-5.1zM83.9 496.65h5.1v5.1h-5.1zM59.65 501.5h5.1v5.1h-5.1zM88.75 501.5h5.1v5.1h-5.1zM59.65 506.35h5.1v5.1h-5.1zM263.35 511.2h5.1v5.1h-5.1zM268.2 511.2h5.1v5.1h-5.1zM273.05 511.2h5.1v5.1h-5.1zM277.9 511.2h5.1v5.1h-5.1zM59.65 516.05h5.1v5.1h-5.1zM253.65 516.05h5.1v5.1h-5.1zM282.75 516.05h5.1v5.1h-5.1zM59.65 520.9h5.1v5.1h-5.1zM248.8 520.9h5.1v5.1h-5.1zM282.75 520.9h5.1v5.1h-5.1zM282.75 525.75h5.1v5.1h-5.1zM117.85 530.6h5.1v5.1h-5.1zM234.25 530.6h5.1v5.1h-5.1zM122.7 535.45h5.1v5.1h-5.1zM229.4 535.45h5.1v5.1h-5.1zM277.9 535.45h5.1v5.1h-5.1zM277.9 540.3h5.1v5.1h-5.1zM74.2 550h5.1v5.1h-5.1zM273.05 550h5.1v5.1h-5.1zM137.25 554.85h5.1v5.1h-5.1zM268.2 554.85h5.1v5.1h-5.1zM210 559.7h5.1v5.1h-5.1zM83.9 564.55h5.1v5.1h-5.1zM263.35 564.55h5.1v5.1h-5.1zM258.5 569.4h5.1v5.1h-5.1zM195.45 579.1h5.1v5.1h-5.1zM156.65 583.95h5.1v5.1h-5.1zM248.8 583.95h5.1v5.1h-5.1zM103.3 588.8h5.1v5.1h-5.1zM243.95 588.8h5.1v5.1h-5.1zM108.15 593.65h5.1v5.1h-5.1zM185.75 593.65h5.1v5.1h-5.1zM239.1 593.65h5.1v5.1h-5.1zM180.9 603.35h5.1v5.1h-5.1zM171.2 613.05h5.1v5.1h-5.1zM171.2 622.75h5.1v5.1h-5.1zM151.8 627.6h5.1v5.1h-5.1zM166.35 627.6h5.1v5.1h-5.1zM190.6 627.6h5.1v5.1h-5.1zM195.45 627.6h5.1v5.1h-5.1zM200.3 627.6h5.1v5.1h-5.1z"/><path fill="#fcf2f2" d="M69.35 496.65h5.1v5.1h-5.1zM74.2 496.65h5.1v5.1h-5.1zM79.05 496.65h5.1v5.1h-5.1zM93.6 506.35h5.1v5.1h-5.1zM59.65 511.2h5.1v5.1h-5.1zM98.45 511.2h5.1v5.1h-5.1zM103.3 516.05h5.1v5.1h-5.1zM258.5 516.05h5.1v5.1h-5.1zM263.35 516.05h5.1v5.1h-5.1zM273.05 516.05h5.1v5.1h-5.1zM277.9 516.05h5.1v5.1h-5.1zM108.15 520.9h5.1v5.1h-5.1zM277.9 520.9h5.1v5.1h-5.1zM113 525.75h5.1v5.1h-5.1zM243.95 525.75h5.1v5.1h-5.1zM277.9 525.75h5.1v5.1h-5.1zM64.5 530.6h5.1v5.1h-5.1zM239.1 530.6h5.1v5.1h-5.1zM277.9 530.6h5.1v5.1h-5.1zM234.25 535.45h5.1v5.1h-5.1zM69.35 540.3h5.1v5.1h-5.1zM229.4 540.3h5.1v5.1h-5.1zM224.55 545.15h5.1v5.1h-5.1zM273.05 545.15h5.1v5.1h-5.1zM132.4 550h5.1v5.1h-5.1zM219.7 550h5.1v5.1h-5.1zM79.05 554.85h5.1v5.1h-5.1zM214.85 554.85h5.1v5.1h-5.1zM263.35 559.7h5.1v5.1h-5.1zM88.75 569.4h5.1v5.1h-5.1zM146.95 569.4h5.1v5.1h-5.1zM93.6 574.25h5.1v5.1h-5.1zM200.3 574.25h5.1v5.1h-5.1zM253.65 574.25h5.1v5.1h-5.1zM190.6 588.8h5.1v5.1h-5.1zM161.5 593.65h5.1v5.1h-5.1zM185.75 598.5h5.1v5.1h-5.1zM166.35 603.35h5.1v5.1h-5.1zM180.9 608.2h5.1v5.1h-5.1zM180.9 613.05h5.1v5.1h-5.1zM171.2 617.9h5.1v5.1h-5.1zM180.9 617.9h5.1v5.1h-5.1zM205.15 622.75h5.1v5.1h-5.1zM156.65 627.6h5.1v5.1h-5.1zM161.5 627.6h5.1v5.1h-5.1z"/><path fill="#fceeee" d="M64.5 501.5h5.1v5.1h-5.1zM83.9 501.5h5.1v5.1h-5.1zM268.2 516.05h5.1v5.1h-5.1zM253.65 520.9h5.1v5.1h-5.1zM273.05 520.9h5.1v5.1h-5.1zM64.5 525.75h5.1v5.1h-5.1zM69.35 535.45h5.1v5.1h-5.1zM122.7 540.3h5.1v5.1h-5.1zM273.05 540.3h5.1v5.1h-5.1zM74.2 545.15h5.1v5.1h-5.1zM127.55 545.15h5.1v5.1h-5.1zM268.2 550h5.1v5.1h-5.1zM83.9 559.7h5.1v5.1h-5.1zM142.1 564.55h5.1v5.1h-5.1zM210 564.55h5.1v5.1h-5.1zM258.5 564.55h5.1v5.1h-5.1zM205.15 569.4h5.1v5.1h-5.1zM98.45 579.1h5.1v5.1h-5.1zM151.8 579.1h5.1v5.1h-5.1zM248.8 579.1h5.1v5.1h-5.1zM103.3 583.95h5.1v5.1h-5.1zM195.45 583.95h5.1v5.1h-5.1zM243.95 583.95h5.1v5.1h-5.1zM166.35 608.2h5.1v5.1h-5.1zM146.95 622.75h5.1v5.1h-5.1zM166.35 622.75h5.1v5.1h-5.1zM185.75 622.75h5.1v5.1h-5.1z"/><path fill="#fbebeb" d="M69.35 501.5h5.1v5.1h-5.1zM79.05 501.5h5.1v5.1h-5.1zM64.5 506.35h5.1v5.1h-5.1zM88.75 506.35h5.1v5.1h-5.1zM64.5 511.2h5.1v5.1h-5.1zM64.5 516.05h5.1v5.1h-5.1zM64.5 520.9h5.1v5.1h-5.1zM258.5 520.9h5.1v5.1h-5.1zM263.35 520.9h5.1v5.1h-5.1zM268.2 520.9h5.1v5.1h-5.1zM248.8 525.75h5.1v5.1h-5.1zM273.05 525.75h5.1v5.1h-5.1zM243.95 530.6h5.1v5.1h-5.1zM273.05 530.6h5.1v5.1h-5.1zM117.85 535.45h5.1v5.1h-5.1zM273.05 535.45h5.1v5.1h-5.1zM268.2 545.15h5.1v5.1h-5.1zM263.35 554.85h5.1v5.1h-5.1zM137.25 559.7h5.1v5.1h-5.1zM214.85 559.7h5.1v5.1h-5.1zM88.75 564.55h5.1v5.1h-5.1zM253.65 569.4h5.1v5.1h-5.1zM200.3 579.1h5.1v5.1h-5.1zM108.15 588.8h5.1v5.1h-5.1zM156.65 588.8h5.1v5.1h-5.1zM239.1 588.8h5.1v5.1h-5.1zM113 593.65h5.1v5.1h-5.1zM190.6 593.65h5.1v5.1h-5.1zM234.25 593.65h5.1v5.1h-5.1zM117.85 598.5h5.1v5.1h-5.1zM161.5 598.5h5.1v5.1h-5.1zM229.4 598.5h5.1v5.1h-5.1zM185.75 603.35h5.1v5.1h-5.1zM166.35 613.05h5.1v5.1h-5.1zM166.35 617.9h5.1v5.1h-5.1zM200.3 622.75h5.1v5.1h-5.1z"/><path fill="#fbe7e7" d="M74.2 501.5h5.1v5.1h-5.1zM93.6 511.2h5.1v5.1h-5.1zM253.65 525.75h5.1v5.1h-5.1zM268.2 525.75h5.1v5.1h-5.1zM69.35 530.6h5.1v5.1h-5.1zM113 530.6h5.1v5.1h-5.1zM239.1 535.45h5.1v5.1h-5.1zM74.2 540.3h5.1v5.1h-5.1zM234.25 540.3h5.1v5.1h-5.1zM229.4 545.15h5.1v5.1h-5.1zM79.05 550h5.1v5.1h-5.1zM224.55 550h5.1v5.1h-5.1zM132.4 554.85h5.1v5.1h-5.1zM219.7 554.85h5.1v5.1h-5.1zM93.6 569.4h5.1v5.1h-5.1zM146.95 574.25h5.1v5.1h-5.1zM195.45 588.8h5.1v5.1h-5.1zM185.75 608.2h5.1v5.1h-5.1zM185.75 617.9h5.1v5.1h-5.1zM205.15 617.9h5.1v5.1h-5.1zM151.8 622.75h5.1v5.1h-5.1zM156.65 622.75h5.1v5.1h-5.1zM161.5 622.75h5.1v5.1h-5.1zM190.6 622.75h5.1v5.1h-5.1zM195.45 622.75h5.1v5.1h-5.1z"/><path fill="#fae4e4" d="M69.35 506.35h5.1v5.1h-5.1zM83.9 506.35h5.1v5.1h-5.1zM98.45 516.05h5.1v5.1h-5.1zM103.3 520.9h5.1v5.1h-5.1zM108.15 525.75h5.1v5.1h-5.1zM258.5 525.75h5.1v5.1h-5.1zM263.35 525.75h5.1v5.1h-5.1zM268.2 530.6h5.1v5.1h-5.1zM268.2 535.45h5.1v5.1h-5.1zM268.2 540.3h5.1v5.1h-5.1zM127.55 550h5.1v5.1h-5.1zM263.35 550h5.1v5.1h-5.1zM83.9 554.85h5.1v5.1h-5.1zM258.5 559.7h5.1v5.1h-5.1zM98.45 574.25h5.1v5.1h-5.1zM205.15 574.25h5.1v5.1h-5.1zM248.8 574.25h5.1v5.1h-5.1zM190.6 598.5h5.1v5.1h-5.1zM161.5 603.35h5.1v5.1h-5.1zM185.75 613.05h5.1v5.1h-5.1zM161.5 617.9h5.1v5.1h-5.1z"/><path fill="#f9e1e1" d="M74.2 506.35h5.1v5.1h-5.1zM79.05 506.35h5.1v5.1h-5.1zM69.35 511.2h5.1v5.1h-5.1zM69.35 525.75h5.1v5.1h-5.1zM248.8 530.6h5.1v5.1h-5.1zM122.7 545.15h5.1v5.1h-5.1zM142.1 569.4h5.1v5.1h-5.1zM210 569.4h5.1v5.1h-5.1zM103.3 579.1h5.1v5.1h-5.1zM243.95 579.1h5.1v5.1h-5.1zM151.8 583.95h5.1v5.1h-5.1zM200.3 583.95h5.1v5.1h-5.1zM161.5 608.2h5.1v5.1h-5.1zM161.5 613.05h5.1v5.1h-5.1zM146.95 617.9h5.1v5.1h-5.1zM190.6 617.9h5.1v5.1h-5.1zM200.3 617.9h5.1v5.1h-5.1z"/><path fill="#f7d6d7" d="M74.2 511.2h5.1v5.1h-5.1zM83.9 511.2h5.1v5.1h-5.1zM98.45 520.9h5.1v5.1h-5.1zM103.3 525.75h5.1v5.1h-5.1zM74.2 530.6h5.1v5.1h-5.1zM108.15 530.6h5.1v5.1h-5.1zM248.8 535.45h5.1v5.1h-5.1zM83.9 550h5.1v5.1h-5.1zM93.6 564.55h5.1v5.1h-5.1zM113 588.8h5.1v5.1h-5.1zM117.85 593.65h5.1v5.1h-5.1zM156.65 598.5h5.1v5.1h-5.1zM156.65 613.05h5.1v5.1h-5.1z"/><path fill="#f7d3d3" d="M79.05 511.2h5.1v5.1h-5.1zM74.2 516.05h5.1v5.1h-5.1zM253.65 535.45h5.1v5.1h-5.1zM258.5 535.45h5.1v5.1h-5.1zM79.05 540.3h5.1v5.1h-5.1zM258.5 550h5.1v5.1h-5.1zM132.4 559.7h5.1v5.1h-5.1zM253.65 559.7h5.1v5.1h-5.1zM98.45 569.4h5.1v5.1h-5.1zM210 574.25h5.1v5.1h-5.1zM243.95 574.25h5.1v5.1h-5.1zM146.95 579.1h5.1v5.1h-5.1zM200.3 588.8h5.1v5.1h-5.1zM122.7 598.5h5.1v5.1h-5.1zM195.45 598.5h5.1v5.1h-5.1zM142.1 613.05h5.1v5.1h-5.1zM195.45 613.05h5.1v5.1h-5.1zM200.3 613.05h5.1v5.1h-5.1z"/><path fill="#f9dddd" d="M88.75 511.2h5.1v5.1h-5.1zM69.35 516.05h5.1v5.1h-5.1zM69.35 520.9h5.1v5.1h-5.1zM253.65 530.6h5.1v5.1h-5.1zM263.35 530.6h5.1v5.1h-5.1zM74.2 535.45h5.1v5.1h-5.1zM243.95 535.45h5.1v5.1h-5.1zM117.85 540.3h5.1v5.1h-5.1zM79.05 545.15h5.1v5.1h-5.1zM263.35 545.15h5.1v5.1h-5.1zM258.5 554.85h5.1v5.1h-5.1zM88.75 559.7h5.1v5.1h-5.1zM214.85 564.55h5.1v5.1h-5.1zM253.65 564.55h5.1v5.1h-5.1zM239.1 583.95h5.1v5.1h-5.1zM156.65 593.65h5.1v5.1h-5.1zM195.45 593.65h5.1v5.1h-5.1zM190.6 603.35h5.1v5.1h-5.1zM151.8 617.9h5.1v5.1h-5.1zM156.65 617.9h5.1v5.1h-5.1zM195.45 617.9h5.1v5.1h-5.1z"/><path fill="#f5c9c9" d="M79.05 516.05h5.1v5.1h-5.1zM83.9 516.05h5.1v5.1h-5.1zM79.05 535.45h5.1v5.1h-5.1zM248.8 540.3h5.1v5.1h-5.1zM253.65 540.3h5.1v5.1h-5.1zM117.85 545.15h5.1v5.1h-5.1zM234.25 550h5.1v5.1h-5.1zM253.65 554.85h5.1v5.1h-5.1zM219.7 564.55h5.1v5.1h-5.1zM142.1 574.25h5.1v5.1h-5.1zM205.15 583.95h5.1v5.1h-5.1zM234.25 583.95h5.1v5.1h-5.1zM214.85 603.35h5.1v5.1h-5.1zM137.25 608.2h5.1v5.1h-5.1zM205.15 608.2h5.1v5.1h-5.1z"/><path fill="#f5cccd" d="M88.75 516.05h5.1v5.1h-5.1zM239.1 545.15h5.1v5.1h-5.1zM122.7 550h5.1v5.1h-5.1zM88.75 554.85h5.1v5.1h-5.1zM248.8 564.55h5.1v5.1h-5.1zM214.85 569.4h5.1v5.1h-5.1zM103.3 574.25h5.1v5.1h-5.1zM239.1 579.1h5.1v5.1h-5.1zM146.95 613.05h5.1v5.1h-5.1zM151.8 613.05h5.1v5.1h-5.1z"/><path fill="#f8dada" d="M93.6 516.05h5.1v5.1h-5.1zM258.5 530.6h5.1v5.1h-5.1zM113 535.45h5.1v5.1h-5.1zM263.35 535.45h5.1v5.1h-5.1zM239.1 540.3h5.1v5.1h-5.1zM263.35 540.3h5.1v5.1h-5.1zM234.25 545.15h5.1v5.1h-5.1zM229.4 550h5.1v5.1h-5.1zM224.55 554.85h5.1v5.1h-5.1zM219.7 559.7h5.1v5.1h-5.1zM137.25 564.55h5.1v5.1h-5.1zM248.8 569.4h5.1v5.1h-5.1zM205.15 579.1h5.1v5.1h-5.1zM108.15 583.95h5.1v5.1h-5.1zM234.25 588.8h5.1v5.1h-5.1zM229.4 593.65h5.1v5.1h-5.1zM224.55 598.5h5.1v5.1h-5.1zM219.7 603.35h5.1v5.1h-5.1zM190.6 608.2h5.1v5.1h-5.1zM190.6 613.05h5.1v5.1h-5.1zM205.15 613.05h5.1v5.1h-5.1z"/><path fill="#f6d0d0" d="M74.2 520.9h5.1v5.1h-5.1zM74.2 525.75h5.1v5.1h-5.1zM243.95 540.3h5.1v5.1h-5.1zM258.5 540.3h5.1v5.1h-5.1zM258.5 545.15h5.1v5.1h-5.1zM127.55 554.85h5.1v5.1h-5.1zM151.8 588.8h5.1v5.1h-5.1zM156.65 603.35h5.1v5.1h-5.1zM195.45 603.35h5.1v5.1h-5.1zM156.65 608.2h5.1v5.1h-5.1zM195.45 608.2h5.1v5.1h-5.1zM210 608.2h5.1v5.1h-5.1z"/><path fill="#f3c2c3" d="M79.05 520.9h5.1v5.1h-5.1zM98.45 525.75h5.1v5.1h-5.1zM108.15 535.45h5.1v5.1h-5.1zM243.95 545.15h5.1v5.1h-5.1zM243.95 569.4h5.1v5.1h-5.1zM108.15 579.1h5.1v5.1h-5.1zM224.55 593.65h5.1v5.1h-5.1z"/><path fill="#f2bcbc" d="M83.9 520.9h5.1v5.1h-5.1zM88.75 520.9h5.1v5.1h-5.1zM88.75 550h5.1v5.1h-5.1zM239.1 550h5.1v5.1h-5.1zM98.45 564.55h5.1v5.1h-5.1zM113 583.95h5.1v5.1h-5.1zM146.95 583.95h5.1v5.1h-5.1zM132.4 603.35h5.1v5.1h-5.1zM210 603.35h5.1v5.1h-5.1z"/><path fill="#f4c6c6" d="M93.6 520.9h5.1v5.1h-5.1zM113 540.3h5.1v5.1h-5.1zM83.9 545.15h5.1v5.1h-5.1zM253.65 545.15h5.1v5.1h-5.1zM253.65 550h5.1v5.1h-5.1zM229.4 554.85h5.1v5.1h-5.1zM93.6 559.7h5.1v5.1h-5.1zM224.55 559.7h5.1v5.1h-5.1zM229.4 588.8h5.1v5.1h-5.1zM200.3 593.65h5.1v5.1h-5.1zM219.7 598.5h5.1v5.1h-5.1zM200.3 608.2h5.1v5.1h-5.1z"/><path fill="#f3bfbf" d="M79.05 525.75h5.1v5.1h-5.1zM79.05 530.6h5.1v5.1h-5.1zM103.3 530.6h5.1v5.1h-5.1zM248.8 545.15h5.1v5.1h-5.1zM248.8 559.7h5.1v5.1h-5.1zM137.25 569.4h5.1v5.1h-5.1zM210 579.1h5.1v5.1h-5.1zM151.8 593.65h5.1v5.1h-5.1zM200.3 598.5h5.1v5.1h-5.1zM200.3 603.35h5.1v5.1h-5.1zM151.8 608.2h5.1v5.1h-5.1z"/><path fill="#f0b1b2" d="M83.9 525.75h5.1v5.1h-5.1zM93.6 525.75h5.1v5.1h-5.1zM93.6 554.85h5.1v5.1h-5.1zM122.7 554.85h5.1v5.1h-5.1zM127.55 559.7h5.1v5.1h-5.1zM229.4 559.7h5.1v5.1h-5.1zM224.55 564.55h5.1v5.1h-5.1zM103.3 569.4h5.1v5.1h-5.1zM234.25 579.1h5.1v5.1h-5.1zM122.7 593.65h5.1v5.1h-5.1zM205.15 593.65h5.1v5.1h-5.1zM205.15 598.5h5.1v5.1h-5.1z"/><path fill="#efabab" d="M88.75 525.75h5.1v5.1h-5.1zM83.9 530.6h5.1v5.1h-5.1zM98.45 530.6h5.1v5.1h-5.1zM103.3 535.45h5.1v5.1h-5.1zM108.15 540.3h5.1v5.1h-5.1zM88.75 545.15h5.1v5.1h-5.1zM113 545.15h5.1v5.1h-5.1zM239.1 554.85h5.1v5.1h-5.1zM239.1 569.4h5.1v5.1h-5.1zM224.55 588.8h5.1v5.1h-5.1zM210 598.5h5.1v5.1h-5.1z"/><path fill="#eda0a1" d="M88.75 530.6h5.1v5.1h-5.1zM93.6 530.6h5.1v5.1h-5.1zM239.1 559.7h5.1v5.1h-5.1zM229.4 564.55h5.1v5.1h-5.1zM239.1 564.55h5.1v5.1h-5.1zM219.7 574.25h5.1v5.1h-5.1zM234.25 574.25h5.1v5.1h-5.1zM210 593.65h5.1v5.1h-5.1zM214.85 593.65h5.1v5.1h-5.1zM137.25 603.35h5.1v5.1h-5.1z"/><path fill="#f0aeae" d="M83.9 535.45h5.1v5.1h-5.1zM117.85 550h5.1v5.1h-5.1zM243.95 554.85h5.1v5.1h-5.1zM243.95 559.7h5.1v5.1h-5.1zM210 583.95h5.1v5.1h-5.1zM229.4 583.95h5.1v5.1h-5.1zM219.7 593.65h5.1v5.1h-5.1z"/><path fill="#ec9a9a" d="M88.75 535.45h5.1v5.1h-5.1zM234.25 564.55h5.1v5.1h-5.1zM229.4 579.1h5.1v5.1h-5.1zM219.7 588.8h5.1v5.1h-5.1z"/><path fill="#ea9394" d="M93.6 535.45h5.1v5.1h-5.1zM103.3 540.3h5.1v5.1h-5.1zM229.4 569.4h5.1v5.1h-5.1zM219.7 579.1h5.1v5.1h-5.1zM146.95 593.65h5.1v5.1h-5.1z"/><path fill="#eb9697" d="M98.45 535.45h5.1v5.1h-5.1zM103.3 564.55h5.1v5.1h-5.1zM234.25 569.4h5.1v5.1h-5.1zM137.25 574.25h5.1v5.1h-5.1zM113 579.1h5.1v5.1h-5.1zM214.85 583.95h5.1v5.1h-5.1zM224.55 583.95h5.1v5.1h-5.1zM214.85 588.8h5.1v5.1h-5.1zM142.1 603.35h5.1v5.1h-5.1z"/><path fill="#f2b8b8" d="M83.9 540.3h5.1v5.1h-5.1zM248.8 550h5.1v5.1h-5.1zM248.8 554.85h5.1v5.1h-5.1zM214.85 574.25h5.1v5.1h-5.1zM239.1 574.25h5.1v5.1h-5.1zM205.15 588.8h5.1v5.1h-5.1zM205.15 603.35h5.1v5.1h-5.1zM142.1 608.2h5.1v5.1h-5.1z"/><path fill="#ec9d9e" d="M88.75 540.3h5.1v5.1h-5.1zM93.6 550h5.1v5.1h-5.1zM224.55 569.4h5.1v5.1h-5.1zM146.95 603.35h5.1v5.1h-5.1z"/><path fill="#e98c8d" d="M93.6 540.3h5.1v5.1h-5.1zM117.85 554.85h5.1v5.1h-5.1zM132.4 569.4h5.1v5.1h-5.1zM224.55 579.1h5.1v5.1h-5.1z"/><path fill="#e88686" d="M98.45 540.3h5.1v5.1h-5.1zM127.55 564.55h5.1v5.1h-5.1zM108.15 569.4h5.1v5.1h-5.1zM142.1 583.95h5.1v5.1h-5.1z"/><path fill="#ea9090" d="M93.6 545.15h5.1v5.1h-5.1zM108.15 545.15h5.1v5.1h-5.1zM113 550h5.1v5.1h-5.1zM98.45 554.85h5.1v5.1h-5.1zM224.55 574.25h5.1v5.1h-5.1zM229.4 574.25h5.1v5.1h-5.1zM219.7 583.95h5.1v5.1h-5.1zM132.4 598.5h5.1v5.1h-5.1zM146.95 598.5h5.1v5.1h-5.1z"/><path fill="#e77f7f" d="M98.45 545.15h5.1v5.1h-5.1zM103.3 545.15h5.1v5.1h-5.1zM103.3 559.7h5.1v5.1h-5.1z"/><path fill="#e78283" d="M98.45 550h5.1v5.1h-5.1zM122.7 588.8h5.1v5.1h-5.1zM127.55 593.65h5.1v5.1h-5.1z"/><path fill="#e57575" d="M103.3 550h5.1v5.1h-5.1zM103.3 554.85h5.1v5.1h-5.1zM137.25 598.5h5.1v5.1h-5.1zM142.1 598.5h5.1v5.1h-5.1z"/><path fill="#e57879" d="M108.15 550h5.1v5.1h-5.1z"/><path fill="#f1b5b5" d="M243.95 550h5.1v5.1h-5.1zM234.25 554.85h5.1v5.1h-5.1zM132.4 564.55h5.1v5.1h-5.1zM243.95 564.55h5.1v5.1h-5.1zM219.7 569.4h5.1v5.1h-5.1zM117.85 588.8h5.1v5.1h-5.1zM127.55 598.5h5.1v5.1h-5.1zM151.8 598.5h5.1v5.1h-5.1zM214.85 598.5h5.1v5.1h-5.1zM151.8 603.35h5.1v5.1h-5.1zM146.95 608.2h5.1v5.1h-5.1z"/><path fill="#e26768" d="M108.15 554.85h5.1v5.1h-5.1z"/><path fill="#e47172" d="M113 554.85h5.1v5.1h-5.1z"/><path fill="#eea4a4" d="M98.45 559.7h5.1v5.1h-5.1zM234.25 559.7h5.1v5.1h-5.1zM108.15 574.25h5.1v5.1h-5.1zM214.85 579.1h5.1v5.1h-5.1zM146.95 588.8h5.1v5.1h-5.1zM210 588.8h5.1v5.1h-5.1z"/><path fill="#e26464" d="M108.15 559.7h5.1v5.1h-5.1zM117.85 559.7h5.1v5.1h-5.1zM142.1 593.65h5.1v5.1h-5.1z"/><path fill="#df5657" d="M113 559.7h5.1v5.1h-5.1z"/><path fill="#e98989" d="M122.7 559.7h5.1v5.1h-5.1zM117.85 583.95h5.1v5.1h-5.1z"/><path fill="#e36e6f" d="M108.15 564.55h5.1v5.1h-5.1zM113 574.25h5.1v5.1h-5.1z"/><path fill="#dd4c4d" d="M113 564.55h5.1v5.1h-5.1zM122.7 583.95h5.1v5.1h-5.1zM127.55 588.8h5.1v5.1h-5.1zM137.25 593.65h5.1v5.1h-5.1z"/><path fill="#db4243" d="M117.85 564.55h5.1v5.1h-5.1z"/><path fill="#e05a5a" d="M122.7 564.55h5.1v5.1h-5.1zM132.4 574.25h5.1v5.1h-5.1zM117.85 579.1h5.1v5.1h-5.1zM132.4 593.65h5.1v5.1h-5.1z"/><path fill="#de5354" d="M113 569.4h5.1v5.1h-5.1zM127.55 569.4h5.1v5.1h-5.1z"/><path fill="#d83132" d="M117.85 569.4h5.1v5.1h-5.1z"/><path fill="#d72e2f" d="M122.7 569.4h5.1v5.1h-5.1zM122.7 574.25h5.1v5.1h-5.1zM127.55 574.25h5.1v5.1h-5.1zM122.7 579.1h5.1v5.1h-5.1zM127.55 579.1h5.1v5.1h-5.1zM132.4 579.1h5.1v5.1h-5.1zM127.55 583.95h5.1v5.1h-5.1zM132.4 583.95h5.1v5.1h-5.1zM132.4 588.8h5.1v5.1h-5.1z"/><path fill="#d93839" d="M117.85 574.25h5.1v5.1h-5.1zM137.25 588.8h5.1v5.1h-5.1z"/><path fill="#e36a6b" d="M137.25 579.1h5.1v5.1h-5.1zM142.1 588.8h5.1v5.1h-5.1z"/><path fill="#eea7a8" d="M142.1 579.1h5.1v5.1h-5.1z"/><path fill="#dc4546" d="M137.25 583.95h5.1v5.1h-5.1z"/><path fill="#fcfdfe" d="M69.35 593.65h5.1v5.1h-5.1zM74.2 593.65h5.1v5.1h-5.1zM79.05 593.65h5.1v5.1h-5.1zM83.9 593.65h5.1v5.1h-5.1zM88.75 593.65h5.1v5.1h-5.1zM93.6 593.65h5.1v5.1h-5.1zM59.65 598.5h5.1v5.1h-5.1zM64.5 598.5h5.1v5.1h-5.1zM69.35 598.5h5.1v5.1h-5.1zM74.2 598.5h5.1v5.1h-5.1zM98.45 598.5h5.1v5.1h-5.1zM248.8 598.5h5.1v5.1h-5.1zM253.65 598.5h5.1v5.1h-5.1zM258.5 598.5h5.1v5.1h-5.1zM263.35 598.5h5.1v5.1h-5.1zM268.2 598.5h5.1v5.1h-5.1zM54.8 603.35h5.1v5.1h-5.1zM59.65 603.35h5.1v5.1h-5.1zM64.5 603.35h5.1v5.1h-5.1zM258.5 603.35h5.1v5.1h-5.1zM263.35 603.35h5.1v5.1h-5.1zM268.2 603.35h5.1v5.1h-5.1zM273.05 603.35h5.1v5.1h-5.1zM54.8 608.2h5.1v5.1h-5.1zM59.65 608.2h5.1v5.1h-5.1zM64.5 608.2h5.1v5.1h-5.1zM263.35 608.2h5.1v5.1h-5.1zM268.2 608.2h5.1v5.1h-5.1zM273.05 608.2h5.1v5.1h-5.1zM277.9 608.2h5.1v5.1h-5.1zM59.65 613.05h5.1v5.1h-5.1zM64.5 613.05h5.1v5.1h-5.1zM263.35 613.05h5.1v5.1h-5.1zM268.2 613.05h5.1v5.1h-5.1zM273.05 613.05h5.1v5.1h-5.1zM64.5 617.9h5.1v5.1h-5.1zM69.35 617.9h5.1v5.1h-5.1zM258.5 617.9h5.1v5.1h-5.1zM263.35 617.9h5.1v5.1h-5.1zM268.2 617.9h5.1v5.1h-5.1zM69.35 622.75h5.1v5.1h-5.1zM74.2 622.75h5.1v5.1h-5.1zM79.05 622.75h5.1v5.1h-5.1zM83.9 622.75h5.1v5.1h-5.1zM127.55 622.75h5.1v5.1h-5.1zM224.55 622.75h5.1v5.1h-5.1zM229.4 622.75h5.1v5.1h-5.1zM234.25 622.75h5.1v5.1h-5.1zM239.1 622.75h5.1v5.1h-5.1zM243.95 622.75h5.1v5.1h-5.1zM248.8 622.75h5.1v5.1h-5.1zM253.65 622.75h5.1v5.1h-5.1zM258.5 622.75h5.1v5.1h-5.1zM83.9 627.6h5.1v5.1h-5.1zM88.75 627.6h5.1v5.1h-5.1zM93.6 627.6h5.1v5.1h-5.1zM98.45 627.6h5.1v5.1h-5.1zM103.3 627.6h5.1v5.1h-5.1zM108.15 627.6h5.1v5.1h-5.1zM113 627.6h5.1v5.1h-5.1zM117.85 627.6h5.1v5.1h-5.1zM122.7 627.6h5.1v5.1h-5.1zM127.55 627.6h5.1v5.1h-5.1zM132.4 627.6h5.1v5.1h-5.1zM137.25 627.6h5.1v5.1h-5.1zM219.7 627.6h5.1v5.1h-5.1zM224.55 627.6h5.1v5.1h-5.1zM229.4 627.6h5.1v5.1h-5.1zM234.25 627.6h5.1v5.1h-5.1zM239.1 627.6h5.1v5.1h-5.1zM243.95 627.6h5.1v5.1h-5.1zM248.8 627.6h5.1v5.1h-5.1zM103.3 632.45h5.1v5.1h-5.1zM108.15 632.45h5.1v5.1h-5.1zM113 632.45h5.1v5.1h-5.1zM117.85 632.45h5.1v5.1h-5.1zM122.7 632.45h5.1v5.1h-5.1z"/><path fill="#fbfafa" d="M98.45 593.65h5.1v5.1h-5.1zM103.3 598.5h5.1v5.1h-5.1zM108.15 598.5h5.1v5.1h-5.1zM243.95 598.5h5.1v5.1h-5.1zM239.1 603.35h5.1v5.1h-5.1zM132.4 622.75h5.1v5.1h-5.1zM214.85 622.75h5.1v5.1h-5.1zM219.7 622.75h5.1v5.1h-5.1z"/><path fill="#f8fbfd" d="M79.05 598.5h5.1v5.1h-5.1zM83.9 598.5h5.1v5.1h-5.1zM88.75 598.5h5.1v5.1h-5.1zM93.6 598.5h5.1v5.1h-5.1zM69.35 603.35h5.1v5.1h-5.1zM74.2 603.35h5.1v5.1h-5.1zM79.05 603.35h5.1v5.1h-5.1zM103.3 603.35h5.1v5.1h-5.1zM243.95 603.35h5.1v5.1h-5.1zM248.8 603.35h5.1v5.1h-5.1zM253.65 603.35h5.1v5.1h-5.1zM69.35 608.2h5.1v5.1h-5.1zM74.2 608.2h5.1v5.1h-5.1zM239.1 608.2h5.1v5.1h-5.1zM243.95 608.2h5.1v5.1h-5.1zM248.8 608.2h5.1v5.1h-5.1zM253.65 608.2h5.1v5.1h-5.1zM258.5 608.2h5.1v5.1h-5.1zM69.35 613.05h5.1v5.1h-5.1zM74.2 613.05h5.1v5.1h-5.1zM234.25 613.05h5.1v5.1h-5.1zM248.8 613.05h5.1v5.1h-5.1zM253.65 613.05h5.1v5.1h-5.1zM258.5 613.05h5.1v5.1h-5.1zM74.2 617.9h5.1v5.1h-5.1zM79.05 617.9h5.1v5.1h-5.1zM122.7 617.9h5.1v5.1h-5.1zM229.4 617.9h5.1v5.1h-5.1zM234.25 617.9h5.1v5.1h-5.1zM239.1 617.9h5.1v5.1h-5.1zM243.95 617.9h5.1v5.1h-5.1zM248.8 617.9h5.1v5.1h-5.1zM253.65 617.9h5.1v5.1h-5.1zM88.75 622.75h5.1v5.1h-5.1zM93.6 622.75h5.1v5.1h-5.1zM98.45 622.75h5.1v5.1h-5.1zM113 622.75h5.1v5.1h-5.1zM117.85 622.75h5.1v5.1h-5.1zM122.7 622.75h5.1v5.1h-5.1z"/><path fill="#faf3f4" d="M113 598.5h5.1v5.1h-5.1zM234.25 598.5h5.1v5.1h-5.1zM117.85 603.35h5.1v5.1h-5.1zM229.4 603.35h5.1v5.1h-5.1zM122.7 608.2h5.1v5.1h-5.1zM224.55 608.2h5.1v5.1h-5.1zM219.7 613.05h5.1v5.1h-5.1zM214.85 617.9h5.1v5.1h-5.1zM142.1 622.75h5.1v5.1h-5.1zM210 622.75h5.1v5.1h-5.1z"/><path fill="#faf6f7" d="M239.1 598.5h5.1v5.1h-5.1zM234.25 603.35h5.1v5.1h-5.1zM132.4 617.9h5.1v5.1h-5.1zM219.7 617.9h5.1v5.1h-5.1zM137.25 622.75h5.1v5.1h-5.1z"/><path fill="#f4f9fb" d="M83.9 603.35h5.1v5.1h-5.1zM88.75 603.35h5.1v5.1h-5.1zM93.6 603.35h5.1v5.1h-5.1zM98.45 603.35h5.1v5.1h-5.1zM79.05 608.2h5.1v5.1h-5.1zM108.15 608.2h5.1v5.1h-5.1zM79.05 613.05h5.1v5.1h-5.1zM113 613.05h5.1v5.1h-5.1zM117.85 613.05h5.1v5.1h-5.1zM239.1 613.05h5.1v5.1h-5.1zM243.95 613.05h5.1v5.1h-5.1zM83.9 617.9h5.1v5.1h-5.1zM88.75 617.9h5.1v5.1h-5.1zM113 617.9h5.1v5.1h-5.1zM117.85 617.9h5.1v5.1h-5.1zM103.3 622.75h5.1v5.1h-5.1zM108.15 622.75h5.1v5.1h-5.1z"/><path fill="#f7f7f9" d="M108.15 603.35h5.1v5.1h-5.1zM117.85 608.2h5.1v5.1h-5.1zM234.25 608.2h5.1v5.1h-5.1zM122.7 613.05h5.1v5.1h-5.1zM229.4 613.05h5.1v5.1h-5.1zM127.55 617.9h5.1v5.1h-5.1zM224.55 617.9h5.1v5.1h-5.1z"/><path fill="#f7f4f6" d="M113 603.35h5.1v5.1h-5.1zM229.4 608.2h5.1v5.1h-5.1zM224.55 613.05h5.1v5.1h-5.1z"/><path fill="#f8e9ea" d="M122.7 603.35h5.1v5.1h-5.1zM224.55 603.35h5.1v5.1h-5.1zM127.55 608.2h5.1v5.1h-5.1zM219.7 608.2h5.1v5.1h-5.1zM214.85 613.05h5.1v5.1h-5.1z"/><path fill="#f4d5d6" d="M127.55 603.35h5.1v5.1h-5.1z"/><path fill="#f1f6fa" d="M83.9 608.2h5.1v5.1h-5.1zM88.75 608.2h5.1v5.1h-5.1zM93.6 608.2h5.1v5.1h-5.1zM98.45 608.2h5.1v5.1h-5.1zM103.3 608.2h5.1v5.1h-5.1zM83.9 613.05h5.1v5.1h-5.1zM88.75 613.05h5.1v5.1h-5.1zM93.6 613.05h5.1v5.1h-5.1zM98.45 613.05h5.1v5.1h-5.1zM103.3 613.05h5.1v5.1h-5.1zM108.15 613.05h5.1v5.1h-5.1zM93.6 617.9h5.1v5.1h-5.1zM98.45 617.9h5.1v5.1h-5.1zM103.3 617.9h5.1v5.1h-5.1zM108.15 617.9h5.1v5.1h-5.1z"/><path fill="#f4f5f8" d="M113 608.2h5.1v5.1h-5.1z"/><path fill="#f5d8d9" d="M132.4 608.2h5.1v5.1h-5.1z"/><path fill="#f6dbdc" d="M214.85 608.2h5.1v5.1h-5.1z"/><path fill="#f6f1f3" d="M127.55 613.05h5.1v5.1h-5.1z"/><path fill="#f9eced" d="M132.4 613.05h5.1v5.1h-5.1zM137.25 617.9h5.1v5.1h-5.1zM210 617.9h5.1v5.1h-5.1z"/><path fill="#f6dfe0" d="M137.25 613.05h5.1v5.1h-5.1zM210 613.05h5.1v5.1h-5.1z"/><path fill="#f7e5e6" d="M142.1 617.9h5.1v5.1h-5.1z"/><path d="M101.4 533.5C103.2 533.8 105.8 534.9 108 536C110.2 537.1 112.7 538.5 114.9 540.2C117.2 542 119.2 544.2 121.5 546.5C123.8 548.8 126.2 551.4 128.4 553.8C130.7 556.2 132.8 558.6 135 561C137.2 563.4 139.7 566.1 141.9 568.4C144.2 570.7 146.2 572.8 148.5 575C150.8 577.2 153.4 579.9 155.5 581.9C157.6 583.9 159.1 585.3 161 587C162.9 588.7 165.1 590.6 166.7 592.1C168.3 593.6 169.2 594.7 170.5 595.8C171.8 596.9 173.5 598.1 174.6 598.8C175.7 599.5 176.2 599.9 177 600.2C177.8 600.5 178.3 600.7 179.1 600.4C179.9 600.1 181 599.3 182 598.5C183 597.7 183.9 596.9 185.3 595.5C186.7 594.1 188.6 592.2 190.5 590.3C192.4 588.4 194.5 586.5 196.6 584.2C198.7 581.9 200.8 579.1 203 576.5C205.2 573.9 207.8 571 210 568.4C212.2 565.8 214.2 563.4 216.5 561C218.8 558.6 221.3 555.9 223.6 553.8C225.8 551.7 227.8 550.1 230 548.5C232.2 546.9 234.9 545.1 237.1 544C239.3 542.9 241.1 542.3 243 541.8C244.9 541.3 246.8 540.9 248.4 540.9C250 540.9 251.2 541.4 252.5 542C253.8 542.6 255.2 543.4 256.3 544.7C257.4 546 258.4 547.9 259.3 550C260.2 552.1 261 554.4 261.9 557.1C262.8 559.8 263.9 563 264.8 566C265.8 569 266.7 572.4 267.6 575.2C268.5 578 269.2 580.4 270 583C270.8 585.6 271.6 588.7 272.1 591C272.6 593.3 272.9 595.1 273 597C273.1 598.9 273.1 600.5 272.8 602.2C272.5 603.9 271.9 605.5 271 607C270.1 608.5 269.1 609.7 267.6 611.2C266.1 612.7 264.1 614.5 262 616C259.9 617.5 257.8 618.9 255.2 620.3C252.6 621.7 249.5 623.2 246.5 624.5C243.5 625.8 239.9 627.1 237.1 628.1C234.3 629.1 232.1 629.6 229.5 630.3C226.9 630.9 224.1 631.5 221.4 632C218.7 632.5 216.1 632.8 213.5 633C210.9 633.2 208.1 633.5 205.6 633.3C203.1 633.1 200.8 632.7 198.5 632C196.2 631.3 193.9 630.4 192 629.3C190.1 628.2 188.5 626.8 187 625.5C185.5 624.2 184.1 622.4 183 621.4C181.9 620.4 181.2 619.8 180.5 619.3C179.8 618.8 179.2 618.6 178.5 618.5C177.8 618.4 176.8 618.5 176 618.8C175.2 619.1 174.7 619.4 173.5 620.3C172.3 621.2 170.5 623 169 624.3C167.5 625.6 166 627 164.5 628.1C163 629.2 161.5 630 160 630.6C158.5 631.2 158 631.8 155.5 632C153 632.2 148.4 632 145 631.9C141.6 631.8 139.2 631.7 135.2 631.5C131.2 631.3 125.5 631 121 630.6C116.5 630.2 112.1 629.8 108.1 629.3C104.1 628.8 100.4 628 97 627.3C93.6 626.5 90.5 625.7 87.8 624.8C85 623.9 82.6 622.9 80.5 621.8C78.4 620.7 76.7 619.4 75.4 618C74.2 616.6 73.6 615 73 613.5C72.4 612 72.1 610.9 72 609C71.9 607.1 72.1 604.2 72.3 602C72.5 599.8 72.7 598.1 73.2 595.5C73.7 592.9 74.5 589.5 75.3 586.5C76 583.5 76.9 580.4 77.7 577.4C78.5 574.4 79.2 571.5 80 568.5C80.8 565.5 81.5 562.3 82.2 559.4C82.9 556.5 83.5 553.6 84.3 551C85 548.4 85.8 545.6 86.7 543.6C87.6 541.6 88.7 540.1 89.8 538.8C90.9 537.5 92.2 536.5 93.5 535.7C94.8 534.9 96 534.6 97.3 534.2C98.6 533.8 99.6 533.2 101.4 533.5Z" fill="none" stroke="#1f77b4" stroke-width="1.5" stroke-linejoin="round" stroke-linecap="round"/><path d="M83.3 514.3C85.2 514.6 87.8 515.7 90 517C92.2 518.3 94 519.9 96.8 522.2C99.6 524.5 103.6 528 107 531C110.4 534 113.9 537.2 117.1 540.2C120.3 543.2 123 546 126 549C129 552 132.4 555.5 135.2 558.3C138 561.1 140.4 563.4 143 566C145.6 568.6 148.5 571.5 151 574C153.5 576.5 155.8 578.7 158 581C160.2 583.3 162.5 585.6 164.5 587.6C166.5 589.6 168.1 591.1 170 592.8C171.9 594.5 174.1 596.7 175.7 597.7C177.3 598.7 178.3 599 179.5 598.9C180.7 598.8 181.7 598 183 597C184.3 596 185.8 594.7 187.5 593.2C189.2 591.7 191.1 589.9 193 588C194.9 586.1 196.9 584.3 198.8 582C200.7 579.7 202.6 576.6 204.5 574C206.4 571.4 207.8 569.1 210 566.2C212.2 563.3 215.3 559.7 218 556.5C220.7 553.3 223.3 549.7 225.9 547C228.5 544.3 230.9 542.6 233.5 540.5C236.1 538.4 238.9 536.4 241.6 534.6C244.3 532.8 246.9 531.3 249.5 529.8C252.1 528.3 255.1 526.6 257.4 525.6C259.6 524.6 261.1 524.2 263 523.7C264.9 523.2 267.2 522.9 268.7 522.9C270.2 522.9 271.1 523.4 272 524C272.9 524.6 273.6 525.3 274.3 526.7C275 528.1 275.9 530.4 276.3 532.5C276.8 534.6 276.9 536.7 277 539.1C277.1 541.5 276.9 544.4 276.6 547C276.4 549.6 276.1 552.2 275.5 554.9C274.9 557.6 273.9 560.4 273 563C272.1 565.6 271 568.7 269.8 570.7C268.6 572.7 267.3 573.9 266 575.2C264.7 576.5 263.3 577.6 261.9 578.6C260.5 579.6 259 580.3 257.5 581.2C256 582.1 254.3 582.8 252.9 584.2C251.5 585.6 250.1 587.6 249 589.5C247.9 591.4 247 593.4 246.2 595.5C245.4 597.6 244.9 599.8 244.3 602C243.7 604.2 243.6 606.8 242.8 609C242 611.2 240.8 613.1 239.5 615C238.2 616.9 236.7 618.7 234.9 620.3C233.1 621.9 230.8 623.4 228.5 624.7C226.2 626 223.9 627.1 221.4 628.1C218.9 629.1 216.1 629.9 213.5 630.5C210.9 631.1 208.4 631.6 205.6 632C202.8 632.4 199.5 632.6 196.5 632.7C193.5 632.8 190.9 632.9 187.5 632.7C184.1 632.5 179.1 631.7 176 631.3C172.9 630.9 171.3 630.4 169 630.4C166.7 630.4 164.2 630.8 162 631C159.8 631.2 157.9 631.7 155.5 631.5C153.1 631.3 150.1 630.5 147.5 629.8C144.9 629 142.4 628.1 139.7 627C137 625.9 134.1 624.5 131.5 623C128.9 621.5 126.3 619.8 123.9 618C121.5 616.2 119.2 614.4 117 612.5C114.8 610.6 112.8 609 110.4 606.7C108 604.4 105.1 601.3 102.5 598.5C99.9 595.7 97.1 592.6 94.6 589.8C92.1 587 89.8 584.3 87.5 581.5C85.2 578.7 82.8 575.6 81.1 572.9C79.4 570.1 78.4 567.6 77.3 565C76.2 562.4 75.1 559.9 74.3 557.1C73.5 554.3 72.8 551 72.3 548C71.8 545 71.6 541.9 71.6 539.1C71.6 536.3 71.8 533.6 72.3 531C72.8 528.4 73.6 525.3 74.3 523.3C75 521.3 75.5 520.1 76.3 518.8C77 517.5 77.6 516.1 78.8 515.4C80 514.6 81.4 514 83.3 514.3Z" fill="none" stroke="#ff7f0e" stroke-width="1.5" stroke-linejoin="round" stroke-linecap="round"/><path d="M80 493.7C81.8 494 84.6 494.9 87 496.2C89.4 497.4 91.9 498.6 94.6 501.2C97.3 503.8 100.2 507.8 103 512C105.8 516.2 108.3 521.5 111.7 526.5C115 531.5 119.2 536.8 123.1 541.9C127 547 131.6 552.2 135.2 557.1C138.8 562 141.5 566.5 144.5 571C147.5 575.5 150.8 580.5 153.2 584.2C155.6 587.9 157.3 590.4 159 593C160.7 595.6 162 597.7 163.3 600C164.6 602.3 165.9 604.7 166.8 606.8C167.7 608.9 168.2 610.8 168.5 612.4C168.8 614 168.6 615.2 168.3 616.3C168 617.4 167.5 618.2 166.7 619.2C165.9 620.2 164.6 621.5 163.3 622.3C162 623.1 160.9 623.8 158.8 623.8C156.7 623.8 153.4 623.4 150.8 622.6C148.2 621.8 145.6 620.2 143 619.2C140.4 618.2 137.8 618.1 135 616.8C132.2 615.5 129.5 613 126.2 611.2C122.9 609.4 118.6 608 115.1 605.9C111.6 603.8 108 601 105 598.6C102 596.2 99.7 594 97.1 591.4C94.5 588.8 91.5 585.5 89.2 582.9C86.9 580.3 85 578.2 83.1 575.9C81.2 573.6 79.6 571.8 77.9 569.3C76.2 566.8 74.6 563.9 73.1 560.9C71.6 557.9 70.1 554.3 68.9 551.3C67.7 548.3 66.8 545.5 66.1 542.9C65.3 540.3 64.8 537.8 64.4 535.5C63.9 533.2 63.4 531.3 63.4 528.9C63.4 526.5 64 523.5 64.2 521C64.4 518.5 64.4 516.2 64.8 514C65.2 511.8 65.7 509.6 66.4 507.5C67.1 505.4 67.9 503 68.8 501.2C69.7 499.4 70.8 497.8 72 496.6C73.2 495.4 74.7 494.7 76 494.2C77.3 493.7 78.2 493.4 80 493.7Z" fill="none" stroke="#2ca02c" stroke-width="1.5" stroke-linejoin="round" stroke-linecap="round"/><path d="M271.6 503.1C273.2 503.2 275.2 503.6 276.7 504.4C278.2 505.2 279.6 506.2 280.8 507.7C282 509.1 283.1 511 283.9 513C284.6 515.1 285.2 517.4 285.5 520.1C285.7 522.8 285.8 526.2 285.6 529.2C285.5 532.3 285.1 535.4 284.5 538.5C284 541.5 283.1 544.5 282.2 547.5C281.3 550.6 280.2 553.7 279 556.8C277.7 559.9 276.3 562.9 274.8 566C273.3 569.1 271.8 572.6 270 575.6C268.1 578.5 265.9 581 263.6 583.7C261.3 586.4 258.7 589.1 256 592C253.3 595 250.1 598.4 247.4 601.2C244.7 604.1 242 606.8 239.5 609.2C237 611.6 234.7 613.7 232.4 615.8C230.1 617.9 228 620 225.7 621.6C223.4 623.1 220.9 624.1 218.6 625C216.3 626 214.2 626.7 211.8 627.1C209.5 627.5 206.7 627.7 204.4 627.5C202.1 627.3 200.1 626.6 198.1 625.9C196.1 625.2 193.9 624.2 192.2 623C190.5 621.9 188.9 620.4 187.8 619C186.7 617.5 186 615.9 185.6 614.4C185.2 612.9 185.1 611.8 185.4 609.9C185.7 607.9 186.3 605.1 187.3 602.8C188.2 600.5 189.4 598.7 190.9 596.2C192.4 593.8 194.5 590.8 196.4 588.1C198.2 585.5 199.9 583.5 202.1 580.2C204.3 577 207.1 572.6 209.7 568.6C212.3 564.7 215.2 560.3 217.9 556.5C220.7 552.7 223.6 549.3 226.4 545.8C229.3 542.3 232.1 538.8 234.9 535.5C237.6 532.2 240.5 529.2 243.2 526.2C245.9 523.2 248.8 520 251.1 517.6C253.4 515.1 255.1 513.5 257 511.6C258.9 509.7 260.7 507.6 262.4 506.3C264.1 505 265.5 504.4 267.1 503.8C268.6 503.3 270 503 271.6 503.1Z" fill="none" stroke="#2ca02c" stroke-width="1.5" stroke-linejoin="round" stroke-linecap="round"/><path d="M80 494.5C81.8 494.8 84.6 495.8 87 497C89.4 498.2 91.9 499.5 94.6 502C97.3 504.5 100 508.1 103 512C106 515.9 109.1 520.8 112.6 525.6C116.1 530.4 120.2 535.8 124 541C127.8 546.2 131.8 552.1 135.2 557.1C138.6 562.1 141.5 566.5 144.5 571C147.5 575.5 150.8 580.5 153.2 584.2C155.6 587.9 157.1 590 159 593C160.9 596 163 599.5 164.5 602.2C166 604.9 167.1 606.9 168 609C168.9 611.1 169.4 613 169.7 614.6C169.9 616.2 169.8 617.4 169.5 618.5C169.2 619.6 168.7 620.4 167.9 621.4C167.1 622.4 165.8 623.7 164.5 624.5C163.2 625.3 162.1 626 160 626C157.9 626 154.6 625.6 152 624.8C149.4 624 147 622.7 144.2 621.4C141.4 620.1 138 618.5 135 616.8C132 615.1 129.4 613.2 126.2 611.2C123 609.2 119.4 607.2 116 605C112.6 602.8 108.9 600.1 105.9 597.7C102.9 595.3 100.6 593.1 98 590.5C95.4 587.9 92.4 584.6 90.1 582C87.8 579.4 85.9 577.3 84 575C82.1 572.7 80.5 570.9 78.8 568.4C77.1 565.9 75.5 563 74 560C72.5 557 71 553.4 69.8 550.4C68.6 547.4 67.8 544.6 67 542C66.2 539.4 65.8 536.9 65.3 534.6C64.8 532.3 64.5 530.3 64.3 528C64.1 525.7 64.1 523.3 64.2 521C64.3 518.7 64.4 516.2 64.8 514C65.2 511.8 65.7 509.5 66.4 507.5C67.1 505.5 67.9 503.7 68.8 502C69.7 500.3 70.8 498.6 72 497.4C73.2 496.2 74.7 495.5 76 495C77.3 494.5 78.2 494.2 80 494.5Z" fill="none" stroke="#d62728" stroke-width="1.5" stroke-linejoin="round" stroke-linecap="round"/><path d="M271 504.2C272.6 504.3 274.5 504.8 276 505.5C277.5 506.2 278.8 507.3 280 508.7C281.2 510.1 282.2 511.9 283 514C283.8 516 284.2 518.3 284.5 521C284.8 523.7 284.8 527 284.6 530C284.4 533 284 536.1 283.4 539.1C282.8 542.1 281.9 545 281 548C280.1 551 278.9 554.1 277.7 557.1C276.4 560.1 275 563 273.5 566C272 569 270.5 572.4 268.7 575.2C266.9 578 264.8 580.4 262.5 583C260.2 585.6 257.8 588.2 255.2 591C252.6 593.8 249.6 597.2 247 600C244.4 602.8 241.8 605.5 239.4 607.9C237 610.3 234.8 612.4 232.5 614.5C230.2 616.6 228.2 618.8 225.9 620.3C223.7 621.8 221.3 622.9 219 623.8C216.7 624.7 214.6 625.5 212.3 625.9C210 626.3 207.2 626.5 205 626.3C202.8 626.1 200.8 625.5 198.8 624.8C196.8 624.1 194.7 623.1 193 622C191.3 620.9 189.8 619.4 188.7 618C187.6 616.6 186.9 615 186.5 613.5C186.1 612 186.1 610.9 186.4 609C186.7 607.1 187.4 604.2 188.3 602C189.2 599.8 190.5 597.9 192 595.5C193.5 593.1 195.6 590.1 197.5 587.5C199.4 584.9 201.1 582.9 203.3 579.7C205.6 576.5 208.4 572.3 211 568.5C213.6 564.7 216.4 560.7 219.1 557.1C221.8 553.5 224.4 550.4 227 547C229.6 543.6 232.2 540 234.9 536.8C237.6 533.5 240.4 530.5 243 527.5C245.6 524.5 248.4 521.2 250.7 518.8C252.9 516.3 254.6 514.7 256.5 512.8C258.4 510.9 260.2 508.8 261.9 507.5C263.6 506.2 265 505.6 266.5 505C268 504.4 269.4 504.1 271 504.2Z" fill="none" stroke="#d62728" stroke-width="1.5" stroke-linejoin="round" stroke-linecap="round"/></g><polygon points="218.4,616.5 219.7,620.3 223.7,620.4 220.5,622.8 221.7,626.6 218.4,624.3 215.1,626.6 216.3,622.8 213.1,620.4 217.1,620.3" fill="#1f77b4" stroke="#111" stroke-width="0.7" stroke-linejoin="miter"/><polygon points="220.2,604.1 221.5,607.9 225.5,608 222.3,610.4 223.5,614.2 220.2,611.9 216.9,614.2 218.1,610.4 214.9,608 218.9,607.9" fill="#ff7f0e" stroke="#111" stroke-width="0.7" stroke-linejoin="miter"/><polygon points="204.5,586.7 205.8,590.5 209.8,590.6 206.6,593 207.8,596.8 204.5,594.5 201.2,596.8 202.4,593 199.2,590.6 203.2,590.5" fill="#2ca02c" stroke="#111" stroke-width="0.7" stroke-linejoin="miter"/><polygon points="211.7,592.8 213,596.6 217,596.7 213.8,599.1 215,602.9 211.7,600.6 208.4,602.9 209.6,599.1 206.4,596.7 210.4,596.6" fill="#d62728" stroke="#111" stroke-width="0.7" stroke-linejoin="miter"/><rect x="54.2" y="353" width="246.4" height="60.2" fill="none" stroke="#929292" stroke-width="1"/><rect x="300.6" y="413.2" width="61.8" height="240.4" fill="none" stroke="#929292" stroke-width="1"/><rect x="54.2" y="413.2" width="246.4" height="240.4" fill="none" stroke="#929292" stroke-width="1"/><g clip-path="url(#c3t)"><path d="M91 353V413.2" stroke="#1f77b4" stroke-width="1.0" stroke-dasharray="3.2 1.4" fill="none"/><path d="M89.2 353V413.2" stroke="#ff7f0e" stroke-width="1.0" stroke-dasharray="3.2 1.4" fill="none"/><path d="M80.8 353V413.2" stroke="#2ca02c" stroke-width="1.0" stroke-dasharray="3.2 1.4" fill="none"/><path d="M80.3 353V413.2" stroke="#d62728" stroke-width="1.0" stroke-dasharray="3.2 1.4" fill="none"/><path d="M254.6 353V413.2" stroke="#1f77b4" stroke-width="1.0" stroke-dasharray="3.2 1.4" fill="none"/><path d="M258.6 353V413.2" stroke="#ff7f0e" stroke-width="1.0" stroke-dasharray="3.2 1.4" fill="none"/><path d="M266.7 353V413.2" stroke="#2ca02c" stroke-width="1.0" stroke-dasharray="3.2 1.4" fill="none"/><path d="M267.2 353V413.2" stroke="#d62728" stroke-width="1.0" stroke-dasharray="3.2 1.4" fill="none"/><path d="M54.2 413.2V412.4H57.1V411.4H60V410.6H62.9V409.1H65.8V408H68.7V406.4H71.6V405.2H74.5V404.2H77.4V402.4H80.3V400.9H83.2V397.8H86.1V395.9H89V391.9H91.9V388.7H94.8V385.9H97.7V383H100.6V379.7H103.5V376.7H106.4V373.5H109.3V370.3H112.2V367.6H115.1V365.2H118V362.2H120.9V360.7H123.8V359.1H126.7V357.8H129.6V357.4H132.5V358.3H135.4V360.4H138.3V363.6H141.2V368.6H144.1V373.9H147V379.3H149.9V384.1H152.8V390H155.7V394.9H158.6V399.1H161.5V401.6H164.4V404.7H167.3V406.6H170.2V407.5H173.1V408.2H176V408.9H178.8V408.8H181.7V408.9H184.6V407.4H187.5V405.8H190.4V402.5H193.3V398.2H196.2V393.1H199.1V384.8H202V376.4H204.9V369.6H207.8V365.6H210.7V362.2H213.6V361.4H216.5V362.9H219.4V365.8H222.3V369H225.2V371.3H228.1V374.9H231V377.8H233.9V380.4H236.8V382.9H239.7V386.6H242.6V389H245.5V392H248.4V393.9H251.3V396.5H254.2V398.2H257.1V399.1H260V400.5H262.9V402.5H265.8V403H268.7V404.2H271.6V405.1H274.5V406.9H277.4V408.2H280.3V409.3H283.2V409.7H286.1V410.9H289V411.2H291.9V411.8H294.8V412.3H297.7V412.9H300.6V413.2" fill="#1f77b4" fill-opacity="0.2"/><path d="M54.2 413.2V412.4H57.1V411.5H60V410.5H62.9V409.8H65.8V407.9H68.7V406.6H71.6V404.8H74.5V403.6H77.4V401.2H80.3V400H83.2V397.1H86.1V395.9H89V394.4H91.9V392.8H94.8V390.8H97.7V389.5H100.6V389.4H103.5V388.6H106.4V386.7H109.3V383.2H112.2V380.5H115.1V376.7H118V372.2H120.9V368.2H123.8V363.9H126.7V361.1H129.6V359.1H132.5V357.5H135.4V358.3H138.3V359.9H141.2V362.4H144.1V366.7H147V371.3H149.9V377.2H152.8V383.5H155.7V388.3H158.6V392.8H161.5V396.5H164.4V400H167.3V402.3H170.2V404H173.1V404.6H176V405.4H178.8V404.8H181.7V404H184.6V403.7H187.5V401.8H190.4V396.7H193.3V392.3H196.2V386.4H199.1V378H202V370.9H204.9V364.5H207.8V359.9H210.7V357.4H213.6V357.4H216.5V360.1H219.4V364.2H222.3V369.1H225.2V373.1H228.1V377.9H231V381H233.9V385.3H236.8V389H239.7V393H242.6V395.1H245.5V396.5H248.4V397.1H251.3V398.5H254.2V397.7H257.1V398.1H260V398.6H262.9V398.6H265.8V398.1H268.7V399.6H271.6V400.2H274.5V403H277.4V405.2H280.3V407.4H283.2V409.4H286.1V410.5H289V411.2H291.9V411.8H294.8V412.3H297.7V412.9H300.6V413.2" fill="#ff7f0e" fill-opacity="0.2"/><path d="M54.2 413.2V412.4H57.1V411.4H60V409.9H62.9V407.7H65.8V404.7H68.7V399.9H71.6V393.7H74.5V388.1H77.4V381.8H80.3V375.1H83.2V368.9H86.1V365H89V362H91.9V361.3H94.8V363.8H97.7V366.6H100.6V368.4H103.5V368.6H106.4V369.2H109.3V369.1H112.2V369.3H115.1V368.3H118V367.5H120.9V367.4H123.8V368.5H126.7V368.3H129.6V369.9H132.5V371.9H135.4V375.6H138.3V379.5H141.2V384.4H144.1V388.9H147V392.7H149.9V397.4H152.8V400.5H155.7V403.3H158.6V406.4H161.5V407.6H164.4V408.5H167.3V409.6H170.2V410.1H173.1V410.6H176V410.8H178.8V410.7H181.7V410.1H184.6V409.5H187.5V408.5H190.4V406.5H193.3V403.4H196.2V400.6H199.1V397.1H202V392.3H204.9V388.6H207.8V385.8H210.7V384H213.6V383.4H216.5V383.5H219.4V384H222.3V383.2H225.2V383.5H228.1V384.5H231V383.8H233.9V385.2H236.8V385.2H239.7V386.5H242.6V387.7H245.5V387.2H248.4V386.9H251.3V386.9H254.2V385.2H257.1V384.9H260V385.5H262.9V386H265.8V386.4H268.7V388.7H271.6V392.3H274.5V395.1H277.4V398.5H280.3V402.8H283.2V406.7H286.1V408.5H289V409.6H291.9V410.7H294.8V411.8H297.7V412.8H300.6V413.2" fill="#2ca02c" fill-opacity="0.2"/><path d="M54.2 413.2V412.3H57.1V410.9H60V409.5H62.9V406.5H65.8V403.6H68.7V399.6H71.6V395.6H74.5V390.3H77.4V384.8H80.3V379.4H83.2V374.7H86.1V372.1H89V371H91.9V371H94.8V370.8H97.7V370.4H100.6V370.7H103.5V370H106.4V369.1H109.3V368.8H112.2V368.1H115.1V366.7H118V366.3H120.9V365.8H123.8V366H126.7V366.7H129.6V368H132.5V369.7H135.4V372.7H138.3V376.3H141.2V380.6H144.1V385.2H147V389.9H149.9V394H152.8V398.5H155.7V401.5H158.6V404.4H161.5V406.1H164.4V407.9H167.3V408.4H170.2V409.2H173.1V409.8H176V409.7H178.8V409.7H181.7V409.6H184.6V408.9H187.5V407.8H190.4V405.1H193.3V402.2H196.2V399.2H199.1V395.3H202V389.2H204.9V386.1H207.8V383H210.7V380.9H213.6V379H216.5V379.1H219.4V380H222.3V380.6H225.2V381.4H228.1V382.7H231V384.4H233.9V384.7H236.8V386.1H239.7V388H242.6V387.2H245.5V387.3H248.4V386.9H251.3V387.1H254.2V387.1H257.1V386.5H260V387.3H262.9V387.8H265.8V388.8H268.7V392.3H271.6V395.8H274.5V399.1H277.4V401.9H280.3V405.6H283.2V408H286.1V409H289V410.1H291.9V411.3H294.8V412.1H297.7V412.8H300.6V413.2" fill="#d62728" fill-opacity="0.2"/><path d="M54.2 413.2V412.4H57.1V411.4H60V410.6H62.9V409.1H65.8V408H68.7V406.4H71.6V405.2H74.5V404.2H77.4V402.4H80.3V400.9H83.2V397.8H86.1V395.9H89V391.9H91.9V388.7H94.8V385.9H97.7V383H100.6V379.7H103.5V376.7H106.4V373.5H109.3V370.3H112.2V367.6H115.1V365.2H118V362.2H120.9V360.7H123.8V359.1H126.7V357.8H129.6V357.4H132.5V358.3H135.4V360.4H138.3V363.6H141.2V368.6H144.1V373.9H147V379.3H149.9V384.1H152.8V390H155.7V394.9H158.6V399.1H161.5V401.6H164.4V404.7H167.3V406.6H170.2V407.5H173.1V408.2H176V408.9H178.8V408.8H181.7V408.9H184.6V407.4H187.5V405.8H190.4V402.5H193.3V398.2H196.2V393.1H199.1V384.8H202V376.4H204.9V369.6H207.8V365.6H210.7V362.2H213.6V361.4H216.5V362.9H219.4V365.8H222.3V369H225.2V371.3H228.1V374.9H231V377.8H233.9V380.4H236.8V382.9H239.7V386.6H242.6V389H245.5V392H248.4V393.9H251.3V396.5H254.2V398.2H257.1V399.1H260V400.5H262.9V402.5H265.8V403H268.7V404.2H271.6V405.1H274.5V406.9H277.4V408.2H280.3V409.3H283.2V409.7H286.1V410.9H289V411.2H291.9V411.8H294.8V412.3H297.7V412.9H300.6V413.2" fill="none" stroke="#1f77b4" stroke-width="1.45" stroke-linejoin="miter"/><path d="M54.2 413.2V412.4H57.1V411.5H60V410.5H62.9V409.8H65.8V407.9H68.7V406.6H71.6V404.8H74.5V403.6H77.4V401.2H80.3V400H83.2V397.1H86.1V395.9H89V394.4H91.9V392.8H94.8V390.8H97.7V389.5H100.6V389.4H103.5V388.6H106.4V386.7H109.3V383.2H112.2V380.5H115.1V376.7H118V372.2H120.9V368.2H123.8V363.9H126.7V361.1H129.6V359.1H132.5V357.5H135.4V358.3H138.3V359.9H141.2V362.4H144.1V366.7H147V371.3H149.9V377.2H152.8V383.5H155.7V388.3H158.6V392.8H161.5V396.5H164.4V400H167.3V402.3H170.2V404H173.1V404.6H176V405.4H178.8V404.8H181.7V404H184.6V403.7H187.5V401.8H190.4V396.7H193.3V392.3H196.2V386.4H199.1V378H202V370.9H204.9V364.5H207.8V359.9H210.7V357.4H213.6V357.4H216.5V360.1H219.4V364.2H222.3V369.1H225.2V373.1H228.1V377.9H231V381H233.9V385.3H236.8V389H239.7V393H242.6V395.1H245.5V396.5H248.4V397.1H251.3V398.5H254.2V397.7H257.1V398.1H260V398.6H262.9V398.6H265.8V398.1H268.7V399.6H271.6V400.2H274.5V403H277.4V405.2H280.3V407.4H283.2V409.4H286.1V410.5H289V411.2H291.9V411.8H294.8V412.3H297.7V412.9H300.6V413.2" fill="none" stroke="#ff7f0e" stroke-width="1.45" stroke-linejoin="miter"/><path d="M54.2 413.2V412.4H57.1V411.4H60V409.9H62.9V407.7H65.8V404.7H68.7V399.9H71.6V393.7H74.5V388.1H77.4V381.8H80.3V375.1H83.2V368.9H86.1V365H89V362H91.9V361.3H94.8V363.8H97.7V366.6H100.6V368.4H103.5V368.6H106.4V369.2H109.3V369.1H112.2V369.3H115.1V368.3H118V367.5H120.9V367.4H123.8V368.5H126.7V368.3H129.6V369.9H132.5V371.9H135.4V375.6H138.3V379.5H141.2V384.4H144.1V388.9H147V392.7H149.9V397.4H152.8V400.5H155.7V403.3H158.6V406.4H161.5V407.6H164.4V408.5H167.3V409.6H170.2V410.1H173.1V410.6H176V410.8H178.8V410.7H181.7V410.1H184.6V409.5H187.5V408.5H190.4V406.5H193.3V403.4H196.2V400.6H199.1V397.1H202V392.3H204.9V388.6H207.8V385.8H210.7V384H213.6V383.4H216.5V383.5H219.4V384H222.3V383.2H225.2V383.5H228.1V384.5H231V383.8H233.9V385.2H236.8V385.2H239.7V386.5H242.6V387.7H245.5V387.2H248.4V386.9H251.3V386.9H254.2V385.2H257.1V384.9H260V385.5H262.9V386H265.8V386.4H268.7V388.7H271.6V392.3H274.5V395.1H277.4V398.5H280.3V402.8H283.2V406.7H286.1V408.5H289V409.6H291.9V410.7H294.8V411.8H297.7V412.8H300.6V413.2" fill="none" stroke="#2ca02c" stroke-width="1.45" stroke-linejoin="miter"/><path d="M54.2 413.2V412.3H57.1V410.9H60V409.5H62.9V406.5H65.8V403.6H68.7V399.6H71.6V395.6H74.5V390.3H77.4V384.8H80.3V379.4H83.2V374.7H86.1V372.1H89V371H91.9V371H94.8V370.8H97.7V370.4H100.6V370.7H103.5V370H106.4V369.1H109.3V368.8H112.2V368.1H115.1V366.7H118V366.3H120.9V365.8H123.8V366H126.7V366.7H129.6V368H132.5V369.7H135.4V372.7H138.3V376.3H141.2V380.6H144.1V385.2H147V389.9H149.9V394H152.8V398.5H155.7V401.5H158.6V404.4H161.5V406.1H164.4V407.9H167.3V408.4H170.2V409.2H173.1V409.8H176V409.7H178.8V409.7H181.7V409.6H184.6V408.9H187.5V407.8H190.4V405.1H193.3V402.2H196.2V399.2H199.1V395.3H202V389.2H204.9V386.1H207.8V383H210.7V380.9H213.6V379H216.5V379.1H219.4V380H222.3V380.6H225.2V381.4H228.1V382.7H231V384.4H233.9V384.7H236.8V386.1H239.7V388H242.6V387.2H245.5V387.3H248.4V386.9H251.3V387.1H254.2V387.1H257.1V386.5H260V387.3H262.9V387.8H265.8V388.8H268.7V392.3H271.6V395.8H274.5V399.1H277.4V401.9H280.3V405.6H283.2V408H286.1V409H289V410.1H291.9V411.3H294.8V412.1H297.7V412.8H300.6V413.2" fill="none" stroke="#d62728" stroke-width="1.45" stroke-linejoin="miter"/></g><g clip-path="url(#c3r)"><path d="M300.6 552H362.4" stroke="#1f77b4" stroke-width="1.0" stroke-dasharray="3.2 1.4" fill="none"/><path d="M300.6 533.1H362.4" stroke="#ff7f0e" stroke-width="1.0" stroke-dasharray="3.2 1.4" fill="none"/><path d="M300.6 514.7H362.4" stroke="#2ca02c" stroke-width="1.0" stroke-dasharray="3.2 1.4" fill="none"/><path d="M300.6 515.1H362.4" stroke="#d62728" stroke-width="1.0" stroke-dasharray="3.2 1.4" fill="none"/><path d="M300.6 623.3H362.4" stroke="#1f77b4" stroke-width="1.0" stroke-dasharray="3.2 1.4" fill="none"/><path d="M300.6 619.8H362.4" stroke="#ff7f0e" stroke-width="1.0" stroke-dasharray="3.2 1.4" fill="none"/><path d="M300.6 611.6H362.4" stroke="#2ca02c" stroke-width="1.0" stroke-dasharray="3.2 1.4" fill="none"/><path d="M300.6 612H362.4" stroke="#d62728" stroke-width="1.0" stroke-dasharray="3.2 1.4" fill="none"/><path d="M300.6 502.7H300.6V505.4H300.7V508.2H300.9V511H301.1V513.8H301.3V516.6H301.7V519.4H302V522.2H302.5V525H302.7V527.8H303.2V530.6H303.7V533.4H304.3V536.2H304.6V539H305.4V541.8H306.2V544.6H306.6V547.4H307.9V550.2H308.7V553H310V555.8H310.8V558.6H312.7V561.4H314V564.1H315.9V566.9H317.6V569.7H320.4V572.5H323.3V575.3H327.7V578.1H331.6V580.9H336.5V583.7H340.4V586.5H344.3V589.3H347.5V592.1H351.3V594.9H353.9V597.7H356.2V600.5H358.1V603.3H359V606.1H358.6V608.9H356.3V611.7H350V614.5H343.2V617.3H334.9V620.1H327.5V622.9H319.7V625.6H313.2V628.4H309.4V631.2H306V634H303.1V636.8H302V639.6H301.2V642.4H301V645.2H300.7V648H300.6" fill="#1f77b4" fill-opacity="0.2"/><path d="M300.6 488.7H300.6V491.5H300.9V494.3H301.2V497.1H301.6V499.9H302V502.7H302.3V505.4H302.8V508.2H303.3V511H303.9V513.8H304.1V516.6H304.6V519.4H305.4V522.2H305.7V525H306.7V527.8H306.9V530.6H307.7V533.4H309.2V536.2H309.9V539H310.3V541.8H311.2V544.6H312.4V547.4H313.5V550.2H315.2V553H315.7V555.8H318V558.6H319.2V561.4H320.9V564.1H322.1V566.9H324.2V569.7H326.2V572.5H328.2V575.3H330.8V578.1H333.1V580.9H335.5V583.7H337.9V586.5H341.2V589.3H343.7V592.1H346V594.9H348.6V597.7H350.1V600.5H351.5V603.3H352.2V606.1H349.9V608.9H348V611.7H344.7V614.5H337.5V617.3H330.5V620.1H322.2V622.9H316.5V625.6H310.7V628.4H305.9V631.2H303.6V634H302.2V636.8H301.3V639.6H300.9V642.4H300.7V645.2H300.6" fill="#ff7f0e" fill-opacity="0.2"/><path d="M300.6 471.9H300.6V474.7H301V477.5H301.4V480.3H301.8V483.1H302.3V485.9H303V488.7H303.7V491.5H304.1V494.3H305.3V497.1H306.3V499.9H307.5V502.7H308.6V505.4H309.6V508.2H310.9V511H311.6V513.8H313.3V516.6H315.1V519.4H317.3V522.2H318.6V525H320.5V527.8H322.2V530.6H324.2V533.4H326.2V536.2H326.9V539H328V541.8H329.7V544.6H330.1V547.4H331.3V550.2H331.8V553H332.4V555.8H332.5V558.6H333.2V561.4H333.5V564.1H333.6V566.9H333.4V569.7H333V572.5H332.8V575.3H332.5V578.1H331.5V580.9H331.1V583.7H331.4V586.5H330.4V589.3H329V592.1H328V594.9H327.6V597.7H326V600.5H323.3V603.3H320.7V606.1H318.4V608.9H315.7V611.7H312.3V614.5H310.3V617.3H308.2V620.1H306.9V622.9H305.5V625.6H304V628.4H303V631.2H302V634H301.5V636.8H300.9V639.6H300.8V642.4H300.7V645.2H300.6" fill="#2ca02c" fill-opacity="0.2"/><path d="M300.6 471.9H300.6V474.7H301V477.5H301.3V480.3H301.8V483.1H302.4V485.9H302.9V488.7H303.4V491.5H304.4V494.3H305.3V497.1H306.3V499.9H306.4V502.7H308.1V505.4H308.3V508.2H309V511H311V513.8H312.2V516.6H313.2V519.4H314.6V522.2H316.4V525H318V527.8H319.4V530.6H321.1V533.4H323V536.2H324.2V539H325.8V541.8H327.1V544.6H327.4V547.4H328V550.2H329.5V553H329.6V555.8H330.9V558.6H331.8V561.4H331.5V564.1H332.5V566.9H333.4V569.7H333.2V572.5H334.1V575.3H334.4V578.1H334.4V580.9H333.8V583.7H333.7V586.5H334.3V589.3H333.5V592.1H333.8V594.9H332.8V597.7H331V600.5H328.3V603.3H324.8V606.1H321.4V608.9H317V611.7H314.3V614.5H311.3V617.3H309.4V620.1H306.9V622.9H306.1V625.6H304.5V628.4H303.5V631.2H302.3V634H301.6V636.8H301.1V639.6H300.8V642.4H300.7V645.2H300.6" fill="#d62728" fill-opacity="0.2"/><path d="M300.6 502.7H300.6V505.4H300.7V508.2H300.9V511H301.1V513.8H301.3V516.6H301.7V519.4H302V522.2H302.5V525H302.7V527.8H303.2V530.6H303.7V533.4H304.3V536.2H304.6V539H305.4V541.8H306.2V544.6H306.6V547.4H307.9V550.2H308.7V553H310V555.8H310.8V558.6H312.7V561.4H314V564.1H315.9V566.9H317.6V569.7H320.4V572.5H323.3V575.3H327.7V578.1H331.6V580.9H336.5V583.7H340.4V586.5H344.3V589.3H347.5V592.1H351.3V594.9H353.9V597.7H356.2V600.5H358.1V603.3H359V606.1H358.6V608.9H356.3V611.7H350V614.5H343.2V617.3H334.9V620.1H327.5V622.9H319.7V625.6H313.2V628.4H309.4V631.2H306V634H303.1V636.8H302V639.6H301.2V642.4H301V645.2H300.7V648H300.6" fill="none" stroke="#1f77b4" stroke-width="1.45" stroke-linejoin="miter"/><path d="M300.6 488.7H300.6V491.5H300.9V494.3H301.2V497.1H301.6V499.9H302V502.7H302.3V505.4H302.8V508.2H303.3V511H303.9V513.8H304.1V516.6H304.6V519.4H305.4V522.2H305.7V525H306.7V527.8H306.9V530.6H307.7V533.4H309.2V536.2H309.9V539H310.3V541.8H311.2V544.6H312.4V547.4H313.5V550.2H315.2V553H315.7V555.8H318V558.6H319.2V561.4H320.9V564.1H322.1V566.9H324.2V569.7H326.2V572.5H328.2V575.3H330.8V578.1H333.1V580.9H335.5V583.7H337.9V586.5H341.2V589.3H343.7V592.1H346V594.9H348.6V597.7H350.1V600.5H351.5V603.3H352.2V606.1H349.9V608.9H348V611.7H344.7V614.5H337.5V617.3H330.5V620.1H322.2V622.9H316.5V625.6H310.7V628.4H305.9V631.2H303.6V634H302.2V636.8H301.3V639.6H300.9V642.4H300.7V645.2H300.6" fill="none" stroke="#ff7f0e" stroke-width="1.45" stroke-linejoin="miter"/><path d="M300.6 471.9H300.6V474.7H301V477.5H301.4V480.3H301.8V483.1H302.3V485.9H303V488.7H303.7V491.5H304.1V494.3H305.3V497.1H306.3V499.9H307.5V502.7H308.6V505.4H309.6V508.2H310.9V511H311.6V513.8H313.3V516.6H315.1V519.4H317.3V522.2H318.6V525H320.5V527.8H322.2V530.6H324.2V533.4H326.2V536.2H326.9V539H328V541.8H329.7V544.6H330.1V547.4H331.3V550.2H331.8V553H332.4V555.8H332.5V558.6H333.2V561.4H333.5V564.1H333.6V566.9H333.4V569.7H333V572.5H332.8V575.3H332.5V578.1H331.5V580.9H331.1V583.7H331.4V586.5H330.4V589.3H329V592.1H328V594.9H327.6V597.7H326V600.5H323.3V603.3H320.7V606.1H318.4V608.9H315.7V611.7H312.3V614.5H310.3V617.3H308.2V620.1H306.9V622.9H305.5V625.6H304V628.4H303V631.2H302V634H301.5V636.8H300.9V639.6H300.8V642.4H300.7V645.2H300.6" fill="none" stroke="#2ca02c" stroke-width="1.45" stroke-linejoin="miter"/><path d="M300.6 471.9H300.6V474.7H301V477.5H301.3V480.3H301.8V483.1H302.4V485.9H302.9V488.7H303.4V491.5H304.4V494.3H305.3V497.1H306.3V499.9H306.4V502.7H308.1V505.4H308.3V508.2H309V511H311V513.8H312.2V516.6H313.2V519.4H314.6V522.2H316.4V525H318V527.8H319.4V530.6H321.1V533.4H323V536.2H324.2V539H325.8V541.8H327.1V544.6H327.4V547.4H328V550.2H329.5V553H329.6V555.8H330.9V558.6H331.8V561.4H331.5V564.1H332.5V566.9H333.4V569.7H333.2V572.5H334.1V575.3H334.4V578.1H334.4V580.9H333.8V583.7H333.7V586.5H334.3V589.3H333.5V592.1H333.8V594.9H332.8V597.7H331V600.5H328.3V603.3H324.8V606.1H321.4V608.9H317V611.7H314.3V614.5H311.3V617.3H309.4V620.1H306.9V622.9H306.1V625.6H304.5V628.4H303.5V631.2H302.3V634H301.6V636.8H301.1V639.6H300.8V642.4H300.7V645.2H300.6" fill="none" stroke="#d62728" stroke-width="1.45" stroke-linejoin="miter"/></g><path d="M92.8 653.6v3M132.1 653.6v3M171.4 653.6v3M210.8 653.6v3M250.2 653.6v3M289.5 653.6v3M61.3 653.6v1.7M69.1 653.6v1.7M77 653.6v1.7M84.9 653.6v1.7M100.6 653.6v1.7M108.5 653.6v1.7M116.4 653.6v1.7M124.2 653.6v1.7M140 653.6v1.7M147.8 653.6v1.7M155.7 653.6v1.7M163.6 653.6v1.7M179.3 653.6v1.7M187.2 653.6v1.7M195.1 653.6v1.7M202.9 653.6v1.7M218.7 653.6v1.7M226.5 653.6v1.7M234.4 653.6v1.7M242.3 653.6v1.7M258 653.6v1.7M265.9 653.6v1.7M273.8 653.6v1.7M281.6 653.6v1.7M297.4 653.6v1.7" stroke="#929292" stroke-width="0.8" fill="none"/><path d="M54.2 607.5h-3M54.2 554h-3M54.2 500.5h-3M54.2 447h-3M54.2 647.6h-1.7M54.2 634.2h-1.7M54.2 620.9h-1.7M54.2 594.1h-1.7M54.2 580.8h-1.7M54.2 567.4h-1.7M54.2 540.6h-1.7M54.2 527.2h-1.7M54.2 513.9h-1.7M54.2 487.1h-1.7M54.2 473.8h-1.7M54.2 460.4h-1.7M54.2 433.6h-1.7M54.2 420.2h-1.7" stroke="#929292" stroke-width="0.8" fill="none"/><path d="M54.2 411h-1.3M54.2 408.9h-1.3M54.2 406.7h-1.3M54.2 404.5h-1.3M54.2 402.3h-1.3M54.2 400.2h-1.3M54.2 398h-1.3M54.2 395.8h-1.3M54.2 393.7h-1.3M54.2 391.5h-2.6M54.2 389.3h-1.3M54.2 387.2h-1.3M54.2 385h-1.3M54.2 382.8h-1.3M54.2 380.6h-1.3M54.2 378.5h-1.3M54.2 376.3h-1.3M54.2 374.1h-1.3M54.2 372h-1.3M54.2 369.8h-2.6M54.2 367.6h-1.3M54.2 365.5h-1.3M54.2 363.3h-1.3M54.2 361.1h-1.3M54.2 358.9h-1.3M54.2 356.8h-1.3M54.2 354.6h-1.3M302.8 653.6v1.3M305 653.6v1.3M307.2 653.6v1.3M309.4 653.6v1.3M311.6 653.6v1.3M313.8 653.6v1.3M316 653.6v1.3M318.2 653.6v1.3M320.4 653.6v1.3M322.6 653.6v2.6M324.8 653.6v1.3M327 653.6v1.3M329.2 653.6v1.3M331.4 653.6v1.3M333.6 653.6v1.3M335.8 653.6v1.3M338 653.6v1.3M340.2 653.6v1.3M342.4 653.6v1.3M344.6 653.6v2.6M346.8 653.6v1.3M349 653.6v1.3M351.2 653.6v1.3M353.4 653.6v1.3M355.6 653.6v1.3M357.8 653.6v1.3M360 653.6v1.3" stroke="#929292" stroke-width="0.7" fill="none"/><g font-family="'DejaVu Sans','Liberation Sans',sans-serif" font-size="11.4" fill="#262626" text-anchor="middle"><text x="92.8" y="666.4">0.5</text><text x="132.1" y="666.4">1.0</text><text x="171.4" y="666.4">1.5</text><text x="210.8" y="666.4">2.0</text><text x="250.2" y="666.4">2.5</text><text x="289.5" y="666.4">3.0</text></g><g font-family="'DejaVu Sans','Liberation Sans',sans-serif" font-size="11.4" fill="#262626" text-anchor="end"><text x="49.3" y="612.3">2000</text><text x="49.3" y="558.8">4000</text><text x="49.3" y="505.3">6000</text><text x="49.3" y="451.8">8000</text></g><rect x="251.1" y="423.6" width="10.2" height="7.3" fill="none" stroke="#1f77b4" stroke-width="1.1"/><text x="270" y="431.6" font-family="'Liberation Serif','DejaVu Serif',serif" font-size="12.5" fill="#262626"><tspan font-style="italic">ℓ</tspan><tspan dx="2.5">≤</tspan><tspan dx="0.5">2</tspan></text><rect x="251.1" y="439.6" width="10.2" height="7.3" fill="none" stroke="#ff7f0e" stroke-width="1.1"/><text x="270" y="447.6" font-family="'Liberation Serif','DejaVu Serif',serif" font-size="12.5" fill="#262626"><tspan font-style="italic">ℓ</tspan><tspan dx="2.5">≤</tspan><tspan dx="0.5">3</tspan></text><rect x="251.1" y="455.5" width="10.2" height="7.3" fill="none" stroke="#2ca02c" stroke-width="1.1"/><text x="270" y="463.5" font-family="'Liberation Serif','DejaVu Serif',serif" font-size="12.5" fill="#262626"><tspan font-style="italic">ℓ</tspan><tspan dx="2.5">≤</tspan><tspan dx="0.5">4</tspan></text><rect x="251.1" y="471.4" width="10.2" height="7.3" fill="none" stroke="#d62728" stroke-width="1.1"/><text x="270" y="479.4" font-family="'Liberation Serif','DejaVu Serif',serif" font-size="12.5" fill="#262626"><tspan font-style="italic">ℓ</tspan><tspan dx="2.5">≤</tspan><tspan dx="0.5">5</tspan></text><text x="152.3" y="683" font-family="'Liberation Serif','DejaVu Serif',serif" font-size="14" fill="#262626"><tspan font-style="italic">θ</tspan><tspan font-size="9" dy="3.3" dx="-0.5">JN</tspan><tspan dy="-3.3" dx="0.8" font-family="'DejaVu Sans','Liberation Sans',sans-serif" font-size="13.6">[rad]</tspan></text><text transform="translate(13.4,561) rotate(-90)" font-family="'Liberation Serif','DejaVu Serif',serif" font-size="14.5" fill="#262626"><tspan font-style="italic">D</tspan><tspan font-size="9.5" dy="3" font-style="italic">L</tspan><tspan dy="-3" dx="0.5" font-family="'DejaVu Sans','Liberation Sans',sans-serif" font-size="14">[Mpc]</tspan></text><clipPath id="c4m"><rect x="422.2" y="412.3" width="248.3" height="242.3"/></clipPath><clipPath id="c4t"><rect x="421.6" y="351.6" width="249.5" height="61.4"/></clipPath><clipPath id="c4r"><rect x="669.8" y="411.7" width="63.2" height="243.5"/></clipPath><g clip-path="url(#c4m)"><path fill="#fefcfc" d="M593.2 433.8h5.25v5.25h-5.25zM598.2 433.8h5.25v5.25h-5.25zM603.2 433.8h5.25v5.25h-5.25zM608.2 433.8h5.25v5.25h-5.25zM613.2 433.8h5.25v5.25h-5.25zM618.2 433.8h5.25v5.25h-5.25zM623.2 433.8h5.25v5.25h-5.25zM578.2 438.8h5.25v5.25h-5.25zM583.2 438.8h5.25v5.25h-5.25zM588.2 438.8h5.25v5.25h-5.25zM593.2 438.8h5.25v5.25h-5.25zM598.2 438.8h5.25v5.25h-5.25zM603.2 438.8h5.25v5.25h-5.25zM628.2 438.8h5.25v5.25h-5.25zM633.2 438.8h5.25v5.25h-5.25zM638.2 438.8h5.25v5.25h-5.25zM573.2 443.8h5.25v5.25h-5.25zM578.2 443.8h5.25v5.25h-5.25zM643.2 443.8h5.25v5.25h-5.25zM648.2 443.8h5.25v5.25h-5.25zM568.2 448.8h5.25v5.25h-5.25zM573.2 448.8h5.25v5.25h-5.25zM653.2 448.8h5.25v5.25h-5.25zM658.2 448.8h5.25v5.25h-5.25zM558.2 453.8h5.25v5.25h-5.25zM563.2 453.8h5.25v5.25h-5.25zM663.2 453.8h5.25v5.25h-5.25zM548.2 458.8h5.25v5.25h-5.25zM553.2 458.8h5.25v5.25h-5.25zM558.2 458.8h5.25v5.25h-5.25zM668.2 458.8h2.55v5.25h-2.55zM543.2 463.8h5.25v5.25h-5.25zM548.2 463.8h5.25v5.25h-5.25zM533.2 468.8h5.25v5.25h-5.25zM538.2 468.8h5.25v5.25h-5.25zM523.2 473.8h5.25v5.25h-5.25zM528.2 473.8h5.25v5.25h-5.25zM518.2 478.8h5.25v5.25h-5.25zM523.2 478.8h5.25v5.25h-5.25zM508.2 483.8h5.25v5.25h-5.25zM513.2 483.8h5.25v5.25h-5.25zM503.2 488.8h5.25v5.25h-5.25zM508.2 488.8h5.25v5.25h-5.25zM498.2 493.8h5.25v5.25h-5.25zM503.2 493.8h5.25v5.25h-5.25zM498.2 498.8h5.25v5.25h-5.25zM493.2 503.8h5.25v5.25h-5.25zM488.2 508.8h5.25v5.25h-5.25zM493.2 508.8h5.25v5.25h-5.25zM488.2 513.8h5.25v5.25h-5.25zM488.2 518.8h5.25v5.25h-5.25zM488.2 523.8h5.25v5.25h-5.25zM488.2 528.8h5.25v5.25h-5.25zM488.2 533.8h5.25v5.25h-5.25zM488.2 538.8h5.25v5.25h-5.25zM493.2 538.8h5.25v5.25h-5.25zM493.2 543.8h5.25v5.25h-5.25zM493.2 548.8h5.25v5.25h-5.25zM498.2 548.8h5.25v5.25h-5.25zM498.2 553.8h5.25v5.25h-5.25zM498.2 558.8h5.25v5.25h-5.25zM503.2 558.8h5.25v5.25h-5.25zM503.2 563.8h5.25v5.25h-5.25zM508.2 563.8h5.25v5.25h-5.25zM508.2 568.8h5.25v5.25h-5.25zM513.2 568.8h5.25v5.25h-5.25zM508.2 573.8h5.25v5.25h-5.25zM513.2 573.8h5.25v5.25h-5.25zM518.2 573.8h5.25v5.25h-5.25zM513.2 578.8h5.25v5.25h-5.25zM518.2 578.8h5.25v5.25h-5.25zM523.2 578.8h5.25v5.25h-5.25zM528.2 578.8h5.25v5.25h-5.25zM533.2 578.8h5.25v5.25h-5.25zM668.2 578.8h2.55v5.25h-2.55zM523.2 583.8h5.25v5.25h-5.25zM528.2 583.8h5.25v5.25h-5.25zM533.2 583.8h5.25v5.25h-5.25zM538.2 583.8h5.25v5.25h-5.25zM543.2 583.8h5.25v5.25h-5.25zM548.2 583.8h5.25v5.25h-5.25zM663.2 583.8h5.25v5.25h-5.25zM668.2 583.8h2.55v5.25h-2.55zM533.2 588.8h5.25v5.25h-5.25zM538.2 588.8h5.25v5.25h-5.25zM543.2 588.8h5.25v5.25h-5.25zM548.2 588.8h5.25v5.25h-5.25zM553.2 588.8h5.25v5.25h-5.25zM558.2 588.8h5.25v5.25h-5.25zM563.2 588.8h5.25v5.25h-5.25zM568.2 588.8h5.25v5.25h-5.25zM573.2 588.8h5.25v5.25h-5.25zM648.2 588.8h5.25v5.25h-5.25zM653.2 588.8h5.25v5.25h-5.25zM658.2 588.8h5.25v5.25h-5.25zM543.2 593.8h5.25v5.25h-5.25zM548.2 593.8h5.25v5.25h-5.25zM553.2 593.8h5.25v5.25h-5.25zM558.2 593.8h5.25v5.25h-5.25zM563.2 593.8h5.25v5.25h-5.25zM568.2 593.8h5.25v5.25h-5.25zM573.2 593.8h5.25v5.25h-5.25zM578.2 593.8h5.25v5.25h-5.25zM583.2 593.8h5.25v5.25h-5.25zM588.2 593.8h5.25v5.25h-5.25zM593.2 593.8h5.25v5.25h-5.25zM598.2 593.8h5.25v5.25h-5.25zM603.2 593.8h5.25v5.25h-5.25zM608.2 593.8h5.25v5.25h-5.25zM613.2 593.8h5.25v5.25h-5.25zM618.2 593.8h5.25v5.25h-5.25zM623.2 593.8h5.25v5.25h-5.25zM628.2 593.8h5.25v5.25h-5.25zM633.2 593.8h5.25v5.25h-5.25zM638.2 593.8h5.25v5.25h-5.25zM643.2 593.8h5.25v5.25h-5.25zM648.2 593.8h5.25v5.25h-5.25zM553.2 598.8h5.25v5.25h-5.25zM558.2 598.8h5.25v5.25h-5.25zM563.2 598.8h5.25v5.25h-5.25zM568.2 598.8h5.25v5.25h-5.25zM573.2 598.8h5.25v5.25h-5.25zM578.2 598.8h5.25v5.25h-5.25zM583.2 598.8h5.25v5.25h-5.25zM588.2 598.8h5.25v5.25h-5.25zM593.2 598.8h5.25v5.25h-5.25zM598.2 598.8h5.25v5.25h-5.25zM603.2 598.8h5.25v5.25h-5.25zM608.2 598.8h5.25v5.25h-5.25zM613.2 598.8h5.25v5.25h-5.25zM618.2 598.8h5.25v5.25h-5.25zM623.2 598.8h5.25v5.25h-5.25zM628.2 598.8h5.25v5.25h-5.25zM568.2 603.8h5.25v5.25h-5.25zM573.2 603.8h5.25v5.25h-5.25zM578.2 603.8h5.25v5.25h-5.25zM583.2 603.8h5.25v5.25h-5.25zM588.2 603.8h5.25v5.25h-5.25zM593.2 603.8h5.25v5.25h-5.25z"/><path fill="#fef8f8" d="M608.2 438.8h5.25v5.25h-5.25zM613.2 438.8h5.25v5.25h-5.25zM618.2 438.8h5.25v5.25h-5.25zM623.2 438.8h5.25v5.25h-5.25zM583.2 443.8h5.25v5.25h-5.25zM588.2 443.8h5.25v5.25h-5.25zM593.2 443.8h5.25v5.25h-5.25zM598.2 443.8h5.25v5.25h-5.25zM603.2 443.8h5.25v5.25h-5.25zM638.2 443.8h5.25v5.25h-5.25zM578.2 448.8h5.25v5.25h-5.25zM583.2 448.8h5.25v5.25h-5.25zM588.2 448.8h5.25v5.25h-5.25zM648.2 448.8h5.25v5.25h-5.25zM568.2 453.8h5.25v5.25h-5.25zM573.2 453.8h5.25v5.25h-5.25zM658.2 453.8h5.25v5.25h-5.25zM563.2 458.8h5.25v5.25h-5.25zM663.2 458.8h5.25v5.25h-5.25zM553.2 463.8h5.25v5.25h-5.25zM668.2 463.8h2.55v5.25h-2.55zM543.2 468.8h5.25v5.25h-5.25zM533.2 473.8h5.25v5.25h-5.25zM538.2 473.8h5.25v5.25h-5.25zM528.2 478.8h5.25v5.25h-5.25zM518.2 483.8h5.25v5.25h-5.25zM523.2 483.8h5.25v5.25h-5.25zM513.2 488.8h5.25v5.25h-5.25zM508.2 493.8h5.25v5.25h-5.25zM503.2 498.8h5.25v5.25h-5.25zM498.2 503.8h5.25v5.25h-5.25zM503.2 503.8h5.25v5.25h-5.25zM498.2 508.8h5.25v5.25h-5.25zM493.2 513.8h5.25v5.25h-5.25zM493.2 518.8h5.25v5.25h-5.25zM493.2 523.8h5.25v5.25h-5.25zM493.2 528.8h5.25v5.25h-5.25zM493.2 533.8h5.25v5.25h-5.25zM498.2 538.8h5.25v5.25h-5.25zM498.2 543.8h5.25v5.25h-5.25zM503.2 548.8h5.25v5.25h-5.25zM503.2 553.8h5.25v5.25h-5.25zM508.2 553.8h5.25v5.25h-5.25zM508.2 558.8h5.25v5.25h-5.25zM513.2 558.8h5.25v5.25h-5.25zM518.2 558.8h5.25v5.25h-5.25zM513.2 563.8h5.25v5.25h-5.25zM518.2 563.8h5.25v5.25h-5.25zM523.2 563.8h5.25v5.25h-5.25zM518.2 568.8h5.25v5.25h-5.25zM523.2 568.8h5.25v5.25h-5.25zM528.2 568.8h5.25v5.25h-5.25zM533.2 568.8h5.25v5.25h-5.25zM538.2 568.8h5.25v5.25h-5.25zM523.2 573.8h5.25v5.25h-5.25zM528.2 573.8h5.25v5.25h-5.25zM533.2 573.8h5.25v5.25h-5.25zM538.2 573.8h5.25v5.25h-5.25zM543.2 573.8h5.25v5.25h-5.25zM548.2 573.8h5.25v5.25h-5.25zM553.2 573.8h5.25v5.25h-5.25zM538.2 578.8h5.25v5.25h-5.25zM543.2 578.8h5.25v5.25h-5.25zM548.2 578.8h5.25v5.25h-5.25zM553.2 578.8h5.25v5.25h-5.25zM558.2 578.8h5.25v5.25h-5.25zM563.2 578.8h5.25v5.25h-5.25zM568.2 578.8h5.25v5.25h-5.25zM573.2 578.8h5.25v5.25h-5.25zM663.2 578.8h5.25v5.25h-5.25zM553.2 583.8h5.25v5.25h-5.25zM558.2 583.8h5.25v5.25h-5.25zM563.2 583.8h5.25v5.25h-5.25zM568.2 583.8h5.25v5.25h-5.25zM573.2 583.8h5.25v5.25h-5.25zM578.2 583.8h5.25v5.25h-5.25zM583.2 583.8h5.25v5.25h-5.25zM588.2 583.8h5.25v5.25h-5.25zM593.2 583.8h5.25v5.25h-5.25zM598.2 583.8h5.25v5.25h-5.25zM603.2 583.8h5.25v5.25h-5.25zM653.2 583.8h5.25v5.25h-5.25zM658.2 583.8h5.25v5.25h-5.25zM578.2 588.8h5.25v5.25h-5.25zM583.2 588.8h5.25v5.25h-5.25zM588.2 588.8h5.25v5.25h-5.25zM593.2 588.8h5.25v5.25h-5.25zM598.2 588.8h5.25v5.25h-5.25zM603.2 588.8h5.25v5.25h-5.25zM608.2 588.8h5.25v5.25h-5.25zM613.2 588.8h5.25v5.25h-5.25zM618.2 588.8h5.25v5.25h-5.25zM623.2 588.8h5.25v5.25h-5.25zM628.2 588.8h5.25v5.25h-5.25zM633.2 588.8h5.25v5.25h-5.25zM638.2 588.8h5.25v5.25h-5.25zM643.2 588.8h5.25v5.25h-5.25z"/><path fill="#fdf5f5" d="M608.2 443.8h5.25v5.25h-5.25zM633.2 443.8h5.25v5.25h-5.25zM593.2 448.8h5.25v5.25h-5.25zM598.2 448.8h5.25v5.25h-5.25zM603.2 448.8h5.25v5.25h-5.25zM643.2 448.8h5.25v5.25h-5.25zM578.2 453.8h5.25v5.25h-5.25zM583.2 453.8h5.25v5.25h-5.25zM588.2 453.8h5.25v5.25h-5.25zM653.2 453.8h5.25v5.25h-5.25zM568.2 458.8h5.25v5.25h-5.25zM558.2 463.8h5.25v5.25h-5.25zM548.2 468.8h5.25v5.25h-5.25zM553.2 468.8h5.25v5.25h-5.25zM543.2 473.8h5.25v5.25h-5.25zM533.2 478.8h5.25v5.25h-5.25zM528.2 483.8h5.25v5.25h-5.25zM518.2 488.8h5.25v5.25h-5.25zM523.2 488.8h5.25v5.25h-5.25zM513.2 493.8h5.25v5.25h-5.25zM518.2 493.8h5.25v5.25h-5.25zM508.2 498.8h5.25v5.25h-5.25zM513.2 498.8h5.25v5.25h-5.25zM508.2 503.8h5.25v5.25h-5.25zM503.2 508.8h5.25v5.25h-5.25zM508.2 508.8h5.25v5.25h-5.25zM498.2 513.8h5.25v5.25h-5.25zM503.2 513.8h5.25v5.25h-5.25zM498.2 518.8h5.25v5.25h-5.25zM503.2 518.8h5.25v5.25h-5.25zM498.2 523.8h5.25v5.25h-5.25zM503.2 523.8h5.25v5.25h-5.25zM498.2 528.8h5.25v5.25h-5.25zM503.2 528.8h5.25v5.25h-5.25zM498.2 533.8h5.25v5.25h-5.25zM503.2 533.8h5.25v5.25h-5.25zM508.2 533.8h5.25v5.25h-5.25zM503.2 538.8h5.25v5.25h-5.25zM508.2 538.8h5.25v5.25h-5.25zM503.2 543.8h5.25v5.25h-5.25zM508.2 543.8h5.25v5.25h-5.25zM513.2 543.8h5.25v5.25h-5.25zM508.2 548.8h5.25v5.25h-5.25zM513.2 548.8h5.25v5.25h-5.25zM518.2 548.8h5.25v5.25h-5.25zM513.2 553.8h5.25v5.25h-5.25zM518.2 553.8h5.25v5.25h-5.25zM523.2 553.8h5.25v5.25h-5.25zM528.2 553.8h5.25v5.25h-5.25zM523.2 558.8h5.25v5.25h-5.25zM528.2 558.8h5.25v5.25h-5.25zM533.2 558.8h5.25v5.25h-5.25zM528.2 563.8h5.25v5.25h-5.25zM533.2 563.8h5.25v5.25h-5.25zM538.2 563.8h5.25v5.25h-5.25zM543.2 563.8h5.25v5.25h-5.25zM548.2 563.8h5.25v5.25h-5.25zM543.2 568.8h5.25v5.25h-5.25zM548.2 568.8h5.25v5.25h-5.25zM553.2 568.8h5.25v5.25h-5.25zM558.2 568.8h5.25v5.25h-5.25zM558.2 573.8h5.25v5.25h-5.25zM563.2 573.8h5.25v5.25h-5.25zM568.2 573.8h5.25v5.25h-5.25zM573.2 573.8h5.25v5.25h-5.25zM578.2 573.8h5.25v5.25h-5.25zM668.2 573.8h2.55v5.25h-2.55zM578.2 578.8h5.25v5.25h-5.25zM583.2 578.8h5.25v5.25h-5.25zM588.2 578.8h5.25v5.25h-5.25zM593.2 578.8h5.25v5.25h-5.25zM598.2 578.8h5.25v5.25h-5.25zM603.2 578.8h5.25v5.25h-5.25zM608.2 578.8h5.25v5.25h-5.25zM658.2 578.8h5.25v5.25h-5.25zM608.2 583.8h5.25v5.25h-5.25zM613.2 583.8h5.25v5.25h-5.25zM618.2 583.8h5.25v5.25h-5.25zM623.2 583.8h5.25v5.25h-5.25zM628.2 583.8h5.25v5.25h-5.25zM633.2 583.8h5.25v5.25h-5.25zM638.2 583.8h5.25v5.25h-5.25zM643.2 583.8h5.25v5.25h-5.25zM648.2 583.8h5.25v5.25h-5.25z"/><path fill="#fcf2f2" d="M613.2 443.8h5.25v5.25h-5.25zM618.2 443.8h5.25v5.25h-5.25zM623.2 443.8h5.25v5.25h-5.25zM628.2 443.8h5.25v5.25h-5.25zM608.2 448.8h5.25v5.25h-5.25zM593.2 453.8h5.25v5.25h-5.25zM598.2 453.8h5.25v5.25h-5.25zM603.2 453.8h5.25v5.25h-5.25zM648.2 453.8h5.25v5.25h-5.25zM573.2 458.8h5.25v5.25h-5.25zM578.2 458.8h5.25v5.25h-5.25zM583.2 458.8h5.25v5.25h-5.25zM658.2 458.8h5.25v5.25h-5.25zM563.2 463.8h5.25v5.25h-5.25zM568.2 463.8h5.25v5.25h-5.25zM663.2 463.8h5.25v5.25h-5.25zM558.2 468.8h5.25v5.25h-5.25zM668.2 468.8h2.55v5.25h-2.55zM548.2 473.8h5.25v5.25h-5.25zM538.2 478.8h5.25v5.25h-5.25zM543.2 478.8h5.25v5.25h-5.25zM533.2 483.8h5.25v5.25h-5.25zM538.2 483.8h5.25v5.25h-5.25zM528.2 488.8h5.25v5.25h-5.25zM533.2 488.8h5.25v5.25h-5.25zM523.2 493.8h5.25v5.25h-5.25zM528.2 493.8h5.25v5.25h-5.25zM518.2 498.8h5.25v5.25h-5.25zM523.2 498.8h5.25v5.25h-5.25zM513.2 503.8h5.25v5.25h-5.25zM518.2 503.8h5.25v5.25h-5.25zM513.2 508.8h5.25v5.25h-5.25zM518.2 508.8h5.25v5.25h-5.25zM508.2 513.8h5.25v5.25h-5.25zM513.2 513.8h5.25v5.25h-5.25zM518.2 513.8h5.25v5.25h-5.25zM508.2 518.8h5.25v5.25h-5.25zM513.2 518.8h5.25v5.25h-5.25zM508.2 523.8h5.25v5.25h-5.25zM513.2 523.8h5.25v5.25h-5.25zM518.2 523.8h5.25v5.25h-5.25zM508.2 528.8h5.25v5.25h-5.25zM513.2 528.8h5.25v5.25h-5.25zM518.2 528.8h5.25v5.25h-5.25zM513.2 533.8h5.25v5.25h-5.25zM518.2 533.8h5.25v5.25h-5.25zM513.2 538.8h5.25v5.25h-5.25zM518.2 538.8h5.25v5.25h-5.25zM523.2 538.8h5.25v5.25h-5.25zM518.2 543.8h5.25v5.25h-5.25zM523.2 543.8h5.25v5.25h-5.25zM528.2 543.8h5.25v5.25h-5.25zM523.2 548.8h5.25v5.25h-5.25zM528.2 548.8h5.25v5.25h-5.25zM533.2 548.8h5.25v5.25h-5.25zM533.2 553.8h5.25v5.25h-5.25zM538.2 553.8h5.25v5.25h-5.25zM543.2 553.8h5.25v5.25h-5.25zM538.2 558.8h5.25v5.25h-5.25zM543.2 558.8h5.25v5.25h-5.25zM548.2 558.8h5.25v5.25h-5.25zM553.2 563.8h5.25v5.25h-5.25zM558.2 563.8h5.25v5.25h-5.25zM563.2 563.8h5.25v5.25h-5.25zM563.2 568.8h5.25v5.25h-5.25zM568.2 568.8h5.25v5.25h-5.25zM573.2 568.8h5.25v5.25h-5.25zM578.2 568.8h5.25v5.25h-5.25zM583.2 573.8h5.25v5.25h-5.25zM588.2 573.8h5.25v5.25h-5.25zM593.2 573.8h5.25v5.25h-5.25zM598.2 573.8h5.25v5.25h-5.25zM603.2 573.8h5.25v5.25h-5.25zM613.2 578.8h5.25v5.25h-5.25zM618.2 578.8h5.25v5.25h-5.25zM623.2 578.8h5.25v5.25h-5.25zM628.2 578.8h5.25v5.25h-5.25zM633.2 578.8h5.25v5.25h-5.25zM638.2 578.8h5.25v5.25h-5.25zM643.2 578.8h5.25v5.25h-5.25zM648.2 578.8h5.25v5.25h-5.25zM653.2 578.8h5.25v5.25h-5.25z"/><path fill="#fceeee" d="M613.2 448.8h5.25v5.25h-5.25zM638.2 448.8h5.25v5.25h-5.25zM608.2 453.8h5.25v5.25h-5.25zM588.2 458.8h5.25v5.25h-5.25zM593.2 458.8h5.25v5.25h-5.25zM598.2 458.8h5.25v5.25h-5.25zM653.2 458.8h5.25v5.25h-5.25zM573.2 463.8h5.25v5.25h-5.25zM578.2 463.8h5.25v5.25h-5.25zM563.2 468.8h5.25v5.25h-5.25zM568.2 468.8h5.25v5.25h-5.25zM553.2 473.8h5.25v5.25h-5.25zM558.2 473.8h5.25v5.25h-5.25zM548.2 478.8h5.25v5.25h-5.25zM543.2 483.8h5.25v5.25h-5.25zM538.2 488.8h5.25v5.25h-5.25zM533.2 493.8h5.25v5.25h-5.25zM528.2 498.8h5.25v5.25h-5.25zM533.2 498.8h5.25v5.25h-5.25zM523.2 503.8h5.25v5.25h-5.25zM528.2 503.8h5.25v5.25h-5.25zM523.2 508.8h5.25v5.25h-5.25zM528.2 508.8h5.25v5.25h-5.25zM523.2 513.8h5.25v5.25h-5.25zM518.2 518.8h5.25v5.25h-5.25zM523.2 518.8h5.25v5.25h-5.25zM523.2 523.8h5.25v5.25h-5.25zM523.2 528.8h5.25v5.25h-5.25zM528.2 528.8h5.25v5.25h-5.25zM523.2 533.8h5.25v5.25h-5.25zM528.2 533.8h5.25v5.25h-5.25zM528.2 538.8h5.25v5.25h-5.25zM533.2 538.8h5.25v5.25h-5.25zM533.2 543.8h5.25v5.25h-5.25zM538.2 543.8h5.25v5.25h-5.25zM538.2 548.8h5.25v5.25h-5.25zM543.2 548.8h5.25v5.25h-5.25zM548.2 553.8h5.25v5.25h-5.25zM553.2 553.8h5.25v5.25h-5.25zM553.2 558.8h5.25v5.25h-5.25zM558.2 558.8h5.25v5.25h-5.25zM563.2 558.8h5.25v5.25h-5.25zM568.2 563.8h5.25v5.25h-5.25zM573.2 563.8h5.25v5.25h-5.25zM578.2 563.8h5.25v5.25h-5.25zM583.2 568.8h5.25v5.25h-5.25zM588.2 568.8h5.25v5.25h-5.25zM593.2 568.8h5.25v5.25h-5.25zM598.2 568.8h5.25v5.25h-5.25zM608.2 573.8h5.25v5.25h-5.25zM613.2 573.8h5.25v5.25h-5.25zM618.2 573.8h5.25v5.25h-5.25zM623.2 573.8h5.25v5.25h-5.25zM628.2 573.8h5.25v5.25h-5.25zM633.2 573.8h5.25v5.25h-5.25zM638.2 573.8h5.25v5.25h-5.25zM643.2 573.8h5.25v5.25h-5.25zM648.2 573.8h5.25v5.25h-5.25zM653.2 573.8h5.25v5.25h-5.25zM658.2 573.8h5.25v5.25h-5.25zM663.2 573.8h5.25v5.25h-5.25z"/><path fill="#fbe7e7" d="M618.2 448.8h5.25v5.25h-5.25zM613.2 453.8h5.25v5.25h-5.25zM608.2 458.8h5.25v5.25h-5.25zM598.2 463.8h5.25v5.25h-5.25zM603.2 463.8h5.25v5.25h-5.25zM578.2 468.8h5.25v5.25h-5.25zM583.2 468.8h5.25v5.25h-5.25zM663.2 468.8h5.25v5.25h-5.25zM568.2 473.8h5.25v5.25h-5.25zM573.2 473.8h5.25v5.25h-5.25zM563.2 478.8h5.25v5.25h-5.25zM553.2 483.8h5.25v5.25h-5.25zM558.2 483.8h5.25v5.25h-5.25zM548.2 488.8h5.25v5.25h-5.25zM553.2 488.8h5.25v5.25h-5.25zM548.2 493.8h5.25v5.25h-5.25zM543.2 498.8h5.25v5.25h-5.25zM538.2 503.8h5.25v5.25h-5.25zM543.2 503.8h5.25v5.25h-5.25zM538.2 508.8h5.25v5.25h-5.25zM538.2 513.8h5.25v5.25h-5.25zM538.2 518.8h5.25v5.25h-5.25zM538.2 523.8h5.25v5.25h-5.25zM538.2 528.8h5.25v5.25h-5.25zM543.2 528.8h5.25v5.25h-5.25zM543.2 533.8h5.25v5.25h-5.25zM548.2 538.8h5.25v5.25h-5.25zM553.2 543.8h5.25v5.25h-5.25zM558.2 548.8h5.25v5.25h-5.25zM563.2 548.8h5.25v5.25h-5.25zM568.2 553.8h5.25v5.25h-5.25zM573.2 553.8h5.25v5.25h-5.25zM578.2 558.8h5.25v5.25h-5.25zM583.2 558.8h5.25v5.25h-5.25zM593.2 563.8h5.25v5.25h-5.25zM598.2 563.8h5.25v5.25h-5.25zM603.2 563.8h5.25v5.25h-5.25zM623.2 568.8h5.25v5.25h-5.25zM628.2 568.8h5.25v5.25h-5.25zM633.2 568.8h5.25v5.25h-5.25zM638.2 568.8h5.25v5.25h-5.25zM643.2 568.8h5.25v5.25h-5.25zM648.2 568.8h5.25v5.25h-5.25zM653.2 568.8h5.25v5.25h-5.25zM658.2 568.8h5.25v5.25h-5.25zM663.2 568.8h5.25v5.25h-5.25z"/><path fill="#fae4e4" d="M623.2 448.8h5.25v5.25h-5.25zM628.2 448.8h5.25v5.25h-5.25zM648.2 458.8h5.25v5.25h-5.25zM588.2 468.8h5.25v5.25h-5.25zM593.2 468.8h5.25v5.25h-5.25zM578.2 473.8h5.25v5.25h-5.25zM668.2 473.8h2.55v5.25h-2.55zM568.2 478.8h5.25v5.25h-5.25zM563.2 483.8h5.25v5.25h-5.25zM558.2 488.8h5.25v5.25h-5.25zM553.2 493.8h5.25v5.25h-5.25zM548.2 498.8h5.25v5.25h-5.25zM548.2 503.8h5.25v5.25h-5.25zM543.2 508.8h5.25v5.25h-5.25zM543.2 513.8h5.25v5.25h-5.25zM543.2 518.8h5.25v5.25h-5.25zM543.2 523.8h5.25v5.25h-5.25zM548.2 528.8h5.25v5.25h-5.25zM548.2 533.8h5.25v5.25h-5.25zM553.2 533.8h5.25v5.25h-5.25zM553.2 538.8h5.25v5.25h-5.25zM558.2 543.8h5.25v5.25h-5.25zM563.2 543.8h5.25v5.25h-5.25zM568.2 548.8h5.25v5.25h-5.25zM578.2 553.8h5.25v5.25h-5.25zM588.2 558.8h5.25v5.25h-5.25zM593.2 558.8h5.25v5.25h-5.25zM608.2 563.8h5.25v5.25h-5.25zM613.2 563.8h5.25v5.25h-5.25zM618.2 563.8h5.25v5.25h-5.25z"/><path fill="#fbebeb" d="M633.2 448.8h5.25v5.25h-5.25zM643.2 453.8h5.25v5.25h-5.25zM603.2 458.8h5.25v5.25h-5.25zM583.2 463.8h5.25v5.25h-5.25zM588.2 463.8h5.25v5.25h-5.25zM593.2 463.8h5.25v5.25h-5.25zM658.2 463.8h5.25v5.25h-5.25zM573.2 468.8h5.25v5.25h-5.25zM563.2 473.8h5.25v5.25h-5.25zM553.2 478.8h5.25v5.25h-5.25zM558.2 478.8h5.25v5.25h-5.25zM548.2 483.8h5.25v5.25h-5.25zM543.2 488.8h5.25v5.25h-5.25zM538.2 493.8h5.25v5.25h-5.25zM543.2 493.8h5.25v5.25h-5.25zM538.2 498.8h5.25v5.25h-5.25zM533.2 503.8h5.25v5.25h-5.25zM533.2 508.8h5.25v5.25h-5.25zM528.2 513.8h5.25v5.25h-5.25zM533.2 513.8h5.25v5.25h-5.25zM528.2 518.8h5.25v5.25h-5.25zM533.2 518.8h5.25v5.25h-5.25zM528.2 523.8h5.25v5.25h-5.25zM533.2 523.8h5.25v5.25h-5.25zM533.2 528.8h5.25v5.25h-5.25zM533.2 533.8h5.25v5.25h-5.25zM538.2 533.8h5.25v5.25h-5.25zM538.2 538.8h5.25v5.25h-5.25zM543.2 538.8h5.25v5.25h-5.25zM543.2 543.8h5.25v5.25h-5.25zM548.2 543.8h5.25v5.25h-5.25zM548.2 548.8h5.25v5.25h-5.25zM553.2 548.8h5.25v5.25h-5.25zM558.2 553.8h5.25v5.25h-5.25zM563.2 553.8h5.25v5.25h-5.25zM568.2 558.8h5.25v5.25h-5.25zM573.2 558.8h5.25v5.25h-5.25zM583.2 563.8h5.25v5.25h-5.25zM588.2 563.8h5.25v5.25h-5.25zM603.2 568.8h5.25v5.25h-5.25zM608.2 568.8h5.25v5.25h-5.25zM613.2 568.8h5.25v5.25h-5.25zM618.2 568.8h5.25v5.25h-5.25zM668.2 568.8h2.55v5.25h-2.55z"/><path fill="#f9dddd" d="M618.2 453.8h5.25v5.25h-5.25zM613.2 458.8h5.25v5.25h-5.25zM658.2 468.8h5.25v5.25h-5.25zM593.2 473.8h5.25v5.25h-5.25zM578.2 478.8h5.25v5.25h-5.25zM573.2 483.8h5.25v5.25h-5.25zM558.2 498.8h5.25v5.25h-5.25zM553.2 508.8h5.25v5.25h-5.25zM553.2 513.8h5.25v5.25h-5.25zM553.2 518.8h5.25v5.25h-5.25zM553.2 523.8h5.25v5.25h-5.25zM558.2 528.8h5.25v5.25h-5.25zM563.2 533.8h5.25v5.25h-5.25zM568.2 538.8h5.25v5.25h-5.25zM573.2 543.8h5.25v5.25h-5.25zM583.2 548.8h5.25v5.25h-5.25zM593.2 553.8h5.25v5.25h-5.25zM608.2 558.8h5.25v5.25h-5.25zM613.2 558.8h5.25v5.25h-5.25z"/><path fill="#f7d3d3" d="M623.2 453.8h5.25v5.25h-5.25zM628.2 453.8h5.25v5.25h-5.25zM648.2 463.8h5.25v5.25h-5.25zM608.2 473.8h5.25v5.25h-5.25zM598.2 478.8h5.25v5.25h-5.25zM578.2 488.8h5.25v5.25h-5.25zM573.2 493.8h5.25v5.25h-5.25zM568.2 498.8h5.25v5.25h-5.25zM568.2 503.8h5.25v5.25h-5.25zM563.2 513.8h5.25v5.25h-5.25zM568.2 523.8h5.25v5.25h-5.25zM573.2 533.8h5.25v5.25h-5.25zM578.2 538.8h5.25v5.25h-5.25zM588.2 543.8h5.25v5.25h-5.25zM598.2 548.8h5.25v5.25h-5.25zM613.2 553.8h5.25v5.25h-5.25zM618.2 553.8h5.25v5.25h-5.25zM623.2 553.8h5.25v5.25h-5.25z"/><path fill="#f7d6d7" d="M633.2 453.8h5.25v5.25h-5.25zM613.2 463.8h5.25v5.25h-5.25zM593.2 478.8h5.25v5.25h-5.25zM583.2 483.8h5.25v5.25h-5.25zM573.2 488.8h5.25v5.25h-5.25zM568.2 493.8h5.25v5.25h-5.25zM563.2 503.8h5.25v5.25h-5.25zM563.2 508.8h5.25v5.25h-5.25zM563.2 518.8h5.25v5.25h-5.25zM563.2 523.8h5.25v5.25h-5.25zM568.2 528.8h5.25v5.25h-5.25zM583.2 543.8h5.25v5.25h-5.25zM593.2 548.8h5.25v5.25h-5.25zM608.2 553.8h5.25v5.25h-5.25zM653.2 558.8h5.25v5.25h-5.25zM658.2 558.8h5.25v5.25h-5.25zM663.2 558.8h5.25v5.25h-5.25z"/><path fill="#f9e1e1" d="M638.2 453.8h5.25v5.25h-5.25zM608.2 463.8h5.25v5.25h-5.25zM653.2 463.8h5.25v5.25h-5.25zM598.2 468.8h5.25v5.25h-5.25zM603.2 468.8h5.25v5.25h-5.25zM583.2 473.8h5.25v5.25h-5.25zM588.2 473.8h5.25v5.25h-5.25zM573.2 478.8h5.25v5.25h-5.25zM568.2 483.8h5.25v5.25h-5.25zM563.2 488.8h5.25v5.25h-5.25zM558.2 493.8h5.25v5.25h-5.25zM553.2 498.8h5.25v5.25h-5.25zM553.2 503.8h5.25v5.25h-5.25zM548.2 508.8h5.25v5.25h-5.25zM548.2 513.8h5.25v5.25h-5.25zM548.2 518.8h5.25v5.25h-5.25zM548.2 523.8h5.25v5.25h-5.25zM553.2 528.8h5.25v5.25h-5.25zM558.2 533.8h5.25v5.25h-5.25zM558.2 538.8h5.25v5.25h-5.25zM563.2 538.8h5.25v5.25h-5.25zM568.2 543.8h5.25v5.25h-5.25zM573.2 548.8h5.25v5.25h-5.25zM578.2 548.8h5.25v5.25h-5.25zM583.2 553.8h5.25v5.25h-5.25zM588.2 553.8h5.25v5.25h-5.25zM598.2 558.8h5.25v5.25h-5.25zM603.2 558.8h5.25v5.25h-5.25zM623.2 563.8h5.25v5.25h-5.25zM628.2 563.8h5.25v5.25h-5.25zM633.2 563.8h5.25v5.25h-5.25zM638.2 563.8h5.25v5.25h-5.25zM643.2 563.8h5.25v5.25h-5.25zM648.2 563.8h5.25v5.25h-5.25zM653.2 563.8h5.25v5.25h-5.25zM658.2 563.8h5.25v5.25h-5.25zM663.2 563.8h5.25v5.25h-5.25zM668.2 563.8h2.55v5.25h-2.55z"/><path fill="#f6d0d0" d="M618.2 458.8h5.25v5.25h-5.25zM613.2 468.8h5.25v5.25h-5.25zM653.2 468.8h5.25v5.25h-5.25zM658.2 473.8h5.25v5.25h-5.25zM603.2 478.8h5.25v5.25h-5.25zM588.2 483.8h5.25v5.25h-5.25zM593.2 483.8h5.25v5.25h-5.25zM583.2 488.8h5.25v5.25h-5.25zM573.2 498.8h5.25v5.25h-5.25zM568.2 508.8h5.25v5.25h-5.25zM568.2 513.8h5.25v5.25h-5.25zM568.2 518.8h5.25v5.25h-5.25zM573.2 528.8h5.25v5.25h-5.25zM578.2 533.8h5.25v5.25h-5.25zM583.2 538.8h5.25v5.25h-5.25zM593.2 543.8h5.25v5.25h-5.25zM603.2 548.8h5.25v5.25h-5.25zM608.2 548.8h5.25v5.25h-5.25zM628.2 553.8h5.25v5.25h-5.25zM633.2 553.8h5.25v5.25h-5.25zM638.2 553.8h5.25v5.25h-5.25zM643.2 553.8h5.25v5.25h-5.25zM648.2 553.8h5.25v5.25h-5.25zM653.2 553.8h5.25v5.25h-5.25zM663.2 553.8h5.25v5.25h-5.25zM668.2 553.8h2.55v5.25h-2.55z"/><path fill="#f3c2c3" d="M623.2 458.8h5.25v5.25h-5.25zM598.2 488.8h5.25v5.25h-5.25zM668.2 488.8h2.55v5.25h-2.55zM583.2 503.8h5.25v5.25h-5.25zM583.2 523.8h5.25v5.25h-5.25zM588.2 528.8h5.25v5.25h-5.25zM593.2 533.8h5.25v5.25h-5.25zM613.2 543.8h5.25v5.25h-5.25zM618.2 543.8h5.25v5.25h-5.25zM658.2 548.8h5.25v5.25h-5.25z"/><path fill="#f2b8b8" d="M628.2 458.8h5.25v5.25h-5.25zM618.2 473.8h5.25v5.25h-5.25zM613.2 488.8h5.25v5.25h-5.25zM603.2 493.8h5.25v5.25h-5.25zM588.2 508.8h5.25v5.25h-5.25zM588.2 513.8h5.25v5.25h-5.25zM588.2 518.8h5.25v5.25h-5.25zM593.2 523.8h5.25v5.25h-5.25zM598.2 528.8h5.25v5.25h-5.25zM603.2 533.8h5.25v5.25h-5.25zM618.2 538.8h5.25v5.25h-5.25zM653.2 543.8h5.25v5.25h-5.25zM658.2 543.8h5.25v5.25h-5.25zM663.2 543.8h5.25v5.25h-5.25z"/><path fill="#f2bcbc" d="M633.2 458.8h5.25v5.25h-5.25zM648.2 468.8h5.25v5.25h-5.25zM653.2 473.8h5.25v5.25h-5.25zM658.2 478.8h5.25v5.25h-5.25zM608.2 488.8h5.25v5.25h-5.25zM598.2 493.8h5.25v5.25h-5.25zM593.2 498.8h5.25v5.25h-5.25zM588.2 503.8h5.25v5.25h-5.25zM588.2 523.8h5.25v5.25h-5.25zM593.2 528.8h5.25v5.25h-5.25zM598.2 533.8h5.25v5.25h-5.25zM608.2 538.8h5.25v5.25h-5.25zM613.2 538.8h5.25v5.25h-5.25zM643.2 543.8h5.25v5.25h-5.25zM648.2 543.8h5.25v5.25h-5.25z"/><path fill="#f5c9c9" d="M638.2 458.8h5.25v5.25h-5.25zM603.2 483.8h5.25v5.25h-5.25zM588.2 488.8h5.25v5.25h-5.25zM583.2 493.8h5.25v5.25h-5.25zM578.2 498.8h5.25v5.25h-5.25zM573.2 508.8h5.25v5.25h-5.25zM573.2 513.8h5.25v5.25h-5.25zM578.2 523.8h5.25v5.25h-5.25zM593.2 538.8h5.25v5.25h-5.25zM603.2 543.8h5.25v5.25h-5.25zM618.2 548.8h5.25v5.25h-5.25zM623.2 548.8h5.25v5.25h-5.25zM628.2 548.8h5.25v5.25h-5.25zM633.2 548.8h5.25v5.25h-5.25zM638.2 548.8h5.25v5.25h-5.25zM668.2 548.8h2.55v5.25h-2.55z"/><path fill="#f8dada" d="M643.2 458.8h5.25v5.25h-5.25zM608.2 468.8h5.25v5.25h-5.25zM598.2 473.8h5.25v5.25h-5.25zM603.2 473.8h5.25v5.25h-5.25zM663.2 473.8h5.25v5.25h-5.25zM583.2 478.8h5.25v5.25h-5.25zM588.2 478.8h5.25v5.25h-5.25zM668.2 478.8h2.55v5.25h-2.55zM578.2 483.8h5.25v5.25h-5.25zM568.2 488.8h5.25v5.25h-5.25zM563.2 493.8h5.25v5.25h-5.25zM563.2 498.8h5.25v5.25h-5.25zM558.2 503.8h5.25v5.25h-5.25zM558.2 508.8h5.25v5.25h-5.25zM558.2 513.8h5.25v5.25h-5.25zM558.2 518.8h5.25v5.25h-5.25zM558.2 523.8h5.25v5.25h-5.25zM563.2 528.8h5.25v5.25h-5.25zM568.2 533.8h5.25v5.25h-5.25zM573.2 538.8h5.25v5.25h-5.25zM578.2 543.8h5.25v5.25h-5.25zM588.2 548.8h5.25v5.25h-5.25zM598.2 553.8h5.25v5.25h-5.25zM603.2 553.8h5.25v5.25h-5.25zM618.2 558.8h5.25v5.25h-5.25zM623.2 558.8h5.25v5.25h-5.25zM628.2 558.8h5.25v5.25h-5.25zM633.2 558.8h5.25v5.25h-5.25zM638.2 558.8h5.25v5.25h-5.25zM643.2 558.8h5.25v5.25h-5.25zM648.2 558.8h5.25v5.25h-5.25zM668.2 558.8h2.55v5.25h-2.55z"/><path fill="#f4c6c6" d="M618.2 463.8h5.25v5.25h-5.25zM613.2 478.8h5.25v5.25h-5.25zM608.2 483.8h5.25v5.25h-5.25zM593.2 488.8h5.25v5.25h-5.25zM588.2 493.8h5.25v5.25h-5.25zM583.2 498.8h5.25v5.25h-5.25zM578.2 503.8h5.25v5.25h-5.25zM578.2 508.8h5.25v5.25h-5.25zM578.2 513.8h5.25v5.25h-5.25zM578.2 518.8h5.25v5.25h-5.25zM583.2 528.8h5.25v5.25h-5.25zM588.2 533.8h5.25v5.25h-5.25zM598.2 538.8h5.25v5.25h-5.25zM608.2 543.8h5.25v5.25h-5.25zM643.2 548.8h5.25v5.25h-5.25zM648.2 548.8h5.25v5.25h-5.25zM653.2 548.8h5.25v5.25h-5.25zM663.2 548.8h5.25v5.25h-5.25z"/><path fill="#f0aeae" d="M623.2 463.8h5.25v5.25h-5.25zM618.2 488.8h5.25v5.25h-5.25zM663.2 488.8h5.25v5.25h-5.25zM608.2 498.8h5.25v5.25h-5.25zM598.2 508.8h5.25v5.25h-5.25zM598.2 513.8h5.25v5.25h-5.25zM598.2 518.8h5.25v5.25h-5.25zM603.2 523.8h5.25v5.25h-5.25zM608.2 528.8h5.25v5.25h-5.25zM618.2 533.8h5.25v5.25h-5.25zM623.2 533.8h5.25v5.25h-5.25zM653.2 538.8h5.25v5.25h-5.25zM658.2 538.8h5.25v5.25h-5.25zM663.2 538.8h5.25v5.25h-5.25z"/><path fill="#ec9d9e" d="M628.2 463.8h5.25v5.25h-5.25zM623.2 483.8h5.25v5.25h-5.25zM623.2 488.8h5.25v5.25h-5.25zM623.2 493.8h5.25v5.25h-5.25zM623.2 498.8h5.25v5.25h-5.25zM618.2 508.8h5.25v5.25h-5.25zM668.2 508.8h2.55v5.25h-2.55zM618.2 513.8h5.25v5.25h-5.25zM618.2 518.8h5.25v5.25h-5.25zM628.2 523.8h5.25v5.25h-5.25zM668.2 523.8h2.55v5.25h-2.55zM643.2 528.8h5.25v5.25h-5.25z"/><path fill="#ec9a9a" d="M633.2 463.8h5.25v5.25h-5.25zM643.2 468.8h5.25v5.25h-5.25zM623.2 473.8h5.25v5.25h-5.25zM648.2 473.8h5.25v5.25h-5.25zM623.2 478.8h5.25v5.25h-5.25zM623.2 503.8h5.25v5.25h-5.25zM623.2 508.8h5.25v5.25h-5.25zM623.2 513.8h5.25v5.25h-5.25zM668.2 513.8h2.55v5.25h-2.55zM623.2 518.8h5.25v5.25h-5.25zM628.2 518.8h5.25v5.25h-5.25zM668.2 518.8h2.55v5.25h-2.55zM633.2 523.8h5.25v5.25h-5.25zM638.2 523.8h5.25v5.25h-5.25zM648.2 528.8h5.25v5.25h-5.25zM663.2 528.8h5.25v5.25h-5.25z"/><path fill="#eea7a8" d="M638.2 463.8h5.25v5.25h-5.25zM658.2 483.8h5.25v5.25h-5.25zM608.2 503.8h5.25v5.25h-5.25zM603.2 508.8h5.25v5.25h-5.25zM603.2 513.8h5.25v5.25h-5.25zM608.2 523.8h5.25v5.25h-5.25zM618.2 528.8h5.25v5.25h-5.25zM643.2 533.8h5.25v5.25h-5.25zM648.2 533.8h5.25v5.25h-5.25z"/><path fill="#f3bfbf" d="M643.2 463.8h5.25v5.25h-5.25zM618.2 468.8h5.25v5.25h-5.25zM613.2 483.8h5.25v5.25h-5.25zM663.2 483.8h5.25v5.25h-5.25zM603.2 488.8h5.25v5.25h-5.25zM593.2 493.8h5.25v5.25h-5.25zM588.2 498.8h5.25v5.25h-5.25zM583.2 508.8h5.25v5.25h-5.25zM583.2 513.8h5.25v5.25h-5.25zM583.2 518.8h5.25v5.25h-5.25zM603.2 538.8h5.25v5.25h-5.25zM623.2 543.8h5.25v5.25h-5.25zM628.2 543.8h5.25v5.25h-5.25zM633.2 543.8h5.25v5.25h-5.25zM638.2 543.8h5.25v5.25h-5.25zM668.2 543.8h2.55v5.25h-2.55z"/><path fill="#eda0a1" d="M623.2 468.8h5.25v5.25h-5.25zM653.2 478.8h5.25v5.25h-5.25zM663.2 493.8h5.25v5.25h-5.25zM618.2 503.8h5.25v5.25h-5.25zM668.2 503.8h2.55v5.25h-2.55zM613.2 508.8h5.25v5.25h-5.25zM613.2 513.8h5.25v5.25h-5.25zM613.2 518.8h5.25v5.25h-5.25zM618.2 523.8h5.25v5.25h-5.25zM623.2 523.8h5.25v5.25h-5.25zM638.2 528.8h5.25v5.25h-5.25zM658.2 533.8h5.25v5.25h-5.25z"/><path fill="#e78283" d="M628.2 468.8h5.25v5.25h-5.25zM653.2 483.8h5.25v5.25h-5.25zM628.2 488.8h5.25v5.25h-5.25zM658.2 493.8h5.25v5.25h-5.25zM643.2 513.8h5.25v5.25h-5.25zM653.2 518.8h5.25v5.25h-5.25z"/><path fill="#e57575" d="M633.2 468.8h5.25v5.25h-5.25zM648.2 478.8h5.25v5.25h-5.25zM628.2 483.8h5.25v5.25h-5.25zM638.2 503.8h5.25v5.25h-5.25zM658.2 503.8h5.25v5.25h-5.25zM643.2 508.8h5.25v5.25h-5.25z"/><path fill="#e77f7f" d="M638.2 468.8h5.25v5.25h-5.25zM638.2 508.8h5.25v5.25h-5.25z"/><path fill="#f5cccd" d="M613.2 473.8h5.25v5.25h-5.25zM608.2 478.8h5.25v5.25h-5.25zM663.2 478.8h5.25v5.25h-5.25zM598.2 483.8h5.25v5.25h-5.25zM668.2 483.8h2.55v5.25h-2.55zM578.2 493.8h5.25v5.25h-5.25zM573.2 503.8h5.25v5.25h-5.25zM573.2 518.8h5.25v5.25h-5.25zM573.2 523.8h5.25v5.25h-5.25zM578.2 528.8h5.25v5.25h-5.25zM583.2 533.8h5.25v5.25h-5.25zM588.2 538.8h5.25v5.25h-5.25zM598.2 543.8h5.25v5.25h-5.25zM613.2 548.8h5.25v5.25h-5.25zM658.2 553.8h5.25v5.25h-5.25z"/><path fill="#e47172" d="M628.2 473.8h5.25v5.25h-5.25zM643.2 473.8h5.25v5.25h-5.25z"/><path fill="#df5657" d="M633.2 473.8h5.25v5.25h-5.25zM638.2 473.8h5.25v5.25h-5.25zM648.2 483.8h5.25v5.25h-5.25z"/><path fill="#f1b5b5" d="M618.2 478.8h5.25v5.25h-5.25zM608.2 493.8h5.25v5.25h-5.25zM668.2 493.8h2.55v5.25h-2.55zM598.2 498.8h5.25v5.25h-5.25zM593.2 503.8h5.25v5.25h-5.25zM593.2 518.8h5.25v5.25h-5.25zM608.2 533.8h5.25v5.25h-5.25zM623.2 538.8h5.25v5.25h-5.25zM628.2 538.8h5.25v5.25h-5.25zM633.2 538.8h5.25v5.25h-5.25zM638.2 538.8h5.25v5.25h-5.25zM668.2 538.8h2.55v5.25h-2.55z"/><path fill="#e36e6f" d="M628.2 478.8h5.25v5.25h-5.25zM653.2 488.8h5.25v5.25h-5.25zM648.2 508.8h5.25v5.25h-5.25zM653.2 508.8h5.25v5.25h-5.25z"/><path fill="#dc494a" d="M633.2 478.8h5.25v5.25h-5.25z"/><path fill="#d93839" d="M638.2 478.8h5.25v5.25h-5.25zM638.2 488.8h5.25v5.25h-5.25z"/><path fill="#dd4c4d" d="M643.2 478.8h5.25v5.25h-5.25zM633.2 483.8h5.25v5.25h-5.25zM638.2 493.8h5.25v5.25h-5.25zM648.2 498.8h5.25v5.25h-5.25z"/><path fill="#f0b1b2" d="M618.2 483.8h5.25v5.25h-5.25zM613.2 493.8h5.25v5.25h-5.25zM603.2 498.8h5.25v5.25h-5.25zM598.2 503.8h5.25v5.25h-5.25zM593.2 508.8h5.25v5.25h-5.25zM593.2 513.8h5.25v5.25h-5.25zM598.2 523.8h5.25v5.25h-5.25zM603.2 528.8h5.25v5.25h-5.25zM613.2 533.8h5.25v5.25h-5.25zM643.2 538.8h5.25v5.25h-5.25zM648.2 538.8h5.25v5.25h-5.25z"/><path fill="#d72e2f" d="M638.2 483.8h5.25v5.25h-5.25zM643.2 488.8h5.25v5.25h-5.25z"/><path fill="#d93435" d="M643.2 483.8h5.25v5.25h-5.25z"/><path fill="#e05a5a" d="M633.2 488.8h5.25v5.25h-5.25z"/><path fill="#dc4546" d="M648.2 488.8h5.25v5.25h-5.25z"/><path fill="#ea9394" d="M658.2 488.8h5.25v5.25h-5.25zM663.2 498.8h5.25v5.25h-5.25zM628.2 503.8h5.25v5.25h-5.25zM628.2 508.8h5.25v5.25h-5.25zM663.2 523.8h5.25v5.25h-5.25z"/><path fill="#efabab" d="M618.2 493.8h5.25v5.25h-5.25zM613.2 498.8h5.25v5.25h-5.25zM668.2 498.8h2.55v5.25h-2.55zM603.2 503.8h5.25v5.25h-5.25zM603.2 518.8h5.25v5.25h-5.25zM613.2 528.8h5.25v5.25h-5.25zM628.2 533.8h5.25v5.25h-5.25zM633.2 533.8h5.25v5.25h-5.25zM638.2 533.8h5.25v5.25h-5.25zM668.2 533.8h2.55v5.25h-2.55z"/><path fill="#e98989" d="M628.2 493.8h5.25v5.25h-5.25zM663.2 508.8h5.25v5.25h-5.25zM638.2 513.8h5.25v5.25h-5.25zM663.2 513.8h5.25v5.25h-5.25z"/><path fill="#e36a6b" d="M633.2 493.8h5.25v5.25h-5.25z"/><path fill="#da3b3c" d="M643.2 493.8h5.25v5.25h-5.25z"/><path fill="#db4243" d="M648.2 493.8h5.25v5.25h-5.25z"/><path fill="#e16061" d="M653.2 493.8h5.25v5.25h-5.25z"/><path fill="#eea4a4" d="M618.2 498.8h5.25v5.25h-5.25zM613.2 503.8h5.25v5.25h-5.25zM608.2 508.8h5.25v5.25h-5.25zM608.2 513.8h5.25v5.25h-5.25zM608.2 518.8h5.25v5.25h-5.25zM613.2 523.8h5.25v5.25h-5.25zM623.2 528.8h5.25v5.25h-5.25zM628.2 528.8h5.25v5.25h-5.25zM633.2 528.8h5.25v5.25h-5.25zM668.2 528.8h2.55v5.25h-2.55zM653.2 533.8h5.25v5.25h-5.25zM663.2 533.8h5.25v5.25h-5.25z"/><path fill="#ea9090" d="M628.2 498.8h5.25v5.25h-5.25zM633.2 513.8h5.25v5.25h-5.25zM638.2 518.8h5.25v5.25h-5.25zM648.2 523.8h5.25v5.25h-5.25z"/><path fill="#e67b7c" d="M633.2 498.8h5.25v5.25h-5.25zM648.2 513.8h5.25v5.25h-5.25zM658.2 513.8h5.25v5.25h-5.25z"/><path fill="#e26464" d="M638.2 498.8h5.25v5.25h-5.25zM643.2 503.8h5.25v5.25h-5.25zM653.2 503.8h5.25v5.25h-5.25z"/><path fill="#de5050" d="M643.2 498.8h5.25v5.25h-5.25z"/><path fill="#e05d5e" d="M653.2 498.8h5.25v5.25h-5.25zM648.2 503.8h5.25v5.25h-5.25z"/><path fill="#e57879" d="M658.2 498.8h5.25v5.25h-5.25zM658.2 508.8h5.25v5.25h-5.25zM653.2 513.8h5.25v5.25h-5.25z"/><path fill="#e88686" d="M633.2 503.8h5.25v5.25h-5.25zM648.2 518.8h5.25v5.25h-5.25zM658.2 518.8h5.25v5.25h-5.25z"/><path fill="#e98c8d" d="M663.2 503.8h5.25v5.25h-5.25zM633.2 508.8h5.25v5.25h-5.25zM643.2 518.8h5.25v5.25h-5.25zM663.2 518.8h5.25v5.25h-5.25zM653.2 523.8h5.25v5.25h-5.25zM658.2 523.8h5.25v5.25h-5.25z"/><path fill="#eb9697" d="M628.2 513.8h5.25v5.25h-5.25zM633.2 518.8h5.25v5.25h-5.25zM643.2 523.8h5.25v5.25h-5.25zM653.2 528.8h5.25v5.25h-5.25zM658.2 528.8h5.25v5.25h-5.25z"/><path d="M672 486.6C671.3 486.5 669.5 487.1 667.8 486.2C666.1 485.3 663.8 482.9 662 481.5C660.2 480.1 658.9 479.1 656.9 478C654.9 476.9 652.2 475.7 650 474.8C647.8 473.9 646.5 473.4 643.5 472.6C640.5 471.8 635.7 470.8 632 470.2C628.3 469.6 625.8 469.1 621.5 468.8C617.2 468.5 610.5 468.2 606 468.2C601.5 468.2 598.1 468.3 594.3 468.6C590.5 468.9 587.1 469.3 583 469.9C578.9 470.5 574 471.2 569.8 472.3C565.6 473.4 561.6 474.8 558 476.2C554.4 477.6 551.5 479 548 480.8C544.5 482.6 540.6 484.7 537 487C533.4 489.3 529.5 491.9 526.3 494.4C523 496.9 520.2 499.5 517.5 502C514.8 504.5 512.1 506.9 510 509.4C507.9 511.9 506.4 514.5 505 517C503.6 519.5 502.1 522.3 501.8 524.4C501.6 526.5 502.6 527.9 503.5 529.5C504.4 531.1 505.5 532.1 507.2 533.9C508.9 535.6 511.2 538 513.5 540C515.8 542 518 543.9 520.8 546.1C523.5 548.3 526.8 550.7 530 553C533.2 555.3 536.5 557.6 539.9 559.7C543.3 561.8 546.9 563.7 550.5 565.5C554.1 567.3 557.9 569.1 561.6 570.6C565.3 572.1 568.9 573.3 572.5 574.5C576.1 575.7 579.8 577 583.4 578C587 579 590.4 579.9 594 580.7C597.6 581.5 601.5 582.2 605.2 582.9C608.9 583.6 612.4 584.4 616 585C619.6 585.6 623.6 586.3 626.9 586.4C630.1 586.5 632.8 586.2 635.5 585.8C638.2 585.4 640.8 584.9 643.3 584.2C645.8 583.5 648.2 582.7 650.5 581.8C652.8 580.9 654.9 580 656.9 578.8C658.9 577.6 660.7 576.2 662.5 574.8C664.3 573.4 666.2 571.8 667.8 570.6C669.4 569.4 671.3 568 672 567.5" fill="none" stroke="#1f77b4" stroke-width="1.5" stroke-linejoin="round" stroke-linecap="round"/><path d="M672 485.5C671.3 485.2 669.5 485.1 667.8 483.5C666.1 481.9 663.8 478.3 662 476C660.2 473.7 658.9 471.8 656.9 469.9C654.9 468 652.3 466.1 650 464.5C647.7 462.9 645.5 461.5 643.3 460.4C641.1 459.3 639.3 458.5 636.6 457.8C633.9 457.1 629.9 456.4 626.9 456.2C623.9 456 620.8 456.2 618.5 456.6C616.2 457 615 457.7 613.3 458.5C611.5 459.3 609.6 460.3 608 461.5C606.4 462.7 605 464.3 603.8 465.9C602.6 467.5 602.1 469.2 601 471C599.9 472.8 598.8 475.1 597 476.7C595.2 478.3 592.8 479.4 590.5 480.5C588.2 481.6 586.5 482.5 583.4 483.5C580.3 484.5 575.6 485.5 572 486.5C568.4 487.5 565.6 488.3 561.6 489.5C557.6 490.7 552.5 492.2 548 493.7C543.5 495.2 538.6 496.9 534.4 498.5C530.2 500.1 526.6 501.7 523 503.5C519.4 505.3 515.5 507.4 512.7 509.4C509.9 511.4 507.8 513.3 506 515.3C504.2 517.3 502.9 519.7 501.8 521.6C500.7 523.5 499.9 524.9 499.3 526.5C498.8 528.1 498.6 529.6 498.5 531.2C498.4 532.8 498.7 534.4 499 536C499.3 537.6 499.6 538.8 500.4 540.7C501.1 542.6 502.4 545.2 503.5 547.5C504.6 549.8 505.7 552 507.2 554.3C508.7 556.6 510.7 558.9 512.5 561.2C514.3 563.5 516.1 565.9 518.1 567.9C520.1 569.9 522.2 571.7 524.5 573.5C526.8 575.3 529.2 577 531.7 578.8C534.2 580.6 536.8 582.5 539.5 584.3C542.2 586.1 545 588.2 548 589.7C551 591.2 554.3 592.5 557.5 593.6C560.7 594.7 563.7 595.9 567.1 596.5C570.5 597.1 574.4 597.3 578 597.4C581.6 597.5 585.2 597.5 588.8 597.3C592.4 597.1 595.9 596.8 599.5 596.4C603.1 596 606.9 595.7 610.6 595.1C614.3 594.5 617.9 593.7 621.5 592.8C625.1 591.9 629.1 590.8 632.4 589.7C635.6 588.6 638.3 587.4 641 586C643.7 584.6 646.3 582.9 648.7 581.5C651.1 580.1 653.2 578.9 655.5 577.5C657.8 576.1 660.4 574.5 662.3 573.3C664.2 572.1 665.4 571.1 667 570.3C668.6 569.4 671.2 568.6 672 568.2" fill="none" stroke="#ff7f0e" stroke-width="1.5" stroke-linejoin="round" stroke-linecap="round"/><path d="M672 482.8C671.3 482.5 669.4 482.7 667.8 480.8C666.1 478.9 663.9 473.9 662.1 471.5C660.3 469.1 659.1 468.5 657 466.5C654.9 464.5 652.2 461.7 649.4 459.7C646.6 457.7 643 455.9 640 454.5C637 453.1 634.5 452.4 631.5 451.5C628.5 450.6 625 449.6 622 449C619 448.4 616.7 447.9 613.7 447.6C610.7 447.3 606.8 447.1 604 447C601.2 446.9 599.2 446.6 597 446.9C594.8 447.1 592.8 447.8 591 448.5C589.2 449.2 587.6 449.8 586.1 450.9C584.6 452 583.4 453.6 582 455C580.6 456.4 579.8 457.5 578 459.2C576.2 460.9 573.3 463.2 571 465C568.7 466.8 567.1 468.3 564.4 469.9C561.7 471.5 558.2 473.2 555 474.8C551.8 476.4 548.8 477.6 545.3 479.5C541.8 481.4 537.6 484 534 486.5C530.4 489 526.5 491.8 523.5 494.4C520.5 497 518.2 499.3 516 502C513.8 504.7 511.7 508 510 510.7C508.3 513.4 506.9 515.7 506 518C505.1 520.3 504.6 522.6 504.5 524.4C504.4 526.2 504.9 527.6 505.3 529C505.8 530.4 506.1 531.3 507.2 532.5C508.3 533.7 510.4 534.6 512 536C513.6 537.4 515.6 538.9 516.7 540.7C517.8 542.5 518.3 544.7 518.8 547C519.3 549.3 519 552 519.5 554.3C520 556.6 520.9 558.7 521.8 561C522.7 563.3 523.7 565.7 524.9 567.9C526.1 570.1 527.4 572.3 529 574.3C530.6 576.3 532.6 578.3 534.4 580.1C536.1 581.9 537.7 583.7 539.5 585.3C541.3 586.9 543 588.3 545.3 589.7C547.5 591.1 550.3 592.5 553 593.6C555.7 594.7 558.6 595.8 561.6 596.5C564.6 597.2 567.8 597.6 571 597.9C574.2 598.2 577.3 598.4 580.7 598.4C584.1 598.4 587.9 598.1 591.5 597.8C595.1 597.5 599 597 602.4 596.5C605.8 596 608.8 595.5 612 594.9C615.2 594.3 618.3 593.7 621.5 592.9C624.7 592.1 627.8 591.2 631 590.2C634.2 589.2 637.5 588.2 640.5 586.9C643.5 585.6 646.3 584.2 649 582.6C651.7 581 654.6 579 656.9 577.4C659.1 575.8 660.7 574.6 662.5 573.2C664.3 571.9 666.2 570.2 667.8 569.3C669.4 568.4 671.3 567.9 672 567.6" fill="none" stroke="#2ca02c" stroke-width="1.5" stroke-linejoin="round" stroke-linecap="round"/><path d="M672 484.3C671.2 483.6 669.2 482.3 667.5 480.4C665.8 478.5 663.8 475.2 662 473C660.2 470.8 658.9 469.1 656.9 467.2C654.9 465.2 652.3 463.1 650 461.3C647.7 459.5 646 458.1 643.3 456.5C640.6 454.9 637.2 453.4 634 452C630.8 450.6 627.6 449.3 624.2 448.4C620.8 447.5 617.3 447.2 613.7 446.6C610.1 446 605.4 445.3 602.4 445C599.4 444.7 598.2 444.7 595.9 445C593.6 445.3 590.3 446.1 588.5 446.8C586.7 447.5 585.9 448.3 585 449.2C584.1 450.1 583.9 450.7 583.3 452C582.7 453.3 582.4 455.3 581.5 457C580.6 458.7 579.8 460.3 578 462C576.2 463.7 573.3 465.4 571 467C568.7 468.6 567.1 469.7 564.4 471.3C561.7 472.9 558.2 474.8 555 476.6C551.8 478.4 548.8 480.2 545.3 482.2C541.8 484.2 537.6 486.5 534 488.8C530.4 491.1 526.8 493.4 523.5 495.8C520.2 498.2 517.2 500.8 514.5 503.5C511.8 506.2 509.1 509.6 507.2 512.1C505.3 514.6 504 516.5 503 518.5C502 520.5 501.4 522.5 501.2 524.4C501 526.3 501.4 528.2 501.7 530C502 531.8 502.4 533.2 503.1 535.2C503.8 537.2 504.9 539.7 506 542C507.1 544.3 508.8 546.8 509.9 548.8C511 550.8 511.6 552.5 512.5 554.3C513.4 556.1 514.3 557.6 515.4 559.7C516.5 561.8 517.6 564.5 519 566.8C520.4 569.1 521.8 571.2 523.5 573.3C525.2 575.4 527.2 577.4 529.5 579.2C531.8 581 534.4 582.7 537.1 584.2C539.8 585.8 542.8 587.1 545.5 588.5C548.2 589.9 551.5 591.2 553.5 592.4C555.5 593.6 556.4 594.7 557.8 595.8C559.1 596.9 559.7 598 561.6 599.2C563.5 600.4 566.3 601.9 569 602.8C571.7 603.7 575.1 604.6 578 604.6C580.9 604.6 583.8 603.7 586.5 603C589.2 602.3 591.6 601.3 594.3 600.5C597 599.7 599.8 599 602.5 598.3C605.2 597.6 607.4 597.2 610.6 596.5C613.8 595.8 617.9 594.9 621.5 594C625.1 593.1 629.1 592.1 632.4 591C635.6 589.9 638.3 588.9 641 587.5C643.7 586.1 646.3 584.5 648.7 582.9C651.1 581.3 653.2 579.6 655.5 577.8C657.8 576 660.5 573.6 662.3 572C664 570.4 664.9 569.3 666 568.3C667.1 567.2 668.1 566.3 669.1 565.7C670.1 565.1 671.5 564.9 672 564.8" fill="none" stroke="#d62728" stroke-width="1.5" stroke-linejoin="round" stroke-linecap="round"/></g><polygon points="618.8,492.2 620.1,496 624.1,496.1 620.9,498.5 622.1,502.3 618.8,500 615.5,502.3 616.7,498.5 613.5,496.1 617.5,496" fill="#1f77b4" stroke="#111" stroke-width="0.7" stroke-linejoin="miter"/><polygon points="637.8,548.6 639.1,552.4 643.1,552.5 639.9,554.9 641.1,558.7 637.8,556.4 634.5,558.7 635.7,554.9 632.5,552.5 636.5,552.4" fill="#ff7f0e" stroke="#111" stroke-width="0.7" stroke-linejoin="miter"/><polygon points="661.5,497 662.8,500.8 666.8,500.9 663.6,503.3 664.8,507.1 661.5,504.8 658.2,507.1 659.4,503.3 656.2,500.9 660.2,500.8" fill="#2ca02c" stroke="#111" stroke-width="0.7" stroke-linejoin="miter"/><polygon points="665.4,515.3 666.7,519.1 670.7,519.2 667.5,521.6 668.7,525.4 665.4,523.1 662.1,525.4 663.3,521.6 660.1,519.2 664.1,519.1" fill="#d62728" stroke="#111" stroke-width="0.7" stroke-linejoin="miter"/><rect x="422.2" y="351.6" width="248.3" height="60.7" fill="none" stroke="#929292" stroke-width="1"/><rect x="670.5" y="412.3" width="62.5" height="242.3" fill="none" stroke="#929292" stroke-width="1"/><rect x="422.2" y="412.3" width="248.3" height="242.3" fill="none" stroke="#929292" stroke-width="1"/><g clip-path="url(#c4t)"><path d="M522 351.6V412.3" stroke="#1f77b4" stroke-width="1.0" stroke-dasharray="3.2 1.4" fill="none"/><path d="M517.5 351.6V412.3" stroke="#ff7f0e" stroke-width="1.0" stroke-dasharray="3.2 1.4" fill="none"/><path d="M520 351.6V412.3" stroke="#2ca02c" stroke-width="1.0" stroke-dasharray="3.2 1.4" fill="none"/><path d="M514.2 351.6V412.3" stroke="#d62728" stroke-width="1.0" stroke-dasharray="3.2 1.4" fill="none"/><path d="M663.9 351.6V412.3" stroke="#1f77b4" stroke-width="1.0" stroke-dasharray="3.2 1.4" fill="none"/><path d="M660.6 351.6V412.3" stroke="#ff7f0e" stroke-width="1.0" stroke-dasharray="3.2 1.4" fill="none"/><path d="M660.3 351.6V412.3" stroke="#2ca02c" stroke-width="1.0" stroke-dasharray="3.2 1.4" fill="none"/><path d="M660 351.6V412.3" stroke="#d62728" stroke-width="1.0" stroke-dasharray="3.2 1.4" fill="none"/><path d="M422.2 412.3V412.3H425.1V412.3H428V412.3H430.9V412.3H433.7V412.2H436.6V412.2H439.5V412.2H442.4V412.1H445.3V412.1H448.2V412H451.1V411.9H454V411.8H456.8V411.7H459.7V411.5H462.6V411.4H465.5V411.2H468.4V411.1H471.3V410.9H474.2V410.8H477.1V410.7H479.9V410.3H482.8V410.1H485.7V409.8H488.6V409.7H491.5V409.3H494.4V408.8H497.3V408.6H500.2V408.6H503V407.9H505.9V407.6H508.8V407.6H511.7V407H514.6V406.7H517.5V406.4H520.4V405.5H523.3V405.2H526.1V404.9H529V404.1H531.9V403.6H534.8V403.2H537.7V402.9H540.6V402.9H543.5V402.3H546.4V401.6H549.2V400.7H552.1V400.3H555V399H557.9V398.1H560.8V397.3H563.7V396.7H566.6V395.6H569.4V394.6H572.3V393.4H575.2V392.9H578.1V392H581V390.7H583.9V389.5H586.8V388.5H589.7V387.9H592.5V386.5H595.4V385.4H598.3V384.7H601.2V383.7H604.1V382.5H607V381.2H609.9V380.1H612.8V379.1H615.6V377.8H618.5V376.9H621.4V375.6H624.3V373.7H627.2V372.5H630.1V371.3H633V370.1H635.9V368.8H638.7V367.1H641.6V365.7H644.5V364.6H647.4V364H650.3V364.3H653.2V364.2H656.1V365.3H659V367.8H661.8V375.1H664.7V385H667.6V394.8H670.5V412.3" fill="#1f77b4" fill-opacity="0.2"/><path d="M422.2 412.3V412.3H425.1V412.3H428V412.2H430.9V412.2H433.7V412.2H436.6V412.1H439.5V412.1H442.4V412H445.3V411.9H448.2V411.8H451.1V411.6H454V411.5H456.8V411.4H459.7V411.2H462.6V411.1H465.5V411H468.4V410.8H471.3V410.4H474.2V410.4H477.1V410.2H479.9V410H482.8V409.5H485.7V409.5H488.6V409H491.5V408.6H494.4V408.6H497.3V407.8H500.2V407.7H503V407H505.9V407.1H508.8V406.2H511.7V406.1H514.6V405.4H517.5V405.1H520.4V404.5H523.3V404.1H526.1V404H529V403.7H531.9V403.1H534.8V402.4H537.7V402.1H540.6V401.6H543.5V400.9H546.4V400.3H549.2V400H552.1V398.8H555V397.9H557.9V397.3H560.8V396.5H563.7V395H566.6V394.3H569.4V393.8H572.3V392.5H575.2V391.2H578.1V390.5H581V389.4H583.9V388.5H586.8V387.3H589.7V386.8H592.5V385.5H595.4V384.1H598.3V383.5H601.2V382.3H604.1V381H607V379.9H609.9V379.4H612.8V378H615.6V376.8H618.5V376H621.4V374.8H624.3V373.2H627.2V371.8H630.1V370.9H633V369.7H635.9V369.4H638.7V369.4H641.6V369.5H644.5V371.2H647.4V373H650.3V375.6H653.2V378.4H656.1V381.8H659V384.7H661.8V388.3H664.7V393H667.6V398.8H670.5V412.3" fill="#ff7f0e" fill-opacity="0.2"/><path d="M422.2 412.3V412.3H425.1V412.3H428V412.2H430.9V412.2H433.7V412.2H436.6V412.1H439.5V412.1H442.4V412H445.3V411.9H448.2V411.8H451.1V411.7H454V411.4H456.8V411.2H459.7V411.1H462.6V410.9H465.5V410.9H468.4V410.7H471.3V410.4H474.2V410.1H477.1V409.9H479.9V409.8H482.8V409.3H485.7V409.1H488.6V408.6H491.5V408.2H494.4V407.8H497.3V407.9H500.2V407H503V407.1H505.9V406.8H508.8V406.7H511.7V406.2H514.6V405.5H517.5V404.9H520.4V404.4H523.3V403.6H526.1V403.5H529V402.7H531.9V402.3H534.8V402.3H537.7V401.5H540.6V400.9H543.5V400.7H546.4V399.5H549.2V399.1H552.1V398.5H555V397.7H557.9V396.4H560.8V395.5H563.7V394.5H566.6V393.9H569.4V392.5H572.3V392H575.2V390.8H578.1V389.4H581V388.5H583.9V387.6H586.8V386.2H589.7V385.3H592.5V383.9H595.4V383.3H598.3V381.9H601.2V380.7H604.1V379.6H607V378.2H609.9V377.3H612.8V376.5H615.6V374.7H618.5V373.9H621.4V372.1H624.3V370.8H627.2V369.5H630.1V368.4H633V367.7H635.9V367H638.7V367H641.6V366.6H644.5V366.9H647.4V367H650.3V368.4H653.2V370.8H656.1V374.5H659V379.6H661.8V385.5H664.7V390.5H667.6V396.1H670.5V412.3" fill="#2ca02c" fill-opacity="0.2"/><path d="M422.2 412.3V412.3H425.1V412.2H428V412.2H430.9V412.2H433.7V412.1H436.6V412.1H439.5V412H442.4V411.9H445.3V411.7H448.2V411.6H451.1V411.4H454V411.3H456.8V411.2H459.7V410.9H462.6V410.8H465.5V410.6H468.4V410.3H471.3V410.2H474.2V409.8H477.1V409.5H479.9V409.4H482.8V409H485.7V408.7H488.6V408.3H491.5V408.2H494.4V407.3H497.3V407.4H500.2V406.6H503V406.4H505.9V405.9H508.8V405.5H511.7V405.4H514.6V405.3H517.5V404.8H520.4V404.3H523.3V403.5H526.1V403.2H529V402.8H531.9V402.2H534.8V401.5H537.7V400.9H540.6V400.3H543.5V400.4H546.4V399.1H549.2V398.4H552.1V398H555V397.1H557.9V395.9H560.8V395.5H563.7V394.3H566.6V393.1H569.4V392.1H572.3V391.5H575.2V390.2H578.1V389.3H581V388.1H583.9V387.6H586.8V386.7H589.7V385.2H592.5V384.7H595.4V383.1H598.3V382.5H601.2V381.7H604.1V380.2H607V379.2H609.9V377.9H612.8V377.5H615.6V375.6H618.5V375.2H621.4V373.9H624.3V372.7H627.2V370.8H630.1V370.3H633V368.4H635.9V368.1H638.7V369H641.6V369.9H644.5V371.3H647.4V372.5H650.3V374H653.2V376.6H656.1V379.8H659V383.3H661.8V386.6H664.7V391.4H667.6V397.9H670.5V412.3" fill="#d62728" fill-opacity="0.2"/><path d="M422.2 412.3V412.3H425.1V412.3H428V412.3H430.9V412.3H433.7V412.2H436.6V412.2H439.5V412.2H442.4V412.1H445.3V412.1H448.2V412H451.1V411.9H454V411.8H456.8V411.7H459.7V411.5H462.6V411.4H465.5V411.2H468.4V411.1H471.3V410.9H474.2V410.8H477.1V410.7H479.9V410.3H482.8V410.1H485.7V409.8H488.6V409.7H491.5V409.3H494.4V408.8H497.3V408.6H500.2V408.6H503V407.9H505.9V407.6H508.8V407.6H511.7V407H514.6V406.7H517.5V406.4H520.4V405.5H523.3V405.2H526.1V404.9H529V404.1H531.9V403.6H534.8V403.2H537.7V402.9H540.6V402.9H543.5V402.3H546.4V401.6H549.2V400.7H552.1V400.3H555V399H557.9V398.1H560.8V397.3H563.7V396.7H566.6V395.6H569.4V394.6H572.3V393.4H575.2V392.9H578.1V392H581V390.7H583.9V389.5H586.8V388.5H589.7V387.9H592.5V386.5H595.4V385.4H598.3V384.7H601.2V383.7H604.1V382.5H607V381.2H609.9V380.1H612.8V379.1H615.6V377.8H618.5V376.9H621.4V375.6H624.3V373.7H627.2V372.5H630.1V371.3H633V370.1H635.9V368.8H638.7V367.1H641.6V365.7H644.5V364.6H647.4V364H650.3V364.3H653.2V364.2H656.1V365.3H659V367.8H661.8V375.1H664.7V385H667.6V394.8H670.5V412.3" fill="none" stroke="#1f77b4" stroke-width="1.45" stroke-linejoin="miter"/><path d="M422.2 412.3V412.3H425.1V412.3H428V412.2H430.9V412.2H433.7V412.2H436.6V412.1H439.5V412.1H442.4V412H445.3V411.9H448.2V411.8H451.1V411.6H454V411.5H456.8V411.4H459.7V411.2H462.6V411.1H465.5V411H468.4V410.8H471.3V410.4H474.2V410.4H477.1V410.2H479.9V410H482.8V409.5H485.7V409.5H488.6V409H491.5V408.6H494.4V408.6H497.3V407.8H500.2V407.7H503V407H505.9V407.1H508.8V406.2H511.7V406.1H514.6V405.4H517.5V405.1H520.4V404.5H523.3V404.1H526.1V404H529V403.7H531.9V403.1H534.8V402.4H537.7V402.1H540.6V401.6H543.5V400.9H546.4V400.3H549.2V400H552.1V398.8H555V397.9H557.9V397.3H560.8V396.5H563.7V395H566.6V394.3H569.4V393.8H572.3V392.5H575.2V391.2H578.1V390.5H581V389.4H583.9V388.5H586.8V387.3H589.7V386.8H592.5V385.5H595.4V384.1H598.3V383.5H601.2V382.3H604.1V381H607V379.9H609.9V379.4H612.8V378H615.6V376.8H618.5V376H621.4V374.8H624.3V373.2H627.2V371.8H630.1V370.9H633V369.7H635.9V369.4H638.7V369.4H641.6V369.5H644.5V371.2H647.4V373H650.3V375.6H653.2V378.4H656.1V381.8H659V384.7H661.8V388.3H664.7V393H667.6V398.8H670.5V412.3" fill="none" stroke="#ff7f0e" stroke-width="1.45" stroke-linejoin="miter"/><path d="M422.2 412.3V412.3H425.1V412.3H428V412.2H430.9V412.2H433.7V412.2H436.6V412.1H439.5V412.1H442.4V412H445.3V411.9H448.2V411.8H451.1V411.7H454V411.4H456.8V411.2H459.7V411.1H462.6V410.9H465.5V410.9H468.4V410.7H471.3V410.4H474.2V410.1H477.1V409.9H479.9V409.8H482.8V409.3H485.7V409.1H488.6V408.6H491.5V408.2H494.4V407.8H497.3V407.9H500.2V407H503V407.1H505.9V406.8H508.8V406.7H511.7V406.2H514.6V405.5H517.5V404.9H520.4V404.4H523.3V403.6H526.1V403.5H529V402.7H531.9V402.3H534.8V402.3H537.7V401.5H540.6V400.9H543.5V400.7H546.4V399.5H549.2V399.1H552.1V398.5H555V397.7H557.9V396.4H560.8V395.5H563.7V394.5H566.6V393.9H569.4V392.5H572.3V392H575.2V390.8H578.1V389.4H581V388.5H583.9V387.6H586.8V386.2H589.7V385.3H592.5V383.9H595.4V383.3H598.3V381.9H601.2V380.7H604.1V379.6H607V378.2H609.9V377.3H612.8V376.5H615.6V374.7H618.5V373.9H621.4V372.1H624.3V370.8H627.2V369.5H630.1V368.4H633V367.7H635.9V367H638.7V367H641.6V366.6H644.5V366.9H647.4V367H650.3V368.4H653.2V370.8H656.1V374.5H659V379.6H661.8V385.5H664.7V390.5H667.6V396.1H670.5V412.3" fill="none" stroke="#2ca02c" stroke-width="1.45" stroke-linejoin="miter"/><path d="M422.2 412.3V412.3H425.1V412.2H428V412.2H430.9V412.2H433.7V412.1H436.6V412.1H439.5V412H442.4V411.9H445.3V411.7H448.2V411.6H451.1V411.4H454V411.3H456.8V411.2H459.7V410.9H462.6V410.8H465.5V410.6H468.4V410.3H471.3V410.2H474.2V409.8H477.1V409.5H479.9V409.4H482.8V409H485.7V408.7H488.6V408.3H491.5V408.2H494.4V407.3H497.3V407.4H500.2V406.6H503V406.4H505.9V405.9H508.8V405.5H511.7V405.4H514.6V405.3H517.5V404.8H520.4V404.3H523.3V403.5H526.1V403.2H529V402.8H531.9V402.2H534.8V401.5H537.7V400.9H540.6V400.3H543.5V400.4H546.4V399.1H549.2V398.4H552.1V398H555V397.1H557.9V395.9H560.8V395.5H563.7V394.3H566.6V393.1H569.4V392.1H572.3V391.5H575.2V390.2H578.1V389.3H581V388.1H583.9V387.6H586.8V386.7H589.7V385.2H592.5V384.7H595.4V383.1H598.3V382.5H601.2V381.7H604.1V380.2H607V379.2H609.9V377.9H612.8V377.5H615.6V375.6H618.5V375.2H621.4V373.9H624.3V372.7H627.2V370.8H630.1V370.3H633V368.4H635.9V368.1H638.7V369H641.6V369.9H644.5V371.3H647.4V372.5H650.3V374H653.2V376.6H656.1V379.8H659V383.3H661.8V386.6H664.7V391.4H667.6V397.9H670.5V412.3" fill="none" stroke="#d62728" stroke-width="1.45" stroke-linejoin="miter"/></g><g clip-path="url(#c4r)"><path d="M670.5 483.3H733" stroke="#1f77b4" stroke-width="1.0" stroke-dasharray="3.2 1.4" fill="none"/><path d="M670.5 476.9H733" stroke="#ff7f0e" stroke-width="1.0" stroke-dasharray="3.2 1.4" fill="none"/><path d="M670.5 467.4H733" stroke="#2ca02c" stroke-width="1.0" stroke-dasharray="3.2 1.4" fill="none"/><path d="M670.5 467.8H733" stroke="#d62728" stroke-width="1.0" stroke-dasharray="3.2 1.4" fill="none"/><path d="M670.5 572.3H733" stroke="#1f77b4" stroke-width="1.0" stroke-dasharray="3.2 1.4" fill="none"/><path d="M670.5 584.4H733" stroke="#ff7f0e" stroke-width="1.0" stroke-dasharray="3.2 1.4" fill="none"/><path d="M670.5 584H733" stroke="#2ca02c" stroke-width="1.0" stroke-dasharray="3.2 1.4" fill="none"/><path d="M670.5 586.1H733" stroke="#d62728" stroke-width="1.0" stroke-dasharray="3.2 1.4" fill="none"/><path d="M670.5 442.9H670.5V445.7H670.8V448.5H671V451.3H671.3V454.1H671.7V456.9H672.4V459.6H673.1V462.4H674V465.2H674.7V468H675.9V470.8H678V473.6H679.6V476.4H682V479.1H684.1V481.9H686.1V484.7H688V487.5H690.5V490.3H693V493.1H696.3V495.9H700.4V498.6H704.9V501.4H709.4V504.2H713.3V507H715.6V509.8H717.7V512.6H719.6V515.3H719.8V518.1H720V520.9H718.5V523.7H717.2V526.5H715.3V529.3H713.9V532.1H712.1V534.8H709.7V537.6H707.6V540.4H705.2V543.2H702.5V546H699.9V548.8H697.1V551.6H694.1V554.3H691V557.1H688.3V559.9H686V562.7H684.3V565.5H681.8V568.3H680.1V571H678.2V573.8H676.7V576.6H676V579.4H675V582.2H674.3V585H673V587.8H672.1V590.5H671.6V593.3H671.1V596.1H670.8V598.9H670.5V601.7H670.5" fill="#1f77b4" fill-opacity="0.2"/><path d="M670.5 434.6H670.5V437.4H670.7V440.2H670.9V442.9H671.2V445.7H671.5V448.5H672.3V451.3H673.3V454.1H674.6V456.9H675.4V459.6H676.4V462.4H678.3V465.2H679.3V468H680.2V470.8H682.2V473.6H683.3V476.4H684.7V479.1H685.9V481.9H687.4V484.7H688.4V487.5H689.4V490.3H690.7V493.1H691.6V495.9H693.4V498.6H694.3V501.4H695.7V504.2H697.3V507H699.1V509.8H701.8V512.6H703.6V515.3H705.6V518.1H707.1V520.9H707.8V523.7H709.4V526.5H709.7V529.3H710.5V532.1H710.4V534.8H710V537.6H708.5V540.4H707.2V543.2H705.5V546H703.9V548.8H702.8V551.6H700.7V554.3H698V557.1H696.2V559.9H694V562.7H692.1V565.5H690.2V568.3H688.4V571H687V573.8H684.3V576.6H682.6V579.4H680.6V582.2H679.5V585H677.8V587.8H676.8V590.5H675.3V593.3H674.1V596.1H673.5V598.9H672.9V601.7H672.2V604.5H671.5V607.3H671.1V610H670.7V612.8H670.5V615.6H670.5" fill="#ff7f0e" fill-opacity="0.2"/><path d="M670.5 431.8H670.5V434.6H670.7V437.4H671V440.2H671.3V442.9H671.8V445.7H672.7V448.5H674V451.3H675.8V454.1H677.6V456.9H678.8V459.6H680.9V462.4H683.7V465.2H685.7V468H689.2V470.8H692.2V473.6H695.1V476.4H698.2V479.1H699.8V481.9H700.9V484.7H701.6V487.5H702V490.3H702.5V493.1H703.3V495.9H703.5V498.6H704V501.4H703.7V504.2H703.2V507H702.8V509.8H702.3V512.6H702.3V515.3H701.5V518.1H701V520.9H701V523.7H700.3V526.5H699.4V529.3H699.2V532.1H698.2V534.8H697.1V537.6H694.9V540.4H693.8V543.2H693.2V546H692.2V548.8H690.8V551.6H690.7V554.3H689.5V557.1H688.6V559.9H687.6V562.7H686.9V565.5H685.5V568.3H685.1V571H684.2V573.8H683.1V576.6H681.1V579.4H680V582.2H678.5V585H677.2V587.8H676V590.5H674.8V593.3H674.4V596.1H673.3V598.9H672.9V601.7H672.2V604.5H671.6V607.3H671.1V610H670.7V612.8H670.5" fill="#2ca02c" fill-opacity="0.2"/><path d="M670.5 431.8H670.6V434.6H670.9V437.4H671.3V440.2H671.9V442.9H672.9V445.7H673.8V448.5H674.8V451.3H676V454.1H676.6V456.9H677.7V459.6H679.7V462.4H681.5V465.2H683.1V468H684.6V470.8H687.2V473.6H689.7V476.4H692.2V479.1H694.2V481.9H694.9V484.7H696.1V487.5H696.9V490.3H697.3V493.1H698.3V495.9H699.1V498.6H699.5V501.4H700.9V504.2H701.3V507H702.2V509.8H702.5V512.6H703.5V515.3H703.5V518.1H703.6V520.9H703.4V523.7H703.4V526.5H702.6V529.3H701.6V532.1H701.3V534.8H700.5V537.6H699.6V540.4H698.8V543.2H697.2V546H696.5V548.8H695.2V551.6H693.5V554.3H692V557.1H690.8V559.9H690.1V562.7H688.1V565.5H686.7V568.3H685.2V571H684.1V573.8H683V576.6H681.3V579.4H680.6V582.2H679.6V585H677.8V587.8H677.3V590.5H676.2V593.3H675.2V596.1H674.3V598.9H673.8V601.7H673.2V604.5H672.5V607.3H672V610H671.4V612.8H671V615.6H670.8V618.4H670.7V621.2H670.6V624H670.6V626.7H670.5V629.5H670.5" fill="#d62728" fill-opacity="0.2"/><path d="M670.5 442.9H670.5V445.7H670.8V448.5H671V451.3H671.3V454.1H671.7V456.9H672.4V459.6H673.1V462.4H674V465.2H674.7V468H675.9V470.8H678V473.6H679.6V476.4H682V479.1H684.1V481.9H686.1V484.7H688V487.5H690.5V490.3H693V493.1H696.3V495.9H700.4V498.6H704.9V501.4H709.4V504.2H713.3V507H715.6V509.8H717.7V512.6H719.6V515.3H719.8V518.1H720V520.9H718.5V523.7H717.2V526.5H715.3V529.3H713.9V532.1H712.1V534.8H709.7V537.6H707.6V540.4H705.2V543.2H702.5V546H699.9V548.8H697.1V551.6H694.1V554.3H691V557.1H688.3V559.9H686V562.7H684.3V565.5H681.8V568.3H680.1V571H678.2V573.8H676.7V576.6H676V579.4H675V582.2H674.3V585H673V587.8H672.1V590.5H671.6V593.3H671.1V596.1H670.8V598.9H670.5V601.7H670.5" fill="none" stroke="#1f77b4" stroke-width="1.45" stroke-linejoin="miter"/><path d="M670.5 434.6H670.5V437.4H670.7V440.2H670.9V442.9H671.2V445.7H671.5V448.5H672.3V451.3H673.3V454.1H674.6V456.9H675.4V459.6H676.4V462.4H678.3V465.2H679.3V468H680.2V470.8H682.2V473.6H683.3V476.4H684.7V479.1H685.9V481.9H687.4V484.7H688.4V487.5H689.4V490.3H690.7V493.1H691.6V495.9H693.4V498.6H694.3V501.4H695.7V504.2H697.3V507H699.1V509.8H701.8V512.6H703.6V515.3H705.6V518.1H707.1V520.9H707.8V523.7H709.4V526.5H709.7V529.3H710.5V532.1H710.4V534.8H710V537.6H708.5V540.4H707.2V543.2H705.5V546H703.9V548.8H702.8V551.6H700.7V554.3H698V557.1H696.2V559.9H694V562.7H692.1V565.5H690.2V568.3H688.4V571H687V573.8H684.3V576.6H682.6V579.4H680.6V582.2H679.5V585H677.8V587.8H676.8V590.5H675.3V593.3H674.1V596.1H673.5V598.9H672.9V601.7H672.2V604.5H671.5V607.3H671.1V610H670.7V612.8H670.5V615.6H670.5" fill="none" stroke="#ff7f0e" stroke-width="1.45" stroke-linejoin="miter"/><path d="M670.5 431.8H670.5V434.6H670.7V437.4H671V440.2H671.3V442.9H671.8V445.7H672.7V448.5H674V451.3H675.8V454.1H677.6V456.9H678.8V459.6H680.9V462.4H683.7V465.2H685.7V468H689.2V470.8H692.2V473.6H695.1V476.4H698.2V479.1H699.8V481.9H700.9V484.7H701.6V487.5H702V490.3H702.5V493.1H703.3V495.9H703.5V498.6H704V501.4H703.7V504.2H703.2V507H702.8V509.8H702.3V512.6H702.3V515.3H701.5V518.1H701V520.9H701V523.7H700.3V526.5H699.4V529.3H699.2V532.1H698.2V534.8H697.1V537.6H694.9V540.4H693.8V543.2H693.2V546H692.2V548.8H690.8V551.6H690.7V554.3H689.5V557.1H688.6V559.9H687.6V562.7H686.9V565.5H685.5V568.3H685.1V571H684.2V573.8H683.1V576.6H681.1V579.4H680V582.2H678.5V585H677.2V587.8H676V590.5H674.8V593.3H674.4V596.1H673.3V598.9H672.9V601.7H672.2V604.5H671.6V607.3H671.1V610H670.7V612.8H670.5" fill="none" stroke="#2ca02c" stroke-width="1.45" stroke-linejoin="miter"/><path d="M670.5 431.8H670.6V434.6H670.9V437.4H671.3V440.2H671.9V442.9H672.9V445.7H673.8V448.5H674.8V451.3H676V454.1H676.6V456.9H677.7V459.6H679.7V462.4H681.5V465.2H683.1V468H684.6V470.8H687.2V473.6H689.7V476.4H692.2V479.1H694.2V481.9H694.9V484.7H696.1V487.5H696.9V490.3H697.3V493.1H698.3V495.9H699.1V498.6H699.5V501.4H700.9V504.2H701.3V507H702.2V509.8H702.5V512.6H703.5V515.3H703.5V518.1H703.6V520.9H703.4V523.7H703.4V526.5H702.6V529.3H701.6V532.1H701.3V534.8H700.5V537.6H699.6V540.4H698.8V543.2H697.2V546H696.5V548.8H695.2V551.6H693.5V554.3H692V557.1H690.8V559.9H690.1V562.7H688.1V565.5H686.7V568.3H685.2V571H684.1V573.8H683V576.6H681.3V579.4H680.6V582.2H679.6V585H677.8V587.8H677.3V590.5H676.2V593.3H675.2V596.1H674.3V598.9H673.8V601.7H673.2V604.5H672.5V607.3H672V610H671.4V612.8H671V615.6H670.8V618.4H670.7V621.2H670.6V624H670.6V626.7H670.5V629.5H670.5" fill="none" stroke="#d62728" stroke-width="1.45" stroke-linejoin="miter"/></g><path d="M472.8 654.6v3M522.6 654.6v3M572.4 654.6v3M622.2 654.6v3M435.4 654.6v1.7M447.9 654.6v1.7M460.4 654.6v1.7M485.2 654.6v1.7M497.7 654.6v1.7M510.1 654.6v1.7M535 654.6v1.7M547.5 654.6v1.7M560 654.6v1.7M584.9 654.6v1.7M597.3 654.6v1.7M609.8 654.6v1.7M634.6 654.6v1.7M647.1 654.6v1.7M659.5 654.6v1.7" stroke="#929292" stroke-width="0.8" fill="none"/><path d="M422.2 649.9h-3M422.2 619.4h-3M422.2 588.9h-3M422.2 558.4h-3M422.2 527.9h-3M422.2 497.4h-3M422.2 466.9h-3M422.2 436.4h-3M422.2 642.3h-1.7M422.2 634.6h-1.7M422.2 627h-1.7M422.2 611.8h-1.7M422.2 604.1h-1.7M422.2 596.5h-1.7M422.2 581.3h-1.7M422.2 573.6h-1.7M422.2 566h-1.7M422.2 550.8h-1.7M422.2 543.1h-1.7M422.2 535.5h-1.7M422.2 520.3h-1.7M422.2 512.6h-1.7M422.2 505h-1.7M422.2 489.8h-1.7M422.2 482.1h-1.7M422.2 474.5h-1.7M422.2 459.3h-1.7M422.2 451.6h-1.7M422.2 444h-1.7M422.2 428.8h-1.7M422.2 421.1h-1.7" stroke="#929292" stroke-width="0.8" fill="none"/><path d="M422.2 410.1h-1.3M422.2 408h-1.3M422.2 405.8h-1.3M422.2 403.6h-1.3M422.2 401.4h-1.3M422.2 399.3h-1.3M422.2 397.1h-1.3M422.2 394.9h-1.3M422.2 392.8h-1.3M422.2 390.6h-2.6M422.2 388.4h-1.3M422.2 386.3h-1.3M422.2 384.1h-1.3M422.2 381.9h-1.3M422.2 379.8h-1.3M422.2 377.6h-1.3M422.2 375.4h-1.3M422.2 373.2h-1.3M422.2 371.1h-1.3M422.2 368.9h-2.6M422.2 366.7h-1.3M422.2 364.6h-1.3M422.2 362.4h-1.3M422.2 360.2h-1.3M422.2 358.1h-1.3M422.2 355.9h-1.3M422.2 353.7h-1.3M672.7 654.6v1.3M674.9 654.6v1.3M677.1 654.6v1.3M679.3 654.6v1.3M681.5 654.6v1.3M683.7 654.6v1.3M685.9 654.6v1.3M688.1 654.6v1.3M690.3 654.6v1.3M692.5 654.6v2.6M694.7 654.6v1.3M696.9 654.6v1.3M699.1 654.6v1.3M701.3 654.6v1.3M703.5 654.6v1.3M705.7 654.6v1.3M707.9 654.6v1.3M710.1 654.6v1.3M712.3 654.6v1.3M714.5 654.6v2.6M716.7 654.6v1.3M718.9 654.6v1.3M721.1 654.6v1.3M723.3 654.6v1.3M725.5 654.6v1.3M727.7 654.6v1.3M729.9 654.6v1.3M732.1 654.6v1.3" stroke="#929292" stroke-width="0.7" fill="none"/><g font-family="'DejaVu Sans','Liberation Sans',sans-serif" font-size="11.4" fill="#262626" text-anchor="middle"><text x="472.8" y="667.6">0.2</text><text x="522.6" y="667.6">0.4</text><text x="572.4" y="667.6">0.6</text><text x="622.2" y="667.6">0.8</text></g><g font-family="'DejaVu Sans','Liberation Sans',sans-serif" font-size="11.4" fill="#262626" text-anchor="end"><text x="417.5" y="653.2">−0.8</text><text x="417.5" y="622.7">−0.6</text><text x="417.5" y="592.2">−0.4</text><text x="417.5" y="561.7">−0.2</text><text x="417.5" y="531.2">0.0</text><text x="417.5" y="500.7">0.2</text><text x="417.5" y="470.2">0.4</text><text x="417.5" y="439.7">0.6</text></g><rect x="431.4" y="422.9" width="10.2" height="7.3" fill="none" stroke="#1f77b4" stroke-width="1.1"/><text x="450" y="430.9" font-family="'Liberation Serif','DejaVu Serif',serif" font-size="12.5" fill="#262626"><tspan font-style="italic">ℓ</tspan><tspan dx="2.5">≤</tspan><tspan dx="0.5">2</tspan></text><rect x="431.4" y="438.9" width="10.2" height="7.3" fill="none" stroke="#ff7f0e" stroke-width="1.1"/><text x="450" y="446.9" font-family="'Liberation Serif','DejaVu Serif',serif" font-size="12.5" fill="#262626"><tspan font-style="italic">ℓ</tspan><tspan dx="2.5">≤</tspan><tspan dx="0.5">3</tspan></text><rect x="431.4" y="455.2" width="10.2" height="7.3" fill="none" stroke="#2ca02c" stroke-width="1.1"/><text x="450" y="463.2" font-family="'Liberation Serif','DejaVu Serif',serif" font-size="12.5" fill="#262626"><tspan font-style="italic">ℓ</tspan><tspan dx="2.5">≤</tspan><tspan dx="0.5">4</tspan></text><rect x="431.4" y="471.2" width="10.2" height="7.3" fill="none" stroke="#d62728" stroke-width="1.1"/><text x="450" y="479.2" font-family="'Liberation Serif','DejaVu Serif',serif" font-size="12.5" fill="#262626"><tspan font-style="italic">ℓ</tspan><tspan dx="2.5">≤</tspan><tspan dx="0.5">5</tspan></text><text x="540.8" y="679.8" font-family="'Liberation Serif','DejaVu Serif',serif" font-size="14.5" fill="#262626" font-style="italic">χ<tspan font-size="10.5" dy="3" font-style="normal">p</tspan></text><text transform="translate(382,541.8) rotate(-90)" font-family="'Liberation Serif','DejaVu Serif',serif" font-size="14" fill="#262626" font-style="italic">χ<tspan font-size="9.5" dy="3" font-style="normal">eff</tspan></text></svg></body></html>
